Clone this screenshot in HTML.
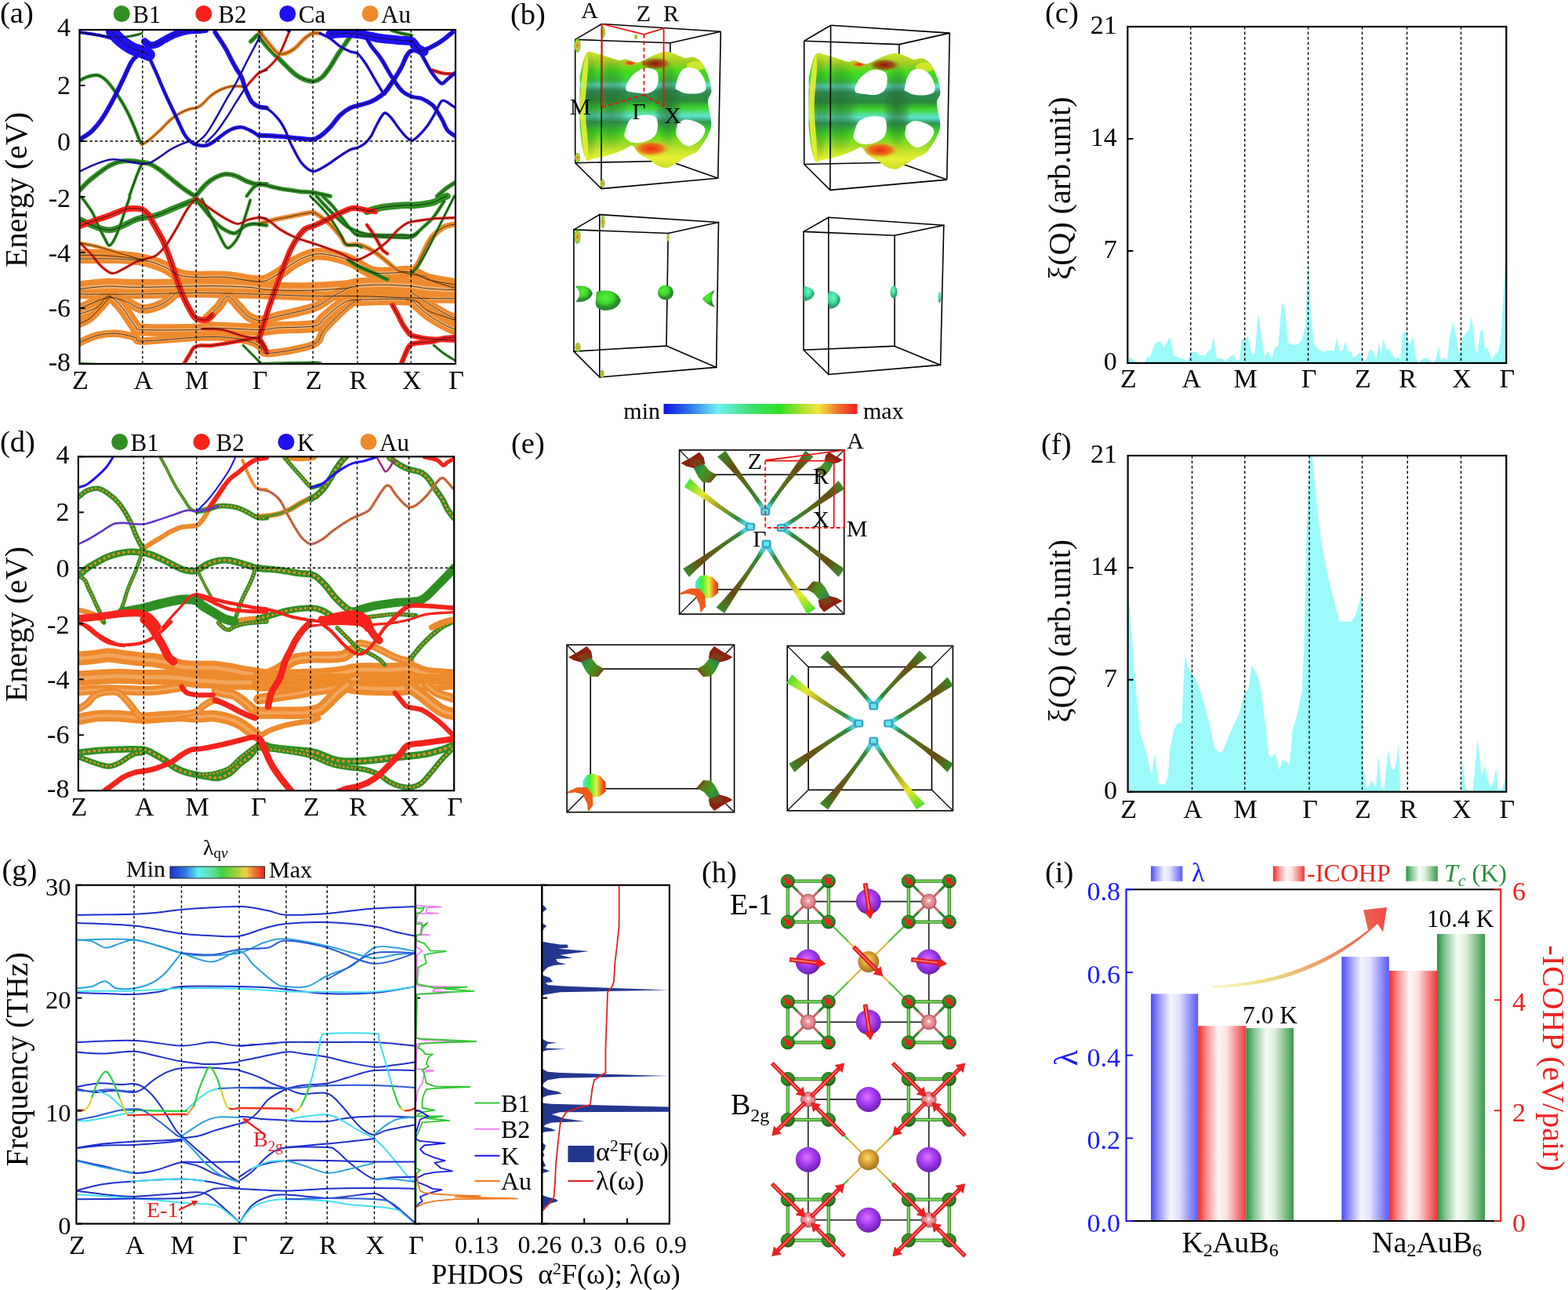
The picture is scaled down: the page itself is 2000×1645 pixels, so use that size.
<!DOCTYPE html>
<html><head><meta charset="utf-8"><title>Figure</title>
<style>html,body{margin:0;padding:0;background:#fff;} svg{display:block;} text{font-family:'Liberation Serif','DejaVu Serif',serif;}</style>
</head><body>
<svg width="2000" height="1645" viewBox="0 0 2000 1645">
<rect x="0" y="0" width="2000" height="1645" fill="#fff"/>
<clipPath id="clipA"><rect x="101.5" y="38" width="479.5" height="426"/></clipPath>
<g clip-path="url(#clipA)" stroke-linecap="round" stroke-linejoin="round" fill="none">
<path d="M100.0,325.3 C106.0,325.4 122.5,325.0 136.2,326.0 C149.8,327.0 169.9,329.0 181.9,331.3 C194.0,333.6 200.8,336.6 208.5,339.8 C216.1,343.0 220.9,348.3 227.7,350.6 C234.6,352.9 239.4,353.0 249.4,353.5 C259.5,354.0 274.3,352.6 288.0,353.5 C301.7,354.4 320.5,359.5 331.4,359.1 C342.2,358.6 345.4,354.8 353.1,350.6 C360.7,346.4 369.1,338.2 377.2,333.7 C385.2,329.3 393.2,325.4 401.3,324.1 C409.3,322.8 417.3,324.4 425.4,326.0 C433.4,327.6 441.4,330.2 449.5,333.7 C457.5,337.2 465.5,344.6 473.6,347.0 C481.6,349.4 489.3,348.2 497.7,348.2 C506.1,348.2 516.2,345.6 524.2,347.0 C532.2,348.4 536.2,353.9 545.9,356.6 C555.5,359.3 576.0,362.1 582.0,363.1" stroke="#ee8a2c" stroke-width="15.6"/>
<path d="M100.0,325.3 C106.0,325.4 122.5,325.0 136.2,326.0 C149.8,327.0 169.9,329.0 181.9,331.3 C194.0,333.6 200.8,336.6 208.5,339.8 C216.1,343.0 220.9,348.3 227.7,350.6 C234.6,352.9 239.4,353.0 249.4,353.5 C259.5,354.0 274.3,352.6 288.0,353.5 C301.7,354.4 320.5,359.5 331.4,359.1 C342.2,358.6 345.4,354.8 353.1,350.6 C360.7,346.4 369.1,338.2 377.2,333.7 C385.2,329.3 393.2,325.4 401.3,324.1 C409.3,322.8 417.3,324.4 425.4,326.0 C433.4,327.6 441.4,330.2 449.5,333.7 C457.5,337.2 465.5,344.6 473.6,347.0 C481.6,349.4 489.3,348.2 497.7,348.2 C506.1,348.2 516.2,345.6 524.2,347.0 C532.2,348.4 536.2,353.9 545.9,356.6 C555.5,359.3 576.0,362.1 582.0,363.1" stroke="#f8d0a4" stroke-width="4.4" stroke-dasharray="1.3 3" opacity="0.55"/>
<path d="M100.0,330.1 C108.0,330.1 134.5,329.7 148.2,330.1 C161.9,330.5 176.3,332.1 181.9,332.5" stroke="#ee8a2c" stroke-width="12.0"/>
<path d="M100.0,330.1 C108.0,330.1 134.5,329.7 148.2,330.1 C161.9,330.5 176.3,332.1 181.9,332.5" stroke="#f8d0a4" stroke-width="3.4" stroke-dasharray="1.3 3" opacity="0.55"/>
<path d="M100.0,309.6 C104.0,310.4 116.1,312.5 124.1,314.5 C132.1,316.5 138.6,318.9 148.2,321.7 C157.8,324.5 176.3,329.7 181.9,331.3" stroke="#ee8a2c" stroke-width="4.8"/>
<path d="M100.0,368.7 C106.0,368.1 124.1,365.5 136.2,365.1 C148.2,364.7 158.2,366.2 172.3,366.3 C186.4,366.4 204.4,365.8 220.5,365.6 C236.6,365.3 252.6,364.5 268.7,364.6 C284.8,364.7 304.9,365.5 316.9,366.3 C329.0,367.1 329.0,368.7 341.0,369.4 C353.1,370.1 373.2,370.6 389.2,370.4 C405.3,370.1 426.2,368.9 437.4,368.0 C448.7,367.0 448.7,365.4 456.7,364.6 C464.7,363.8 474.8,363.1 485.6,363.1 C496.5,363.1 511.7,363.8 521.8,364.6 C531.8,365.4 535.8,367.1 545.9,368.0 C555.9,368.9 576.0,369.6 582.0,369.9" stroke="#ee8a2c" stroke-width="20.4"/>
<path d="M100.0,368.7 C106.0,368.1 124.1,365.5 136.2,365.1 C148.2,364.7 158.2,366.2 172.3,366.3 C186.4,366.4 204.4,365.8 220.5,365.6 C236.6,365.3 252.6,364.5 268.7,364.6 C284.8,364.7 304.9,365.5 316.9,366.3 C329.0,367.1 329.0,368.7 341.0,369.4 C353.1,370.1 373.2,370.6 389.2,370.4 C405.3,370.1 426.2,368.9 437.4,368.0 C448.7,367.0 448.7,365.4 456.7,364.6 C464.7,363.8 474.8,363.1 485.6,363.1 C496.5,363.1 511.7,363.8 521.8,364.6 C531.8,365.4 535.8,367.1 545.9,368.0 C555.9,368.9 576.0,369.6 582.0,369.9" stroke="#f8d0a4" stroke-width="5.7" stroke-dasharray="1.3 3" opacity="0.55"/>
<path d="M100.0,375.2 C112.1,375.2 147.4,375.5 172.3,375.2 C197.2,374.9 222.9,373.5 249.4,373.5 C275.9,373.5 306.1,374.5 331.4,375.2 C356.7,375.9 380.4,377.2 401.3,377.6 C422.2,378.0 436.2,377.2 456.7,377.6 C477.2,378.0 503.3,379.5 524.2,380.0 C545.1,380.5 572.4,380.6 582.0,380.7" stroke="#ee8a2c" stroke-width="12.0"/>
<path d="M100.0,375.2 C112.1,375.2 147.4,375.5 172.3,375.2 C197.2,374.9 222.9,373.5 249.4,373.5 C275.9,373.5 306.1,374.5 331.4,375.2 C356.7,375.9 380.4,377.2 401.3,377.6 C422.2,378.0 436.2,377.2 456.7,377.6 C477.2,378.0 503.3,379.5 524.2,380.0 C545.1,380.5 572.4,380.6 582.0,380.7" stroke="#f8d0a4" stroke-width="3.4" stroke-dasharray="1.3 3" opacity="0.55"/>
<path d="M100.0,394.0 C106.0,391.7 126.1,381.6 136.2,380.0 C146.2,378.4 152.6,382.0 160.3,384.4 C167.9,386.7 173.9,393.6 181.9,394.0 C190.0,394.4 200.8,390.7 208.5,386.8 C216.1,382.8 224.5,373.1 227.7,370.4" stroke="#ee8a2c" stroke-width="12.0"/>
<path d="M100.0,394.0 C106.0,391.7 126.1,381.6 136.2,380.0 C146.2,378.4 152.6,382.0 160.3,384.4 C167.9,386.7 173.9,393.6 181.9,394.0 C190.0,394.4 200.8,390.7 208.5,386.8 C216.1,382.8 224.5,373.1 227.7,370.4" stroke="#f8d0a4" stroke-width="3.4" stroke-dasharray="1.3 3" opacity="0.55"/>
<path d="M100.0,401.2 C104.0,399.6 117.7,395.5 124.1,391.6 C130.5,387.7 133.3,377.6 138.6,377.6 C143.8,377.6 149.8,385.2 155.4,391.6 C161.1,397.9 167.9,410.9 172.3,415.7 C176.7,420.5 169.1,419.7 181.9,420.5 C194.8,421.3 235.0,420.9 249.4,420.5 C263.9,420.1 255.1,418.1 268.7,418.1 C282.4,418.1 317.3,420.5 331.4,420.5 C345.4,420.5 341.4,418.9 353.1,418.1 C364.7,417.3 391.2,417.7 401.3,415.7 C411.3,413.7 407.3,410.9 413.3,406.0 C419.4,401.2 430.2,390.7 437.4,386.8 C444.7,382.8 442.3,383.2 456.7,382.4 C471.2,381.7 509.3,380.1 524.2,382.4 C539.1,384.8 536.2,392.1 545.9,396.4 C555.5,400.7 576.0,406.5 582.0,408.5" stroke="#ee8a2c" stroke-width="15.6"/>
<path d="M100.0,401.2 C104.0,399.6 117.7,395.5 124.1,391.6 C130.5,387.7 133.3,377.6 138.6,377.6 C143.8,377.6 149.8,385.2 155.4,391.6 C161.1,397.9 167.9,410.9 172.3,415.7 C176.7,420.5 169.1,419.7 181.9,420.5 C194.8,421.3 235.0,420.9 249.4,420.5 C263.9,420.1 255.1,418.1 268.7,418.1 C282.4,418.1 317.3,420.5 331.4,420.5 C345.4,420.5 341.4,418.9 353.1,418.1 C364.7,417.3 391.2,417.7 401.3,415.7 C411.3,413.7 407.3,410.9 413.3,406.0 C419.4,401.2 430.2,390.7 437.4,386.8 C444.7,382.8 442.3,383.2 456.7,382.4 C471.2,381.7 509.3,380.1 524.2,382.4 C539.1,384.8 536.2,392.1 545.9,396.4 C555.5,400.7 576.0,406.5 582.0,408.5" stroke="#f8d0a4" stroke-width="4.4" stroke-dasharray="1.3 3" opacity="0.55"/>
<path d="M100.0,413.3 C102.4,412.1 109.6,409.7 114.5,406.0 C119.3,402.4 124.5,396.4 128.9,391.6 C133.3,386.8 139.0,379.5 141.0,377.1" stroke="#ee8a2c" stroke-width="10.8"/>
<path d="M100.0,437.4 C104.0,435.8 116.1,429.8 124.1,427.7 C132.1,425.7 140.2,424.9 148.2,425.3 C156.2,425.7 166.7,428.5 172.3,430.2 C177.9,431.8 169.1,435.0 181.9,435.0 C194.8,435.0 231.8,431.0 249.4,430.2 C267.1,429.3 276.7,429.3 288.0,430.2 C299.2,431.0 309.7,433.0 316.9,435.0 C324.2,437.0 327.4,439.6 331.4,442.2 C335.4,444.8 329.8,451.0 341.0,450.6 C352.3,450.2 386.8,444.8 398.9,439.8 C410.9,434.8 406.9,427.7 413.3,420.5 C419.8,413.3 430.2,403.0 437.4,396.4 C444.7,389.8 453.5,383.4 456.7,380.7" stroke="#ee8a2c" stroke-width="9.6"/>
<path d="M100.0,437.4 C104.0,435.8 116.1,429.8 124.1,427.7 C132.1,425.7 140.2,424.9 148.2,425.3 C156.2,425.7 166.7,428.5 172.3,430.2 C177.9,431.8 169.1,435.0 181.9,435.0 C194.8,435.0 231.8,431.0 249.4,430.2 C267.1,429.3 276.7,429.3 288.0,430.2 C299.2,431.0 309.7,433.0 316.9,435.0 C324.2,437.0 327.4,439.6 331.4,442.2 C335.4,444.8 329.8,451.0 341.0,450.6 C352.3,450.2 386.8,444.8 398.9,439.8 C410.9,434.8 406.9,427.7 413.3,420.5 C419.8,413.3 430.2,403.0 437.4,396.4 C444.7,389.8 453.5,383.4 456.7,380.7" stroke="#f8d0a4" stroke-width="2.7" stroke-dasharray="1.3 3" opacity="0.55"/>
<path d="M263.9,406.0 C266.3,403.6 273.9,396.3 278.4,391.6 C282.8,386.8 286.0,377.6 290.4,377.6 C294.8,377.6 300.4,387.2 304.9,391.6 C309.3,395.9 312.5,400.8 316.9,403.6 C321.3,406.5 325.4,408.5 331.4,408.5 C337.4,408.5 341.4,406.5 353.1,403.6 C364.7,400.8 389.2,396.0 401.3,391.6 C413.3,387.2 417.3,381.5 425.4,377.1 C433.4,372.7 445.5,367.1 449.5,365.1" stroke="#ee8a2c" stroke-width="12.0"/>
<path d="M263.9,406.0 C266.3,403.6 273.9,396.3 278.4,391.6 C282.8,386.8 286.0,377.6 290.4,377.6 C294.8,377.6 300.4,387.2 304.9,391.6 C309.3,395.9 312.5,400.8 316.9,403.6 C321.3,406.5 325.4,408.5 331.4,408.5 C337.4,408.5 341.4,406.5 353.1,403.6 C364.7,400.8 389.2,396.0 401.3,391.6 C413.3,387.2 417.3,381.5 425.4,377.1 C433.4,372.7 445.5,367.1 449.5,365.1" stroke="#f8d0a4" stroke-width="3.4" stroke-dasharray="1.3 3" opacity="0.55"/>
<path d="M524.2,381.9 C527.8,385.2 538.3,395.6 545.9,401.2 C553.5,406.9 564.0,412.5 570.0,415.7 C576.0,418.9 580.0,419.7 582.0,420.5" stroke="#ee8a2c" stroke-width="14.4"/>
<path d="M524.2,381.9 C527.8,385.2 538.3,395.6 545.9,401.2 C553.5,406.9 564.0,412.5 570.0,415.7 C576.0,418.9 580.0,419.7 582.0,420.5" stroke="#f8d0a4" stroke-width="4.0" stroke-dasharray="1.3 3" opacity="0.55"/>
<path d="M524.2,372.3 C527.8,374.7 538.3,381.9 545.9,386.8 C553.5,391.6 564.0,398.0 570.0,401.2 C576.0,404.4 580.0,405.2 582.0,406.0" stroke="#ee8a2c" stroke-width="10.8"/>
<path d="M524.2,372.3 C527.8,374.7 538.3,381.9 545.9,386.8 C553.5,391.6 564.0,398.0 570.0,401.2 C576.0,404.4 580.0,405.2 582.0,406.0" stroke="#f8d0a4" stroke-width="3.0" stroke-dasharray="1.3 3" opacity="0.55"/>
<path d="M330.0,285.5 C333.3,284.6 343.1,281.7 349.7,280.2 C356.3,278.7 362.8,277.6 369.4,276.3 C376.0,275.0 384.1,273.2 389.1,272.3 C394.1,271.5 396.3,270.4 399.6,271.0 C402.9,271.7 405.1,273.6 408.8,276.3 C412.5,278.9 417.6,282.4 421.9,286.8 C426.3,291.2 431.8,298.4 435.1,302.5 C438.4,306.7 438.1,310.2 441.6,311.7 C445.1,313.3 451.7,311.1 456.1,311.7 C460.5,312.4 463.7,313.7 467.9,315.7 C472.1,317.6 476.7,320.5 481.0,323.5 C485.4,326.6 489.8,330.6 494.2,334.1 C498.5,337.6 502.3,341.9 507.3,344.6 C512.3,347.2 518.9,348.5 524.4,349.8 C529.9,351.1 535.3,350.9 540.1,352.4 C545.0,354.0 546.0,356.4 553.3,359.0 C560.5,361.6 578.4,366.7 583.5,368.2" stroke="#ee8a2c" stroke-width="6.0"/>
<path d="M524.4,348.5 C525.9,346.3 530.9,339.7 533.6,335.4 C536.2,331.0 538.0,326.6 540.1,322.2 C542.3,317.9 544.5,312.8 546.7,309.1 C548.9,305.4 550.0,303.2 553.3,299.9 C556.6,296.6 561.4,291.8 566.4,289.4 C571.4,287.0 580.6,286.1 583.5,285.5" stroke="#ee8a2c" stroke-width="7.2"/>
<path d="M100.0,41.2 C102.2,41.5 108.7,42.5 113.0,43.2 C117.3,43.8 121.7,44.6 126.0,45.1 C130.4,45.6 134.7,46.0 139.0,46.4 C143.4,46.8 147.7,47.7 152.0,47.7 C156.4,47.7 160.9,47.1 165.0,46.4 C169.2,45.8 174.1,44.5 176.7,43.8 C179.3,43.2 180.0,42.7 180.7,42.5" stroke="#2f8f23" stroke-width="3.3"/>
<path d="M100.0,103.6 C101.7,102.8 106.5,99.7 110.4,98.4 C114.3,97.1 119.5,95.4 123.4,95.8 C127.3,96.3 130.6,98.4 133.8,101.0 C137.1,103.6 139.9,107.5 142.9,111.4 C146.0,115.3 149.0,119.7 152.0,124.5 C155.1,129.2 158.1,134.2 161.1,140.1 C164.2,145.9 167.4,153.1 170.2,159.6 C173.1,166.1 176.2,175.0 178.0,179.1 C179.9,183.2 180.8,183.4 181.3,184.3" stroke="#2f8f23" stroke-width="4.4"/>
<path d="M181.3,184.3 C182.9,183.2 187.3,180.8 191.1,177.8 C194.9,174.8 199.7,170.2 204.1,166.1 C208.4,162.0 212.7,156.8 217.1,153.1 C221.4,149.4 225.7,146.4 230.1,144.0 C234.4,141.6 239.6,139.8 243.1,138.8 C246.6,137.7 248.3,138.5 250.9,137.5 C253.5,136.4 255.7,134.9 258.7,132.3 C261.7,129.7 265.2,124.9 269.1,121.9 C273.0,118.8 277.8,116.0 282.1,114.0 C286.4,112.1 291.2,110.8 295.1,110.1 C299.0,109.5 302.5,109.9 305.5,110.1 C308.6,110.4 312.0,111.2 313.3,111.4" stroke="#ee8a2c" stroke-width="4.2"/>
<path d="M100.0,244.1 C102.2,242.0 108.7,235.0 113.0,231.1 C117.3,227.2 121.7,224.0 126.0,220.7 C130.4,217.5 134.7,214.0 139.0,211.6 C143.4,209.2 147.7,207.5 152.0,206.4 C156.4,205.3 160.7,205.1 165.0,205.1 C169.4,205.1 173.7,205.8 178.0,206.4 C182.4,207.1 186.7,207.3 191.1,209.0 C195.4,210.7 199.7,213.8 204.1,216.8 C208.4,219.8 212.7,223.8 217.1,227.2 C221.4,230.7 225.7,234.4 230.1,237.6 C234.4,240.9 239.8,244.7 243.1,246.7 C246.3,248.8 248.5,249.4 249.6,250.0" stroke="#2f8f23" stroke-width="6.1"/>
<path d="M249.6,250.0 C251.8,247.5 258.3,239.0 262.6,235.0 C266.9,231.0 271.3,228.1 275.6,225.9 C279.9,223.8 284.3,222.2 288.6,222.0 C293.0,221.8 297.3,223.1 301.6,224.6 C306.0,226.1 310.3,229.4 314.6,231.1 C319.0,232.9 323.4,234.4 327.6,235.0 C331.9,235.7 337.9,235.0 340.0,235.0" stroke="#2f8f23" stroke-width="6.1"/>
<path d="M180.7,209.0 C179.6,211.6 176.1,219.6 174.1,224.6 C172.2,229.6 170.5,234.7 168.9,238.9 C167.4,243.2 165.7,248.1 165.0,250.0" stroke="#2f8f23" stroke-width="3.9"/>
<path d="M314.6,250.0 C316.2,248.1 320.7,241.6 323.7,238.9 C326.8,236.2 331.3,234.6 332.8,233.7" stroke="#2f8f23" stroke-width="4.4"/>
<path d="M319.8,52.9 C320.9,51.8 324.2,48.4 326.3,46.4 C328.5,44.5 331.8,42.1 332.8,41.2" stroke="#2f8f23" stroke-width="5.5"/>
<path d="M330.0,46.4 C332.2,49.0 338.7,57.3 343.0,62.0 C347.3,66.8 351.7,70.7 356.0,75.0 C360.4,79.4 364.7,84.1 369.0,88.0 C373.4,92.0 377.1,95.9 382.0,98.5 C387.0,101.1 394.2,103.7 399.0,103.7 C403.7,103.7 407.0,101.5 410.7,98.5 C414.4,95.4 417.6,90.4 421.1,85.4 C424.6,80.5 428.2,73.5 431.5,68.5 C434.7,63.5 438.0,59.2 440.6,55.5 C443.2,51.8 444.9,49.0 447.1,46.4 C449.3,43.8 452.5,41.0 453.6,39.9" stroke="#2f8f23" stroke-width="6.1"/>
<path d="M330.0,233.8 C334.3,234.9 347.3,238.6 356.0,240.3 C364.7,242.0 374.9,243.3 382.0,244.2 C389.2,245.1 392.5,244.5 399.0,245.5 C405.5,246.5 417.4,249.3 421.1,250.1" stroke="#2f8f23" stroke-width="5.5"/>
<path d="M557.7,250.1 C559.9,248.2 566.8,241.9 570.7,239.0 C574.6,236.1 579.4,233.6 581.1,232.5" stroke="#2f8f23" stroke-width="5.5"/>
<path d="M499.2,38.6 C501.3,39.3 507.8,41.4 512.2,42.5 C516.5,43.6 523.0,44.7 525.2,45.1" stroke="#2f8f23" stroke-width="4.4"/>
<path d="M102.6,280.2 C104.4,281.1 109.2,283.7 113.1,285.4 C117.1,287.2 121.4,289.4 126.3,290.7 C131.1,292.0 136.5,294.0 142.0,293.3 C147.5,292.7 154.0,288.9 159.1,286.8 C164.1,284.6 168.5,281.7 172.2,280.2 C175.9,278.7 177.0,278.4 181.4,277.6 C185.8,276.7 192.3,276.7 198.5,274.9 C204.6,273.2 212.7,269.3 218.2,267.1 C223.6,264.9 226.9,263.6 231.3,261.8 C235.7,260.1 241.1,257.7 244.4,256.6 C247.7,255.5 249.9,255.5 251.0,255.3" stroke="#2f8f23" stroke-width="7.7"/>
<path d="M251.0,256.6 C252.1,257.7 254.7,259.8 257.5,263.1 C260.4,266.4 264.1,271.9 268.0,276.3 C272.0,280.6 276.4,285.9 281.2,289.4 C286.0,292.9 293.0,296.4 296.9,297.3 C300.9,298.1 302.2,296.2 304.8,294.6 C307.4,293.1 309.6,289.6 312.7,288.1 C315.7,286.5 319.2,285.7 323.2,285.4 C327.1,285.2 333.5,286.4 336.3,286.8 C339.1,287.1 339.4,287.3 340.0,287.4" stroke="#2f8f23" stroke-width="5.0"/>
<path d="M103.9,251.3 C106.1,254.4 113.3,263.3 117.1,269.7 C120.8,276.0 123.4,283.5 126.3,289.4 C129.1,295.3 131.9,301.2 134.1,305.1 C136.3,309.1 137.4,313.0 139.4,313.0 C141.4,313.0 143.8,309.1 145.9,305.1 C148.1,301.2 150.3,295.3 152.5,289.4 C154.7,283.5 156.9,276.0 159.1,269.7 C161.3,263.3 164.5,254.4 165.6,251.3" stroke="#2f8f23" stroke-width="3.9"/>
<path d="M257.5,253.9 C259.3,257.4 264.3,267.3 268.0,274.9 C271.8,282.6 276.4,293.1 279.9,299.9 C283.4,306.7 286.2,313.7 289.1,315.6 C291.9,317.6 294.3,314.3 296.9,311.7 C299.6,309.1 302.2,305.8 304.8,299.9 C307.4,294.0 310.3,283.7 312.7,276.3 C315.1,268.8 318.2,258.8 319.2,255.3" stroke="#2f8f23" stroke-width="3.9"/>
<path d="M100.0,464.0 C104.4,464.2 121.9,465.1 126.3,465.3" stroke="#2f8f23" stroke-width="4.4"/>
<path d="M310.1,440.4 C313.3,443.6 325.4,455.8 329.7,460.1 C334.1,464.3 335.2,465.0 336.3,466.0" stroke="#2f8f23" stroke-width="3.3"/>
<path d="M467.9,269.7 C471.2,268.8 479.9,265.8 487.6,264.4 C495.3,263.1 507.3,262.3 513.9,261.8 C520.4,261.4 522.6,262.0 527.0,261.8 C531.4,261.6 535.8,261.2 540.1,260.5 C544.5,259.9 549.3,259.2 553.3,257.9 C557.2,256.6 560.9,253.9 563.8,252.6 C566.6,251.3 569.3,250.4 570.3,250.0" stroke="#2f8f23" stroke-width="8.8"/>
<path d="M403.5,250.0 C405.5,252.2 411.2,258.8 415.4,263.1 C419.5,267.5 424.1,272.1 428.5,276.3 C432.9,280.4 437.3,285.0 441.6,288.1 C446.0,291.2 450.4,292.9 454.8,294.7 C459.1,296.4 462.4,297.7 467.9,298.6 C473.4,299.5 479.9,299.7 487.6,299.9 C495.3,300.1 507.3,299.9 513.9,299.9 C520.4,299.9 522.6,301.7 527.0,299.9 C531.4,298.2 535.8,293.3 540.1,289.4 C544.5,285.5 548.9,281.7 553.3,276.3 C557.7,270.8 564.2,259.9 566.4,256.6" stroke="#2f8f23" stroke-width="4.4"/>
<path d="M411.4,250.0 C413.6,252.2 420.2,258.1 424.6,263.1 C428.9,268.2 433.8,275.2 437.7,280.2 C441.6,285.2 445.1,290.1 448.2,293.3 C451.3,296.6 451.7,298.6 456.1,299.9 C460.5,301.2 467.0,300.8 474.5,301.2 C481.9,301.7 492.4,302.3 500.7,302.5 C509.1,302.8 518.9,303.6 524.4,302.5 C529.9,301.4 532.0,297.1 533.6,296.0" stroke="#2f8f23" stroke-width="4.4"/>
<path d="M395.7,250.0 C397.9,252.2 404.4,258.3 408.8,263.1 C413.2,267.9 417.6,272.8 421.9,278.9 C426.3,285.0 431.8,294.4 435.1,299.9 C438.4,305.4 438.4,309.5 441.6,311.7 C444.9,313.9 451.5,312.4 454.8,313.0 C458.1,313.7 460.2,315.2 461.3,315.7" stroke="#2f8f23" stroke-width="3.3"/>
<path d="M444.3,331.4 C446.2,332.7 451.0,336.7 456.1,339.3 C461.1,341.9 469.2,344.8 474.5,347.2 C479.7,349.6 484.3,352.2 487.6,353.8 C490.9,355.3 493.1,355.9 494.2,356.4" stroke="#2f8f23" stroke-width="5.0"/>
<path d="M524.4,348.5 C525.9,347.0 529.9,344.8 533.6,339.3 C537.3,333.8 542.3,324.0 546.7,315.7 C551.1,307.4 555.5,298.2 559.8,289.4 C564.2,280.6 569.7,269.7 573.0,263.1 C576.3,256.6 578.4,252.2 579.5,250.0" stroke="#2f8f23" stroke-width="3.3"/>
<path d="M330.0,464.1 C341.6,463.9 386.5,462.8 399.6,462.8 C412.7,462.8 407.3,463.9 408.8,464.1" stroke="#2f8f23" stroke-width="4.4"/>
<path d="M553.3,440.4 C555.5,442.2 561.4,447.4 566.4,450.9 C571.4,454.4 580.6,459.7 583.5,461.5" stroke="#2f8f23" stroke-width="3.3"/>
<path d="M102.6,288.1 C105.5,287.0 113.6,283.7 119.7,281.5 C125.8,279.3 132.8,277.4 139.4,274.9 C145.9,272.5 153.6,268.6 159.1,267.1 C164.5,265.5 168.5,265.8 172.2,265.8 C175.9,265.8 178.6,265.8 181.4,267.1 C184.2,268.4 187.1,271.0 189.3,273.6 C191.5,276.3 192.6,279.3 194.5,282.8 C196.5,286.3 198.9,290.7 201.1,294.6 C203.3,298.6 205.7,302.3 207.7,306.5 C209.6,310.6 211.2,315.0 212.9,319.6 C214.7,324.2 216.4,329.0 218.2,334.0 C219.9,339.1 221.7,344.5 223.4,349.8 C225.2,355.0 226.7,360.3 228.7,365.5 C230.6,370.8 233.0,376.5 235.2,381.3 C237.4,386.1 239.6,390.5 241.8,394.4 C244.0,398.4 246.2,402.7 248.4,404.9 C250.5,407.1 252.3,407.1 254.9,407.5 C257.5,408.0 261.5,408.4 264.1,407.5 C266.7,406.7 269.6,403.2 270.7,402.3" stroke="#f5231b" stroke-width="7.7"/>
<path d="M102.6,310.4 C104.8,312.6 111.4,318.7 115.8,323.5 C120.1,328.3 124.3,335.1 128.9,339.3 C133.5,343.4 138.3,348.0 143.3,348.5 C148.4,348.9 154.0,344.3 159.1,341.9 C164.1,339.5 169.1,336.0 173.5,334.0 C177.9,332.1 181.2,331.4 185.3,330.1 C189.5,328.8 194.1,329.0 198.5,326.1 C202.8,323.3 207.2,318.7 211.6,313.0 C216.0,307.3 220.3,299.5 224.7,292.0 C229.1,284.6 233.9,274.7 237.8,268.4 C241.8,262.0 246.6,256.3 248.4,253.9" stroke="#f5231b" stroke-width="3.3"/>
<path d="M251.0,252.6 C253.2,254.4 259.7,259.8 264.1,263.1 C268.5,266.4 272.9,269.5 277.2,272.3 C281.6,275.2 286.0,278.0 290.4,280.2 C294.7,282.4 299.1,285.4 303.5,285.4 C307.9,285.4 312.2,281.5 316.6,280.2 C321.0,278.9 325.9,277.8 329.7,277.6 C333.6,277.4 338.3,278.7 340.0,278.9" stroke="#f5231b" stroke-width="3.3"/>
<path d="M233.9,465.3 C235.2,463.1 239.2,456.1 241.8,452.2 C244.4,448.2 244.9,443.6 249.7,441.7 C254.5,439.7 262.8,441.2 270.7,440.4 C278.5,439.5 289.3,437.7 296.9,436.4 C304.6,435.1 311.2,433.4 316.6,432.5 C322.1,431.6 326.5,430.1 329.7,431.2 C333.0,432.3 334.6,436.4 336.3,439.1 C338.0,441.7 339.4,445.6 340.0,446.9" stroke="#f5231b" stroke-width="5.0"/>
<path d="M257.5,419.4 C261.9,419.6 275.0,419.1 283.8,420.7 C292.6,422.2 302.4,426.8 310.1,428.5 C317.7,430.3 326.5,430.7 329.7,431.2" stroke="#f5231b" stroke-width="3.3"/>
<path d="M330.0,433.9 C331.3,429.5 335.3,415.9 337.9,407.6 C340.5,399.3 342.7,392.7 345.8,384.0 C348.8,375.2 353.2,363.4 356.3,355.1 C359.3,346.8 361.5,340.6 364.1,334.1 C366.8,327.5 369.4,320.9 372.0,315.7 C374.7,310.4 377.1,306.5 379.9,302.5 C382.8,298.6 385.8,294.4 389.1,292.0 C392.4,289.6 396.3,289.4 399.6,288.1 C402.9,286.8 405.1,285.9 408.8,284.1 C412.5,282.4 417.6,279.8 421.9,277.6 C426.3,275.4 430.7,273.0 435.1,271.0 C439.4,269.0 444.7,266.6 448.2,265.8 C451.7,264.9 452.8,265.3 456.1,265.8 C459.4,266.2 464.2,267.7 467.9,268.4 C471.6,269.0 476.7,269.5 478.4,269.7" stroke="#f5231b" stroke-width="7.2"/>
<path d="M330.0,276.3 C332.2,277.1 338.8,278.9 343.1,281.5 C347.5,284.1 350.8,288.5 356.3,292.0 C361.7,295.5 369.4,299.7 376.0,302.5 C382.5,305.4 389.1,306.9 395.7,309.1 C402.2,311.3 408.8,313.3 415.4,315.7 C421.9,318.1 429.6,321.1 435.1,323.5 C440.5,326.0 444.7,328.8 448.2,330.1 C451.7,331.4 452.8,332.1 456.1,331.4 C459.4,330.8 463.7,328.4 467.9,326.2 C472.1,324.0 476.7,321.4 481.0,318.3 C485.4,315.2 489.8,311.9 494.2,307.8 C498.5,303.6 502.9,297.3 507.3,293.3 C511.7,289.4 516.1,286.1 520.4,284.1 C524.8,282.2 528.1,282.4 533.6,281.5 C539.0,280.6 545.0,279.6 553.3,278.9 C561.6,278.2 578.4,277.8 583.5,277.6" stroke="#f5231b" stroke-width="3.3"/>
<path d="M467.9,286.8 C469.0,288.3 472.3,292.7 474.5,296.0 C476.7,299.3 478.8,302.8 481.0,306.5 C483.2,310.2 485.4,315.4 487.6,318.3 C489.8,321.1 493.1,322.7 494.2,323.5" stroke="#f5231b" stroke-width="4.4"/>
<path d="M500.7,389.2 C501.8,391.2 505.1,396.9 507.3,401.0 C509.5,405.2 511.7,410.5 513.9,414.2 C516.1,417.9 518.7,421.2 520.4,423.4 C522.2,425.6 521.1,426.0 524.4,427.3 C527.7,428.6 535.3,430.4 540.1,431.2 C545.0,432.1 546.0,432.1 553.3,432.6 C560.5,433.0 578.4,433.7 583.5,433.9" stroke="#f5231b" stroke-width="6.6"/>
<path d="M511.2,466.0 C512.3,463.3 515.6,454.1 517.8,449.6 C520.0,445.1 520.7,441.3 524.4,439.1 C528.1,436.9 535.3,437.2 540.1,436.5 C545.0,435.8 548.9,436.1 553.3,435.2 C557.7,434.3 561.4,432.1 566.4,431.2 C571.4,430.4 580.6,430.2 583.5,429.9" stroke="#f5231b" stroke-width="6.6"/>
<path d="M330.0,431.2 C331.1,433.4 334.8,441.3 336.6,444.4 C338.3,447.4 339.9,448.8 340.5,449.6" stroke="#f5231b" stroke-width="5.5"/>
<path d="M330.0,93.3 C332.2,92.0 338.7,89.4 343.0,85.4 C347.3,81.5 351.7,77.4 356.0,69.8 C360.4,62.2 366.9,44.9 369.0,39.9" stroke="#f5231b" stroke-width="3.3"/>
<path d="M551.2,89.4 C553.4,90.0 559.2,92.4 564.2,93.3 C569.2,94.1 578.3,94.3 581.1,94.6" stroke="#f5231b" stroke-width="4.4"/>
<path d="M313.3,111.4 C314.6,109.9 318.3,105.4 321.1,102.3 C324.0,99.3 327.1,95.4 330.2,93.2 C333.4,91.1 338.4,90.0 340.0,89.3" stroke="#f5231b" stroke-width="3.3"/>
<path d="M102.6,41.2 C105.4,41.6 114.5,42.9 119.5,43.8 C124.5,44.7 128.6,45.5 132.5,46.4 C136.4,47.3 141.2,48.6 142.9,49.0" stroke="#1f10f2" stroke-width="4.0"/>
<path d="M142.9,39.9 C144.0,41.2 146.8,45.1 149.4,47.7 C152.0,50.3 155.3,53.1 158.5,55.5 C161.8,57.9 165.3,60.3 168.9,62.0 C172.6,63.8 177.2,64.6 180.7,65.9 C184.1,67.2 188.2,69.2 189.8,69.8" stroke="#1f10f2" stroke-width="16.1"/>
<path d="M184.6,52.9 C185.6,53.7 188.7,56.8 191.1,57.5 C193.4,58.1 195.6,58.0 198.9,56.8 C202.1,55.6 206.4,52.5 210.6,50.3 C214.7,48.1 219.2,45.5 223.6,43.8 C227.9,42.1 232.9,40.8 236.6,39.9 C240.3,39.0 244.2,38.8 245.7,38.6" stroke="#1f10f2" stroke-width="9.2"/>
<path d="M103.9,176.5 C106.1,175.0 112.6,171.5 116.9,167.4 C121.2,163.3 125.6,158.1 129.9,151.8 C134.3,145.5 138.6,137.7 142.9,129.7 C147.3,121.6 151.8,112.1 155.9,103.6 C160.1,95.2 164.0,84.8 167.6,78.9 C171.3,73.1 176.3,70.3 178.0,68.5" stroke="#1f10f2" stroke-width="5.8"/>
<path d="M191.1,75.0 C192.4,77.8 195.6,84.6 198.9,91.9 C202.1,99.3 206.7,110.6 210.6,119.3 C214.5,127.9 218.2,135.3 222.3,144.0 C226.4,152.6 231.8,165.2 235.3,171.3 C238.8,177.4 240.7,178.2 243.1,180.4 C245.5,182.6 246.3,183.4 249.6,184.3 C252.8,185.2 258.7,186.2 262.6,185.6 C266.5,184.9 271.3,181.3 273.0,180.4" stroke="#1f10f2" stroke-width="4.6"/>
<path d="M273.0,180.4 C275.0,178.9 281.0,173.9 284.7,171.3 C288.4,168.7 291.2,166.3 295.1,164.8 C299.0,163.3 303.8,161.7 308.1,162.2 C312.5,162.6 317.5,165.6 321.1,167.4 C324.8,169.1 327.1,171.6 330.2,172.6 C333.4,173.6 338.4,173.1 340.0,173.2" stroke="#1f10f2" stroke-width="4.6"/>
<path d="M102.6,218.1 C105.4,216.8 113.4,212.7 119.5,210.3 C125.6,207.9 133.6,204.9 139.0,203.8 C144.4,202.7 147.7,203.4 152.0,203.8 C156.4,204.2 160.3,205.5 165.0,206.4 C169.8,207.3 176.3,208.8 180.7,209.0 C185.0,209.2 187.2,209.2 191.1,207.7 C195.0,206.2 199.7,202.7 204.1,199.9 C208.4,197.1 212.7,193.4 217.1,190.8 C221.4,188.2 226.2,186.0 230.1,184.3 C234.0,182.6 238.8,181.0 240.5,180.4" stroke="#1f10f2" stroke-width="2.5"/>
<path d="M249.6,183.0 C251.8,181.0 258.3,176.7 262.6,171.3 C266.9,165.9 271.3,157.8 275.6,150.5 C279.9,143.1 284.3,134.6 288.6,127.1 C293.0,119.5 297.3,113.0 301.6,104.9 C306.0,96.9 310.1,87.8 314.6,78.9 C319.2,70.0 325.7,57.7 328.9,51.6 C332.2,45.5 333.3,44.0 334.1,42.5" stroke="#1f10f2" stroke-width="2.5"/>
<path d="M262.6,181.7 C264.8,179.5 271.3,173.9 275.6,168.7 C279.9,163.5 284.3,157.0 288.6,150.5 C293.0,144.0 297.5,136.2 301.6,129.7 C305.7,123.2 311.4,114.5 313.3,111.4" stroke="#1f10f2" stroke-width="2.5"/>
<path d="M274.3,41.2 C275.6,43.2 279.7,49.2 282.1,52.9 C284.5,56.6 286.4,59.4 288.6,63.3 C290.8,67.2 293.0,72.2 295.1,76.3 C297.3,80.4 299.5,84.3 301.6,88.0 C303.8,91.7 306.2,94.1 308.1,98.4 C310.1,102.8 311.2,108.8 313.3,114.0 C315.5,119.3 318.3,126.0 321.1,129.7 C324.0,133.3 327.1,134.9 330.2,136.2 C333.4,137.5 338.4,137.2 340.0,137.5" stroke="#1f10f2" stroke-width="5.8"/>
<path d="M249.6,39.9 C251.8,39.7 260.4,38.8 262.6,38.6" stroke="#1f10f2" stroke-width="6.9"/>
<path d="M421.1,43.8 C423.3,43.6 429.8,42.7 434.1,42.5 C438.4,42.3 442.8,42.3 447.1,42.5 C451.4,42.7 455.8,43.2 460.1,43.8 C464.5,44.5 468.8,45.5 473.1,46.4 C477.5,47.3 481.8,48.4 486.1,49.0 C490.5,49.7 494.8,49.9 499.2,50.3 C503.5,50.7 507.8,51.2 512.2,51.6 C516.5,52.0 521.7,51.2 525.2,52.9 C528.7,54.7 530.4,59.9 533.0,62.0 C535.6,64.2 539.5,65.3 540.8,65.9" stroke="#1f10f2" stroke-width="11.5"/>
<path d="M466.6,46.4 C467.7,48.4 469.9,53.3 473.1,58.1 C476.4,62.9 481.8,68.5 486.1,75.0 C490.5,81.5 494.8,90.4 499.2,97.2 C503.5,103.9 507.8,111.0 512.2,115.4 C516.5,119.7 520.8,121.4 525.2,123.2 C529.5,124.9 533.9,124.1 538.2,125.8 C542.5,127.5 548.2,131.2 551.2,133.6 C554.2,136.0 554.2,136.8 556.4,140.1 C558.6,143.4 561.8,148.8 564.2,153.1 C566.6,157.4 567.9,162.7 570.7,166.1 C573.5,169.6 579.4,172.6 581.1,173.9" stroke="#1f10f2" stroke-width="5.2"/>
<path d="M490.1,119.3 C492.4,115.8 500.7,104.1 504.4,98.5 C508.1,92.8 509.8,90.0 512.2,85.4 C514.6,80.9 516.5,74.6 518.7,71.1 C520.8,67.7 521.9,65.7 525.2,64.6 C528.4,63.5 533.9,65.5 538.2,64.6 C542.5,63.8 546.9,61.6 551.2,59.4 C555.5,57.3 559.9,54.7 564.2,51.6 C568.6,48.6 575.1,42.9 577.2,41.2" stroke="#1f10f2" stroke-width="5.8"/>
<path d="M330.0,134.9 C332.2,135.8 338.7,137.1 343.0,140.1 C347.3,143.1 352.6,148.8 356.0,153.1 C359.5,157.4 361.7,161.8 363.8,166.1 C366.0,170.5 367.1,174.8 369.0,179.1 C371.0,183.5 372.9,187.4 375.5,192.1 C378.1,196.9 381.0,203.4 384.7,207.8 C388.3,212.1 393.8,216.9 397.7,218.2 C401.6,219.5 404.2,217.3 408.1,215.6 C412.0,213.8 416.7,210.6 421.1,207.8 C425.4,204.9 429.8,201.5 434.1,198.7 C438.4,195.8 443.4,192.6 447.1,190.8 C450.8,189.1 453.2,189.5 456.2,188.2 C459.3,186.9 462.5,185.4 465.3,183.0 C468.1,180.7 470.8,177.6 473.1,173.9 C475.5,170.2 477.5,165.0 479.6,160.9 C481.8,156.8 484.2,152.0 486.1,149.2 C488.1,146.4 489.2,143.8 491.4,144.0 C493.5,144.2 496.1,147.0 499.2,150.5 C502.2,154.0 506.3,160.7 509.6,164.8 C512.8,168.9 516.1,172.8 518.7,175.2 C521.3,177.6 522.8,179.4 525.2,179.1 C527.6,178.9 529.7,177.0 533.0,173.9 C536.2,170.9 541.0,165.9 544.7,160.9 C548.4,155.9 551.9,149.4 555.1,144.0 C558.4,138.6 560.5,129.9 564.2,128.4 C567.9,126.9 574.4,133.4 577.2,134.9 C580.1,136.4 580.5,137.1 581.1,137.5" stroke="#1f10f2" stroke-width="3.4"/>
<path d="M330.0,172.6 C334.3,172.8 347.3,173.3 356.0,173.9 C364.7,174.6 374.9,175.9 382.0,176.5 C389.2,177.2 394.6,178.3 399.0,177.8 C403.3,177.4 404.4,176.5 408.1,173.9 C411.8,171.3 416.7,166.8 421.1,162.2 C425.4,157.7 429.8,150.7 434.1,146.6 C438.4,142.5 442.8,139.7 447.1,137.5 C451.4,135.3 455.8,134.9 460.1,133.6 C464.5,132.3 468.8,131.6 473.1,129.7 C477.5,127.7 482.7,124.5 486.1,121.9 C489.6,119.3 491.1,117.5 494.0,114.1 C496.8,110.6 501.5,103.2 503.1,101.1" stroke="#1f10f2" stroke-width="5.8"/>
<path d="M525.2,50.3 C526.5,52.3 530.4,57.9 533.0,62.0 C535.6,66.1 537.8,69.8 540.8,75.0 C543.8,80.2 547.5,88.0 551.2,93.3 C554.9,98.5 559.7,105.0 562.9,106.3 C566.2,107.6 567.9,103.2 570.7,101.1 C573.5,98.9 578.3,94.6 579.8,93.3" stroke="#1f10f2" stroke-width="4.6"/>
<path d="M330.0,38.6 C332.2,41.4 339.1,50.7 343.0,55.5 C346.9,60.3 350.2,65.1 353.4,67.2 C356.7,69.4 358.8,69.4 362.5,68.5 C366.2,67.7 371.2,65.3 375.5,62.0 C379.9,58.8 384.7,52.3 388.6,49.0 C392.5,45.8 395.7,43.6 399.0,42.5 C402.2,41.4 406.6,42.5 408.1,42.5" stroke="#ee8a2c" stroke-width="5.4"/>
<path d="M408.1,42.5 C410.2,43.6 416.7,46.2 421.1,49.0 C425.4,51.8 429.8,56.6 434.1,59.4 C438.4,62.2 443.4,64.4 447.1,65.9 C450.8,67.4 453.0,65.9 456.2,68.5 C459.5,71.1 462.7,75.7 466.6,81.5 C470.5,87.4 476.2,97.8 479.6,103.7 C483.1,109.5 486.1,114.5 487.4,116.7" stroke="#1f10f2" stroke-width="3.4"/>
<path d="M369.0,39.9 C368.0,39.3 363.6,36.7 362.5,36.0" stroke="#1f10f2" stroke-width="3.4"/>
<path d="M100.0,325.3 C106.0,325.4 122.5,325.0 136.2,326.0 C149.8,327.0 169.9,329.0 181.9,331.3 C194.0,333.6 200.8,336.6 208.5,339.8 C216.1,343.0 220.9,348.3 227.7,350.6 C234.6,352.9 239.4,353.0 249.4,353.5 C259.5,354.0 274.3,352.6 288.0,353.5 C301.7,354.4 320.5,359.5 331.4,359.1 C342.2,358.6 345.4,354.8 353.1,350.6 C360.7,346.4 369.1,338.2 377.2,333.7 C385.2,329.3 393.2,325.4 401.3,324.1 C409.3,322.8 417.3,324.4 425.4,326.0 C433.4,327.6 441.4,330.2 449.5,333.7 C457.5,337.2 465.5,344.6 473.6,347.0 C481.6,349.4 489.3,348.2 497.7,348.2 C506.1,348.2 516.2,345.6 524.2,347.0 C532.2,348.4 536.2,353.9 545.9,356.6 C555.5,359.3 576.0,362.1 582.0,363.1" stroke="#111" stroke-width="0.9" opacity="0.85"/>
<path d="M100.0,330.1 C108.0,330.1 134.5,329.7 148.2,330.1 C161.9,330.5 176.3,332.1 181.9,332.5" stroke="#111" stroke-width="0.9" opacity="0.85"/>
<path d="M100.0,309.6 C104.0,310.4 116.1,312.5 124.1,314.5 C132.1,316.5 138.6,318.9 148.2,321.7 C157.8,324.5 176.3,329.7 181.9,331.3" stroke="#111" stroke-width="0.9" opacity="0.85"/>
<path d="M100.0,368.7 C106.0,368.1 124.1,365.5 136.2,365.1 C148.2,364.7 158.2,366.2 172.3,366.3 C186.4,366.4 204.4,365.8 220.5,365.6 C236.6,365.3 252.6,364.5 268.7,364.6 C284.8,364.7 304.9,365.5 316.9,366.3 C329.0,367.1 329.0,368.7 341.0,369.4 C353.1,370.1 373.2,370.6 389.2,370.4 C405.3,370.1 426.2,368.9 437.4,368.0 C448.7,367.0 448.7,365.4 456.7,364.6 C464.7,363.8 474.8,363.1 485.6,363.1 C496.5,363.1 511.7,363.8 521.8,364.6 C531.8,365.4 535.8,367.1 545.9,368.0 C555.9,368.9 576.0,369.6 582.0,369.9" stroke="#111" stroke-width="0.9" opacity="0.85"/>
<path d="M100.0,375.2 C112.1,375.2 147.4,375.5 172.3,375.2 C197.2,374.9 222.9,373.5 249.4,373.5 C275.9,373.5 306.1,374.5 331.4,375.2 C356.7,375.9 380.4,377.2 401.3,377.6 C422.2,378.0 436.2,377.2 456.7,377.6 C477.2,378.0 503.3,379.5 524.2,380.0 C545.1,380.5 572.4,380.6 582.0,380.7" stroke="#111" stroke-width="0.9" opacity="0.85"/>
<path d="M100.0,394.0 C106.0,391.7 126.1,381.6 136.2,380.0 C146.2,378.4 152.6,382.0 160.3,384.4 C167.9,386.7 173.9,393.6 181.9,394.0 C190.0,394.4 200.8,390.7 208.5,386.8 C216.1,382.8 224.5,373.1 227.7,370.4" stroke="#111" stroke-width="0.9" opacity="0.85"/>
<path d="M100.0,401.2 C104.0,399.6 117.7,395.5 124.1,391.6 C130.5,387.7 133.3,377.6 138.6,377.6 C143.8,377.6 149.8,385.2 155.4,391.6 C161.1,397.9 167.9,410.9 172.3,415.7 C176.7,420.5 169.1,419.7 181.9,420.5 C194.8,421.3 235.0,420.9 249.4,420.5 C263.9,420.1 255.1,418.1 268.7,418.1 C282.4,418.1 317.3,420.5 331.4,420.5 C345.4,420.5 341.4,418.9 353.1,418.1 C364.7,417.3 391.2,417.7 401.3,415.7 C411.3,413.7 407.3,410.9 413.3,406.0 C419.4,401.2 430.2,390.7 437.4,386.8 C444.7,382.8 442.3,383.2 456.7,382.4 C471.2,381.7 509.3,380.1 524.2,382.4 C539.1,384.8 536.2,392.1 545.9,396.4 C555.5,400.7 576.0,406.5 582.0,408.5" stroke="#111" stroke-width="0.9" opacity="0.85"/>
<path d="M100.0,413.3 C102.4,412.1 109.6,409.7 114.5,406.0 C119.3,402.4 124.5,396.4 128.9,391.6 C133.3,386.8 139.0,379.5 141.0,377.1" stroke="#111" stroke-width="0.9" opacity="0.85"/>
<path d="M100.0,437.4 C104.0,435.8 116.1,429.8 124.1,427.7 C132.1,425.7 140.2,424.9 148.2,425.3 C156.2,425.7 166.7,428.5 172.3,430.2 C177.9,431.8 169.1,435.0 181.9,435.0 C194.8,435.0 231.8,431.0 249.4,430.2 C267.1,429.3 276.7,429.3 288.0,430.2 C299.2,431.0 309.7,433.0 316.9,435.0 C324.2,437.0 327.4,439.6 331.4,442.2 C335.4,444.8 329.8,451.0 341.0,450.6 C352.3,450.2 386.8,444.8 398.9,439.8 C410.9,434.8 406.9,427.7 413.3,420.5 C419.8,413.3 430.2,403.0 437.4,396.4 C444.7,389.8 453.5,383.4 456.7,380.7" stroke="#111" stroke-width="0.9" opacity="0.85"/>
<path d="M263.9,406.0 C266.3,403.6 273.9,396.3 278.4,391.6 C282.8,386.8 286.0,377.6 290.4,377.6 C294.8,377.6 300.4,387.2 304.9,391.6 C309.3,395.9 312.5,400.8 316.9,403.6 C321.3,406.5 325.4,408.5 331.4,408.5 C337.4,408.5 341.4,406.5 353.1,403.6 C364.7,400.8 389.2,396.0 401.3,391.6 C413.3,387.2 417.3,381.5 425.4,377.1 C433.4,372.7 445.5,367.1 449.5,365.1" stroke="#111" stroke-width="0.9" opacity="0.85"/>
<path d="M524.2,381.9 C527.8,385.2 538.3,395.6 545.9,401.2 C553.5,406.9 564.0,412.5 570.0,415.7 C576.0,418.9 580.0,419.7 582.0,420.5" stroke="#111" stroke-width="0.9" opacity="0.85"/>
<path d="M524.2,372.3 C527.8,374.7 538.3,381.9 545.9,386.8 C553.5,391.6 564.0,398.0 570.0,401.2 C576.0,404.4 580.0,405.2 582.0,406.0" stroke="#111" stroke-width="0.9" opacity="0.85"/>
<path d="M330.0,285.5 C333.3,284.6 343.1,281.7 349.7,280.2 C356.3,278.7 362.8,277.6 369.4,276.3 C376.0,275.0 384.1,273.2 389.1,272.3 C394.1,271.5 396.3,270.4 399.6,271.0 C402.9,271.7 405.1,273.6 408.8,276.3 C412.5,278.9 417.6,282.4 421.9,286.8 C426.3,291.2 431.8,298.4 435.1,302.5 C438.4,306.7 438.1,310.2 441.6,311.7 C445.1,313.3 451.7,311.1 456.1,311.7 C460.5,312.4 463.7,313.7 467.9,315.7 C472.1,317.6 476.7,320.5 481.0,323.5 C485.4,326.6 489.8,330.6 494.2,334.1 C498.5,337.6 502.3,341.9 507.3,344.6 C512.3,347.2 518.9,348.5 524.4,349.8 C529.9,351.1 535.3,350.9 540.1,352.4 C545.0,354.0 546.0,356.4 553.3,359.0 C560.5,361.6 578.4,366.7 583.5,368.2" stroke="#111" stroke-width="0.9" opacity="0.85"/>
<path d="M524.4,348.5 C525.9,346.3 530.9,339.7 533.6,335.4 C536.2,331.0 538.0,326.6 540.1,322.2 C542.3,317.9 544.5,312.8 546.7,309.1 C548.9,305.4 550.0,303.2 553.3,299.9 C556.6,296.6 561.4,291.8 566.4,289.4 C571.4,287.0 580.6,286.1 583.5,285.5" stroke="#111" stroke-width="0.9" opacity="0.85"/>
<path d="M100.0,41.2 C102.2,41.5 108.7,42.5 113.0,43.2 C117.3,43.8 121.7,44.6 126.0,45.1 C130.4,45.6 134.7,46.0 139.0,46.4 C143.4,46.8 147.7,47.7 152.0,47.7 C156.4,47.7 160.9,47.1 165.0,46.4 C169.2,45.8 174.1,44.5 176.7,43.8 C179.3,43.2 180.0,42.7 180.7,42.5" stroke="#111" stroke-width="0.9" opacity="0.85"/>
<path d="M100.0,103.6 C101.7,102.8 106.5,99.7 110.4,98.4 C114.3,97.1 119.5,95.4 123.4,95.8 C127.3,96.3 130.6,98.4 133.8,101.0 C137.1,103.6 139.9,107.5 142.9,111.4 C146.0,115.3 149.0,119.7 152.0,124.5 C155.1,129.2 158.1,134.2 161.1,140.1 C164.2,145.9 167.4,153.1 170.2,159.6 C173.1,166.1 176.2,175.0 178.0,179.1 C179.9,183.2 180.8,183.4 181.3,184.3" stroke="#111" stroke-width="0.9" opacity="0.85"/>
<path d="M181.3,184.3 C182.9,183.2 187.3,180.8 191.1,177.8 C194.9,174.8 199.7,170.2 204.1,166.1 C208.4,162.0 212.7,156.8 217.1,153.1 C221.4,149.4 225.7,146.4 230.1,144.0 C234.4,141.6 239.6,139.8 243.1,138.8 C246.6,137.7 248.3,138.5 250.9,137.5 C253.5,136.4 255.7,134.9 258.7,132.3 C261.7,129.7 265.2,124.9 269.1,121.9 C273.0,118.8 277.8,116.0 282.1,114.0 C286.4,112.1 291.2,110.8 295.1,110.1 C299.0,109.5 302.5,109.9 305.5,110.1 C308.6,110.4 312.0,111.2 313.3,111.4" stroke="#111" stroke-width="0.9" opacity="0.85"/>
<path d="M100.0,244.1 C102.2,242.0 108.7,235.0 113.0,231.1 C117.3,227.2 121.7,224.0 126.0,220.7 C130.4,217.5 134.7,214.0 139.0,211.6 C143.4,209.2 147.7,207.5 152.0,206.4 C156.4,205.3 160.7,205.1 165.0,205.1 C169.4,205.1 173.7,205.8 178.0,206.4 C182.4,207.1 186.7,207.3 191.1,209.0 C195.4,210.7 199.7,213.8 204.1,216.8 C208.4,219.8 212.7,223.8 217.1,227.2 C221.4,230.7 225.7,234.4 230.1,237.6 C234.4,240.9 239.8,244.7 243.1,246.7 C246.3,248.8 248.5,249.4 249.6,250.0" stroke="#111" stroke-width="0.9" opacity="0.85"/>
<path d="M249.6,250.0 C251.8,247.5 258.3,239.0 262.6,235.0 C266.9,231.0 271.3,228.1 275.6,225.9 C279.9,223.8 284.3,222.2 288.6,222.0 C293.0,221.8 297.3,223.1 301.6,224.6 C306.0,226.1 310.3,229.4 314.6,231.1 C319.0,232.9 323.4,234.4 327.6,235.0 C331.9,235.7 337.9,235.0 340.0,235.0" stroke="#111" stroke-width="0.9" opacity="0.85"/>
<path d="M180.7,209.0 C179.6,211.6 176.1,219.6 174.1,224.6 C172.2,229.6 170.5,234.7 168.9,238.9 C167.4,243.2 165.7,248.1 165.0,250.0" stroke="#111" stroke-width="0.9" opacity="0.85"/>
<path d="M314.6,250.0 C316.2,248.1 320.7,241.6 323.7,238.9 C326.8,236.2 331.3,234.6 332.8,233.7" stroke="#111" stroke-width="0.9" opacity="0.85"/>
<path d="M319.8,52.9 C320.9,51.8 324.2,48.4 326.3,46.4 C328.5,44.5 331.8,42.1 332.8,41.2" stroke="#111" stroke-width="0.9" opacity="0.85"/>
<path d="M330.0,46.4 C332.2,49.0 338.7,57.3 343.0,62.0 C347.3,66.8 351.7,70.7 356.0,75.0 C360.4,79.4 364.7,84.1 369.0,88.0 C373.4,92.0 377.1,95.9 382.0,98.5 C387.0,101.1 394.2,103.7 399.0,103.7 C403.7,103.7 407.0,101.5 410.7,98.5 C414.4,95.4 417.6,90.4 421.1,85.4 C424.6,80.5 428.2,73.5 431.5,68.5 C434.7,63.5 438.0,59.2 440.6,55.5 C443.2,51.8 444.9,49.0 447.1,46.4 C449.3,43.8 452.5,41.0 453.6,39.9" stroke="#111" stroke-width="0.9" opacity="0.85"/>
<path d="M330.0,233.8 C334.3,234.9 347.3,238.6 356.0,240.3 C364.7,242.0 374.9,243.3 382.0,244.2 C389.2,245.1 392.5,244.5 399.0,245.5 C405.5,246.5 417.4,249.3 421.1,250.1" stroke="#111" stroke-width="0.9" opacity="0.85"/>
<path d="M557.7,250.1 C559.9,248.2 566.8,241.9 570.7,239.0 C574.6,236.1 579.4,233.6 581.1,232.5" stroke="#111" stroke-width="0.9" opacity="0.85"/>
<path d="M499.2,38.6 C501.3,39.3 507.8,41.4 512.2,42.5 C516.5,43.6 523.0,44.7 525.2,45.1" stroke="#111" stroke-width="0.9" opacity="0.85"/>
<path d="M102.6,280.2 C104.4,281.1 109.2,283.7 113.1,285.4 C117.1,287.2 121.4,289.4 126.3,290.7 C131.1,292.0 136.5,294.0 142.0,293.3 C147.5,292.7 154.0,288.9 159.1,286.8 C164.1,284.6 168.5,281.7 172.2,280.2 C175.9,278.7 177.0,278.4 181.4,277.6 C185.8,276.7 192.3,276.7 198.5,274.9 C204.6,273.2 212.7,269.3 218.2,267.1 C223.6,264.9 226.9,263.6 231.3,261.8 C235.7,260.1 241.1,257.7 244.4,256.6 C247.7,255.5 249.9,255.5 251.0,255.3" stroke="#111" stroke-width="0.9" opacity="0.85"/>
<path d="M251.0,256.6 C252.1,257.7 254.7,259.8 257.5,263.1 C260.4,266.4 264.1,271.9 268.0,276.3 C272.0,280.6 276.4,285.9 281.2,289.4 C286.0,292.9 293.0,296.4 296.9,297.3 C300.9,298.1 302.2,296.2 304.8,294.6 C307.4,293.1 309.6,289.6 312.7,288.1 C315.7,286.5 319.2,285.7 323.2,285.4 C327.1,285.2 333.5,286.4 336.3,286.8 C339.1,287.1 339.4,287.3 340.0,287.4" stroke="#111" stroke-width="0.9" opacity="0.85"/>
<path d="M103.9,251.3 C106.1,254.4 113.3,263.3 117.1,269.7 C120.8,276.0 123.4,283.5 126.3,289.4 C129.1,295.3 131.9,301.2 134.1,305.1 C136.3,309.1 137.4,313.0 139.4,313.0 C141.4,313.0 143.8,309.1 145.9,305.1 C148.1,301.2 150.3,295.3 152.5,289.4 C154.7,283.5 156.9,276.0 159.1,269.7 C161.3,263.3 164.5,254.4 165.6,251.3" stroke="#111" stroke-width="0.9" opacity="0.85"/>
<path d="M257.5,253.9 C259.3,257.4 264.3,267.3 268.0,274.9 C271.8,282.6 276.4,293.1 279.9,299.9 C283.4,306.7 286.2,313.7 289.1,315.6 C291.9,317.6 294.3,314.3 296.9,311.7 C299.6,309.1 302.2,305.8 304.8,299.9 C307.4,294.0 310.3,283.7 312.7,276.3 C315.1,268.8 318.2,258.8 319.2,255.3" stroke="#111" stroke-width="0.9" opacity="0.85"/>
<path d="M100.0,464.0 C104.4,464.2 121.9,465.1 126.3,465.3" stroke="#111" stroke-width="0.9" opacity="0.85"/>
<path d="M310.1,440.4 C313.3,443.6 325.4,455.8 329.7,460.1 C334.1,464.3 335.2,465.0 336.3,466.0" stroke="#111" stroke-width="0.9" opacity="0.85"/>
<path d="M467.9,269.7 C471.2,268.8 479.9,265.8 487.6,264.4 C495.3,263.1 507.3,262.3 513.9,261.8 C520.4,261.4 522.6,262.0 527.0,261.8 C531.4,261.6 535.8,261.2 540.1,260.5 C544.5,259.9 549.3,259.2 553.3,257.9 C557.2,256.6 560.9,253.9 563.8,252.6 C566.6,251.3 569.3,250.4 570.3,250.0" stroke="#111" stroke-width="0.9" opacity="0.85"/>
<path d="M403.5,250.0 C405.5,252.2 411.2,258.8 415.4,263.1 C419.5,267.5 424.1,272.1 428.5,276.3 C432.9,280.4 437.3,285.0 441.6,288.1 C446.0,291.2 450.4,292.9 454.8,294.7 C459.1,296.4 462.4,297.7 467.9,298.6 C473.4,299.5 479.9,299.7 487.6,299.9 C495.3,300.1 507.3,299.9 513.9,299.9 C520.4,299.9 522.6,301.7 527.0,299.9 C531.4,298.2 535.8,293.3 540.1,289.4 C544.5,285.5 548.9,281.7 553.3,276.3 C557.7,270.8 564.2,259.9 566.4,256.6" stroke="#111" stroke-width="0.9" opacity="0.85"/>
<path d="M411.4,250.0 C413.6,252.2 420.2,258.1 424.6,263.1 C428.9,268.2 433.8,275.2 437.7,280.2 C441.6,285.2 445.1,290.1 448.2,293.3 C451.3,296.6 451.7,298.6 456.1,299.9 C460.5,301.2 467.0,300.8 474.5,301.2 C481.9,301.7 492.4,302.3 500.7,302.5 C509.1,302.8 518.9,303.6 524.4,302.5 C529.9,301.4 532.0,297.1 533.6,296.0" stroke="#111" stroke-width="0.9" opacity="0.85"/>
<path d="M395.7,250.0 C397.9,252.2 404.4,258.3 408.8,263.1 C413.2,267.9 417.6,272.8 421.9,278.9 C426.3,285.0 431.8,294.4 435.1,299.9 C438.4,305.4 438.4,309.5 441.6,311.7 C444.9,313.9 451.5,312.4 454.8,313.0 C458.1,313.7 460.2,315.2 461.3,315.7" stroke="#111" stroke-width="0.9" opacity="0.85"/>
<path d="M444.3,331.4 C446.2,332.7 451.0,336.7 456.1,339.3 C461.1,341.9 469.2,344.8 474.5,347.2 C479.7,349.6 484.3,352.2 487.6,353.8 C490.9,355.3 493.1,355.9 494.2,356.4" stroke="#111" stroke-width="0.9" opacity="0.85"/>
<path d="M524.4,348.5 C525.9,347.0 529.9,344.8 533.6,339.3 C537.3,333.8 542.3,324.0 546.7,315.7 C551.1,307.4 555.5,298.2 559.8,289.4 C564.2,280.6 569.7,269.7 573.0,263.1 C576.3,256.6 578.4,252.2 579.5,250.0" stroke="#111" stroke-width="0.9" opacity="0.85"/>
<path d="M330.0,464.1 C341.6,463.9 386.5,462.8 399.6,462.8 C412.7,462.8 407.3,463.9 408.8,464.1" stroke="#111" stroke-width="0.9" opacity="0.85"/>
<path d="M553.3,440.4 C555.5,442.2 561.4,447.4 566.4,450.9 C571.4,454.4 580.6,459.7 583.5,461.5" stroke="#111" stroke-width="0.9" opacity="0.85"/>
<path d="M102.6,288.1 C105.5,287.0 113.6,283.7 119.7,281.5 C125.8,279.3 132.8,277.4 139.4,274.9 C145.9,272.5 153.6,268.6 159.1,267.1 C164.5,265.5 168.5,265.8 172.2,265.8 C175.9,265.8 178.6,265.8 181.4,267.1 C184.2,268.4 187.1,271.0 189.3,273.6 C191.5,276.3 192.6,279.3 194.5,282.8 C196.5,286.3 198.9,290.7 201.1,294.6 C203.3,298.6 205.7,302.3 207.7,306.5 C209.6,310.6 211.2,315.0 212.9,319.6 C214.7,324.2 216.4,329.0 218.2,334.0 C219.9,339.1 221.7,344.5 223.4,349.8 C225.2,355.0 226.7,360.3 228.7,365.5 C230.6,370.8 233.0,376.5 235.2,381.3 C237.4,386.1 239.6,390.5 241.8,394.4 C244.0,398.4 246.2,402.7 248.4,404.9 C250.5,407.1 252.3,407.1 254.9,407.5 C257.5,408.0 261.5,408.4 264.1,407.5 C266.7,406.7 269.6,403.2 270.7,402.3" stroke="#111" stroke-width="0.9" opacity="0.85"/>
<path d="M102.6,310.4 C104.8,312.6 111.4,318.7 115.8,323.5 C120.1,328.3 124.3,335.1 128.9,339.3 C133.5,343.4 138.3,348.0 143.3,348.5 C148.4,348.9 154.0,344.3 159.1,341.9 C164.1,339.5 169.1,336.0 173.5,334.0 C177.9,332.1 181.2,331.4 185.3,330.1 C189.5,328.8 194.1,329.0 198.5,326.1 C202.8,323.3 207.2,318.7 211.6,313.0 C216.0,307.3 220.3,299.5 224.7,292.0 C229.1,284.6 233.9,274.7 237.8,268.4 C241.8,262.0 246.6,256.3 248.4,253.9" stroke="#111" stroke-width="0.9" opacity="0.85"/>
<path d="M251.0,252.6 C253.2,254.4 259.7,259.8 264.1,263.1 C268.5,266.4 272.9,269.5 277.2,272.3 C281.6,275.2 286.0,278.0 290.4,280.2 C294.7,282.4 299.1,285.4 303.5,285.4 C307.9,285.4 312.2,281.5 316.6,280.2 C321.0,278.9 325.9,277.8 329.7,277.6 C333.6,277.4 338.3,278.7 340.0,278.9" stroke="#111" stroke-width="0.9" opacity="0.85"/>
<path d="M233.9,465.3 C235.2,463.1 239.2,456.1 241.8,452.2 C244.4,448.2 244.9,443.6 249.7,441.7 C254.5,439.7 262.8,441.2 270.7,440.4 C278.5,439.5 289.3,437.7 296.9,436.4 C304.6,435.1 311.2,433.4 316.6,432.5 C322.1,431.6 326.5,430.1 329.7,431.2 C333.0,432.3 334.6,436.4 336.3,439.1 C338.0,441.7 339.4,445.6 340.0,446.9" stroke="#111" stroke-width="0.9" opacity="0.85"/>
<path d="M257.5,419.4 C261.9,419.6 275.0,419.1 283.8,420.7 C292.6,422.2 302.4,426.8 310.1,428.5 C317.7,430.3 326.5,430.7 329.7,431.2" stroke="#111" stroke-width="0.9" opacity="0.85"/>
<path d="M330.0,433.9 C331.3,429.5 335.3,415.9 337.9,407.6 C340.5,399.3 342.7,392.7 345.8,384.0 C348.8,375.2 353.2,363.4 356.3,355.1 C359.3,346.8 361.5,340.6 364.1,334.1 C366.8,327.5 369.4,320.9 372.0,315.7 C374.7,310.4 377.1,306.5 379.9,302.5 C382.8,298.6 385.8,294.4 389.1,292.0 C392.4,289.6 396.3,289.4 399.6,288.1 C402.9,286.8 405.1,285.9 408.8,284.1 C412.5,282.4 417.6,279.8 421.9,277.6 C426.3,275.4 430.7,273.0 435.1,271.0 C439.4,269.0 444.7,266.6 448.2,265.8 C451.7,264.9 452.8,265.3 456.1,265.8 C459.4,266.2 464.2,267.7 467.9,268.4 C471.6,269.0 476.7,269.5 478.4,269.7" stroke="#111" stroke-width="0.9" opacity="0.85"/>
<path d="M330.0,276.3 C332.2,277.1 338.8,278.9 343.1,281.5 C347.5,284.1 350.8,288.5 356.3,292.0 C361.7,295.5 369.4,299.7 376.0,302.5 C382.5,305.4 389.1,306.9 395.7,309.1 C402.2,311.3 408.8,313.3 415.4,315.7 C421.9,318.1 429.6,321.1 435.1,323.5 C440.5,326.0 444.7,328.8 448.2,330.1 C451.7,331.4 452.8,332.1 456.1,331.4 C459.4,330.8 463.7,328.4 467.9,326.2 C472.1,324.0 476.7,321.4 481.0,318.3 C485.4,315.2 489.8,311.9 494.2,307.8 C498.5,303.6 502.9,297.3 507.3,293.3 C511.7,289.4 516.1,286.1 520.4,284.1 C524.8,282.2 528.1,282.4 533.6,281.5 C539.0,280.6 545.0,279.6 553.3,278.9 C561.6,278.2 578.4,277.8 583.5,277.6" stroke="#111" stroke-width="0.9" opacity="0.85"/>
<path d="M467.9,286.8 C469.0,288.3 472.3,292.7 474.5,296.0 C476.7,299.3 478.8,302.8 481.0,306.5 C483.2,310.2 485.4,315.4 487.6,318.3 C489.8,321.1 493.1,322.7 494.2,323.5" stroke="#111" stroke-width="0.9" opacity="0.85"/>
<path d="M500.7,389.2 C501.8,391.2 505.1,396.9 507.3,401.0 C509.5,405.2 511.7,410.5 513.9,414.2 C516.1,417.9 518.7,421.2 520.4,423.4 C522.2,425.6 521.1,426.0 524.4,427.3 C527.7,428.6 535.3,430.4 540.1,431.2 C545.0,432.1 546.0,432.1 553.3,432.6 C560.5,433.0 578.4,433.7 583.5,433.9" stroke="#111" stroke-width="0.9" opacity="0.85"/>
<path d="M511.2,466.0 C512.3,463.3 515.6,454.1 517.8,449.6 C520.0,445.1 520.7,441.3 524.4,439.1 C528.1,436.9 535.3,437.2 540.1,436.5 C545.0,435.8 548.9,436.1 553.3,435.2 C557.7,434.3 561.4,432.1 566.4,431.2 C571.4,430.4 580.6,430.2 583.5,429.9" stroke="#111" stroke-width="0.9" opacity="0.85"/>
<path d="M330.0,431.2 C331.1,433.4 334.8,441.3 336.6,444.4 C338.3,447.4 339.9,448.8 340.5,449.6" stroke="#111" stroke-width="0.9" opacity="0.85"/>
<path d="M330.0,93.3 C332.2,92.0 338.7,89.4 343.0,85.4 C347.3,81.5 351.7,77.4 356.0,69.8 C360.4,62.2 366.9,44.9 369.0,39.9" stroke="#111" stroke-width="0.9" opacity="0.85"/>
<path d="M551.2,89.4 C553.4,90.0 559.2,92.4 564.2,93.3 C569.2,94.1 578.3,94.3 581.1,94.6" stroke="#111" stroke-width="0.9" opacity="0.85"/>
<path d="M313.3,111.4 C314.6,109.9 318.3,105.4 321.1,102.3 C324.0,99.3 327.1,95.4 330.2,93.2 C333.4,91.1 338.4,90.0 340.0,89.3" stroke="#111" stroke-width="0.9" opacity="0.85"/>
<path d="M102.6,41.2 C105.4,41.6 114.5,42.9 119.5,43.8 C124.5,44.7 128.6,45.5 132.5,46.4 C136.4,47.3 141.2,48.6 142.9,49.0" stroke="#111" stroke-width="0.9" opacity="0.85"/>
<path d="M142.9,39.9 C144.0,41.2 146.8,45.1 149.4,47.7 C152.0,50.3 155.3,53.1 158.5,55.5 C161.8,57.9 165.3,60.3 168.9,62.0 C172.6,63.8 177.2,64.6 180.7,65.9 C184.1,67.2 188.2,69.2 189.8,69.8" stroke="#111" stroke-width="0.9" opacity="0.85"/>
<path d="M184.6,52.9 C185.6,53.7 188.7,56.8 191.1,57.5 C193.4,58.1 195.6,58.0 198.9,56.8 C202.1,55.6 206.4,52.5 210.6,50.3 C214.7,48.1 219.2,45.5 223.6,43.8 C227.9,42.1 232.9,40.8 236.6,39.9 C240.3,39.0 244.2,38.8 245.7,38.6" stroke="#111" stroke-width="0.9" opacity="0.85"/>
<path d="M103.9,176.5 C106.1,175.0 112.6,171.5 116.9,167.4 C121.2,163.3 125.6,158.1 129.9,151.8 C134.3,145.5 138.6,137.7 142.9,129.7 C147.3,121.6 151.8,112.1 155.9,103.6 C160.1,95.2 164.0,84.8 167.6,78.9 C171.3,73.1 176.3,70.3 178.0,68.5" stroke="#111" stroke-width="0.9" opacity="0.85"/>
<path d="M191.1,75.0 C192.4,77.8 195.6,84.6 198.9,91.9 C202.1,99.3 206.7,110.6 210.6,119.3 C214.5,127.9 218.2,135.3 222.3,144.0 C226.4,152.6 231.8,165.2 235.3,171.3 C238.8,177.4 240.7,178.2 243.1,180.4 C245.5,182.6 246.3,183.4 249.6,184.3 C252.8,185.2 258.7,186.2 262.6,185.6 C266.5,184.9 271.3,181.3 273.0,180.4" stroke="#111" stroke-width="0.9" opacity="0.85"/>
<path d="M273.0,180.4 C275.0,178.9 281.0,173.9 284.7,171.3 C288.4,168.7 291.2,166.3 295.1,164.8 C299.0,163.3 303.8,161.7 308.1,162.2 C312.5,162.6 317.5,165.6 321.1,167.4 C324.8,169.1 327.1,171.6 330.2,172.6 C333.4,173.6 338.4,173.1 340.0,173.2" stroke="#111" stroke-width="0.9" opacity="0.85"/>
<path d="M102.6,218.1 C105.4,216.8 113.4,212.7 119.5,210.3 C125.6,207.9 133.6,204.9 139.0,203.8 C144.4,202.7 147.7,203.4 152.0,203.8 C156.4,204.2 160.3,205.5 165.0,206.4 C169.8,207.3 176.3,208.8 180.7,209.0 C185.0,209.2 187.2,209.2 191.1,207.7 C195.0,206.2 199.7,202.7 204.1,199.9 C208.4,197.1 212.7,193.4 217.1,190.8 C221.4,188.2 226.2,186.0 230.1,184.3 C234.0,182.6 238.8,181.0 240.5,180.4" stroke="#111" stroke-width="0.9" opacity="0.85"/>
<path d="M249.6,183.0 C251.8,181.0 258.3,176.7 262.6,171.3 C266.9,165.9 271.3,157.8 275.6,150.5 C279.9,143.1 284.3,134.6 288.6,127.1 C293.0,119.5 297.3,113.0 301.6,104.9 C306.0,96.9 310.1,87.8 314.6,78.9 C319.2,70.0 325.7,57.7 328.9,51.6 C332.2,45.5 333.3,44.0 334.1,42.5" stroke="#111" stroke-width="0.9" opacity="0.85"/>
<path d="M262.6,181.7 C264.8,179.5 271.3,173.9 275.6,168.7 C279.9,163.5 284.3,157.0 288.6,150.5 C293.0,144.0 297.5,136.2 301.6,129.7 C305.7,123.2 311.4,114.5 313.3,111.4" stroke="#111" stroke-width="0.9" opacity="0.85"/>
<path d="M274.3,41.2 C275.6,43.2 279.7,49.2 282.1,52.9 C284.5,56.6 286.4,59.4 288.6,63.3 C290.8,67.2 293.0,72.2 295.1,76.3 C297.3,80.4 299.5,84.3 301.6,88.0 C303.8,91.7 306.2,94.1 308.1,98.4 C310.1,102.8 311.2,108.8 313.3,114.0 C315.5,119.3 318.3,126.0 321.1,129.7 C324.0,133.3 327.1,134.9 330.2,136.2 C333.4,137.5 338.4,137.2 340.0,137.5" stroke="#111" stroke-width="0.9" opacity="0.85"/>
<path d="M249.6,39.9 C251.8,39.7 260.4,38.8 262.6,38.6" stroke="#111" stroke-width="0.9" opacity="0.85"/>
<path d="M421.1,43.8 C423.3,43.6 429.8,42.7 434.1,42.5 C438.4,42.3 442.8,42.3 447.1,42.5 C451.4,42.7 455.8,43.2 460.1,43.8 C464.5,44.5 468.8,45.5 473.1,46.4 C477.5,47.3 481.8,48.4 486.1,49.0 C490.5,49.7 494.8,49.9 499.2,50.3 C503.5,50.7 507.8,51.2 512.2,51.6 C516.5,52.0 521.7,51.2 525.2,52.9 C528.7,54.7 530.4,59.9 533.0,62.0 C535.6,64.2 539.5,65.3 540.8,65.9" stroke="#111" stroke-width="0.9" opacity="0.85"/>
<path d="M466.6,46.4 C467.7,48.4 469.9,53.3 473.1,58.1 C476.4,62.9 481.8,68.5 486.1,75.0 C490.5,81.5 494.8,90.4 499.2,97.2 C503.5,103.9 507.8,111.0 512.2,115.4 C516.5,119.7 520.8,121.4 525.2,123.2 C529.5,124.9 533.9,124.1 538.2,125.8 C542.5,127.5 548.2,131.2 551.2,133.6 C554.2,136.0 554.2,136.8 556.4,140.1 C558.6,143.4 561.8,148.8 564.2,153.1 C566.6,157.4 567.9,162.7 570.7,166.1 C573.5,169.6 579.4,172.6 581.1,173.9" stroke="#111" stroke-width="0.9" opacity="0.85"/>
<path d="M490.1,119.3 C492.4,115.8 500.7,104.1 504.4,98.5 C508.1,92.8 509.8,90.0 512.2,85.4 C514.6,80.9 516.5,74.6 518.7,71.1 C520.8,67.7 521.9,65.7 525.2,64.6 C528.4,63.5 533.9,65.5 538.2,64.6 C542.5,63.8 546.9,61.6 551.2,59.4 C555.5,57.3 559.9,54.7 564.2,51.6 C568.6,48.6 575.1,42.9 577.2,41.2" stroke="#111" stroke-width="0.9" opacity="0.85"/>
<path d="M330.0,134.9 C332.2,135.8 338.7,137.1 343.0,140.1 C347.3,143.1 352.6,148.8 356.0,153.1 C359.5,157.4 361.7,161.8 363.8,166.1 C366.0,170.5 367.1,174.8 369.0,179.1 C371.0,183.5 372.9,187.4 375.5,192.1 C378.1,196.9 381.0,203.4 384.7,207.8 C388.3,212.1 393.8,216.9 397.7,218.2 C401.6,219.5 404.2,217.3 408.1,215.6 C412.0,213.8 416.7,210.6 421.1,207.8 C425.4,204.9 429.8,201.5 434.1,198.7 C438.4,195.8 443.4,192.6 447.1,190.8 C450.8,189.1 453.2,189.5 456.2,188.2 C459.3,186.9 462.5,185.4 465.3,183.0 C468.1,180.7 470.8,177.6 473.1,173.9 C475.5,170.2 477.5,165.0 479.6,160.9 C481.8,156.8 484.2,152.0 486.1,149.2 C488.1,146.4 489.2,143.8 491.4,144.0 C493.5,144.2 496.1,147.0 499.2,150.5 C502.2,154.0 506.3,160.7 509.6,164.8 C512.8,168.9 516.1,172.8 518.7,175.2 C521.3,177.6 522.8,179.4 525.2,179.1 C527.6,178.9 529.7,177.0 533.0,173.9 C536.2,170.9 541.0,165.9 544.7,160.9 C548.4,155.9 551.9,149.4 555.1,144.0 C558.4,138.6 560.5,129.9 564.2,128.4 C567.9,126.9 574.4,133.4 577.2,134.9 C580.1,136.4 580.5,137.1 581.1,137.5" stroke="#111" stroke-width="0.9" opacity="0.85"/>
<path d="M330.0,172.6 C334.3,172.8 347.3,173.3 356.0,173.9 C364.7,174.6 374.9,175.9 382.0,176.5 C389.2,177.2 394.6,178.3 399.0,177.8 C403.3,177.4 404.4,176.5 408.1,173.9 C411.8,171.3 416.7,166.8 421.1,162.2 C425.4,157.7 429.8,150.7 434.1,146.6 C438.4,142.5 442.8,139.7 447.1,137.5 C451.4,135.3 455.8,134.9 460.1,133.6 C464.5,132.3 468.8,131.6 473.1,129.7 C477.5,127.7 482.7,124.5 486.1,121.9 C489.6,119.3 491.1,117.5 494.0,114.1 C496.8,110.6 501.5,103.2 503.1,101.1" stroke="#111" stroke-width="0.9" opacity="0.85"/>
<path d="M525.2,50.3 C526.5,52.3 530.4,57.9 533.0,62.0 C535.6,66.1 537.8,69.8 540.8,75.0 C543.8,80.2 547.5,88.0 551.2,93.3 C554.9,98.5 559.7,105.0 562.9,106.3 C566.2,107.6 567.9,103.2 570.7,101.1 C573.5,98.9 578.3,94.6 579.8,93.3" stroke="#111" stroke-width="0.9" opacity="0.85"/>
<path d="M330.0,38.6 C332.2,41.4 339.1,50.7 343.0,55.5 C346.9,60.3 350.2,65.1 353.4,67.2 C356.7,69.4 358.8,69.4 362.5,68.5 C366.2,67.7 371.2,65.3 375.5,62.0 C379.9,58.8 384.7,52.3 388.6,49.0 C392.5,45.8 395.7,43.6 399.0,42.5 C402.2,41.4 406.6,42.5 408.1,42.5" stroke="#111" stroke-width="0.9" opacity="0.85"/>
<path d="M408.1,42.5 C410.2,43.6 416.7,46.2 421.1,49.0 C425.4,51.8 429.8,56.6 434.1,59.4 C438.4,62.2 443.4,64.4 447.1,65.9 C450.8,67.4 453.0,65.9 456.2,68.5 C459.5,71.1 462.7,75.7 466.6,81.5 C470.5,87.4 476.2,97.8 479.6,103.7 C483.1,109.5 486.1,114.5 487.4,116.7" stroke="#111" stroke-width="0.9" opacity="0.85"/>
<path d="M369.0,39.9 C368.0,39.3 363.6,36.7 362.5,36.0" stroke="#111" stroke-width="0.9" opacity="0.85"/>
</g>
<line x1="181.8" y1="38" x2="181.8" y2="464" stroke="#000" stroke-width="1.4" stroke-dasharray="3.5 3"/>
<line x1="250.2" y1="38" x2="250.2" y2="464" stroke="#000" stroke-width="1.4" stroke-dasharray="3.5 3"/>
<line x1="330.7" y1="38" x2="330.7" y2="464" stroke="#000" stroke-width="1.4" stroke-dasharray="3.5 3"/>
<line x1="399.1" y1="38" x2="399.1" y2="464" stroke="#000" stroke-width="1.4" stroke-dasharray="3.5 3"/>
<line x1="455.9" y1="38" x2="455.9" y2="464" stroke="#000" stroke-width="1.4" stroke-dasharray="3.5 3"/>
<line x1="524.3" y1="38" x2="524.3" y2="464" stroke="#000" stroke-width="1.4" stroke-dasharray="3.5 3"/>
<line x1="101.5" y1="180" x2="581" y2="180" stroke="#000" stroke-width="1.4" stroke-dasharray="3.5 3"/>
<line x1="101.5" y1="38" x2="108.5" y2="38" stroke="#000" stroke-width="2" />
<text x="90.0" y="46.25" font-size="34" text-anchor="end" fill="#000" >4</text>
<line x1="101.5" y1="109" x2="108.5" y2="109" stroke="#000" stroke-width="2" />
<text x="90.0" y="120" font-size="34" text-anchor="end" fill="#000" >2</text>
<line x1="101.5" y1="180" x2="108.5" y2="180" stroke="#000" stroke-width="2" />
<text x="90.0" y="191.75" font-size="34" text-anchor="end" fill="#000" >0</text>
<line x1="101.5" y1="251" x2="108.5" y2="251" stroke="#000" stroke-width="2" />
<text x="90.0" y="264" font-size="34" text-anchor="end" fill="#000" >-2</text>
<line x1="101.5" y1="322" x2="108.5" y2="322" stroke="#000" stroke-width="2" />
<text x="90.0" y="333.85" font-size="34" text-anchor="end" fill="#000" >-4</text>
<line x1="101.5" y1="393" x2="108.5" y2="393" stroke="#000" stroke-width="2" />
<text x="90.0" y="404" font-size="34" text-anchor="end" fill="#000" >-6</text>
<line x1="101.5" y1="464" x2="108.5" y2="464" stroke="#000" stroke-width="2" />
<text x="90.0" y="472.85" font-size="34" text-anchor="end" fill="#000" >-8</text>
<text x="102.5" y="496" font-size="34" text-anchor="middle" fill="#000" >Z</text>
<text x="182.8" y="496" font-size="34" text-anchor="middle" fill="#000" >A</text>
<text x="251.2" y="496" font-size="34" text-anchor="middle" fill="#000" >M</text>
<text x="331.7" y="496" font-size="34" text-anchor="middle" fill="#000" >Γ</text>
<text x="400.1" y="496" font-size="34" text-anchor="middle" fill="#000" >Z</text>
<text x="456.9" y="496" font-size="34" text-anchor="middle" fill="#000" >R</text>
<text x="525.3" y="496" font-size="34" text-anchor="middle" fill="#000" >X</text>
<text x="582" y="496" font-size="34" text-anchor="middle" fill="#000" >Γ</text>
<text x="0" y="29" font-size="38.5" text-anchor="start" fill="#000" >(a)</text>
<circle cx="155.2" cy="17.5" r="10.5" fill="#2f8f23"/>
<text x="169.2" y="29" font-size="31" text-anchor="start" fill="#000" >B1</text>
<circle cx="259.8" cy="17.5" r="10.5" fill="#f5231b"/>
<text x="278.3" y="29" font-size="31" text-anchor="start" fill="#000" >B2</text>
<circle cx="366.8" cy="17.5" r="10.5" fill="#1f10f2"/>
<text x="380.8" y="29" font-size="31" text-anchor="start" fill="#000" >Ca</text>
<circle cx="472.1" cy="17.5" r="10.5" fill="#ee8a2c"/>
<text x="486.1" y="29" font-size="31" text-anchor="start" fill="#000" >Au</text>
<text transform="translate(34,242) rotate(-90)" font-size="40" text-anchor="middle">Energy (eV)</text>
<clipPath id="clipD"><rect x="99.9" y="582.3" width="479.30000000000007" height="425.9000000000001"/></clipPath>
<g clip-path="url(#clipD)" stroke-linecap="round" stroke-linejoin="round" fill="none">
<path d="M100.7,839.5 C103.6,839.2 111.8,838.8 118.1,838.1 C124.3,837.5 131.4,835.5 138.1,835.5 C144.8,835.5 150.8,837.2 158.2,838.1 C165.5,839.0 175.6,840.1 182.2,840.8 C188.9,841.5 192.3,841.3 198.3,842.1 C204.3,843.0 212.8,844.8 218.3,846.2 C223.9,847.5 226.4,849.3 231.7,850.2 C237.1,851.1 243.7,851.3 250.4,851.5 C257.1,851.7 264.9,851.1 271.8,851.5 C278.7,852.0 285.2,853.1 291.9,854.2 C298.6,855.3 303.9,856.9 311.9,858.2 C320.0,859.5 335.3,861.5 340.0,862.2" stroke="#ee8a2c" stroke-width="17.9"/>
<path d="M100.7,839.5 C103.6,839.2 111.8,838.8 118.1,838.1 C124.3,837.5 131.4,835.5 138.1,835.5 C144.8,835.5 150.8,837.2 158.2,838.1 C165.5,839.0 175.6,840.1 182.2,840.8 C188.9,841.5 192.3,841.3 198.3,842.1 C204.3,843.0 212.8,844.8 218.3,846.2 C223.9,847.5 226.4,849.3 231.7,850.2 C237.1,851.1 243.7,851.3 250.4,851.5 C257.1,851.7 264.9,851.1 271.8,851.5 C278.7,852.0 285.2,853.1 291.9,854.2 C298.6,855.3 303.9,856.9 311.9,858.2 C320.0,859.5 335.3,861.5 340.0,862.2" stroke="#f8d0a4" stroke-width="5.0" stroke-dasharray="1.3 3" opacity="0.4"/>
<path d="M100.7,864.9 C104.7,864.7 116.3,864.0 124.7,863.5 C133.2,863.1 141.9,862.2 151.5,862.2 C161.1,862.2 172.2,863.3 182.2,863.5 C192.3,863.8 203.4,863.3 211.7,863.5 C219.9,863.8 225.2,864.2 231.7,864.9 C238.2,865.5 243.7,866.9 250.4,867.6 C257.1,868.2 264.9,868.4 271.8,868.9 C278.7,869.3 285.2,870.0 291.9,870.2 C298.6,870.4 303.9,870.2 311.9,870.2 C320.0,870.2 335.3,870.2 340.0,870.2" stroke="#ee8a2c" stroke-width="19.0"/>
<path d="M100.7,864.9 C104.7,864.7 116.3,864.0 124.7,863.5 C133.2,863.1 141.9,862.2 151.5,862.2 C161.1,862.2 172.2,863.3 182.2,863.5 C192.3,863.8 203.4,863.3 211.7,863.5 C219.9,863.8 225.2,864.2 231.7,864.9 C238.2,865.5 243.7,866.9 250.4,867.6 C257.1,868.2 264.9,868.4 271.8,868.9 C278.7,869.3 285.2,870.0 291.9,870.2 C298.6,870.4 303.9,870.2 311.9,870.2 C320.0,870.2 335.3,870.2 340.0,870.2" stroke="#f8d0a4" stroke-width="5.3" stroke-dasharray="1.3 3" opacity="0.4"/>
<path d="M100.7,880.9 C104.7,880.7 116.3,879.8 124.7,879.6 C133.2,879.4 141.9,879.4 151.5,879.6 C161.1,879.8 173.3,880.9 182.2,880.9 C191.1,880.9 196.7,880.5 205.0,879.6 C213.2,878.7 227.3,876.2 231.7,875.6" stroke="#ee8a2c" stroke-width="12.3"/>
<path d="M100.7,880.9 C104.7,880.7 116.3,879.8 124.7,879.6 C133.2,879.4 141.9,879.4 151.5,879.6 C161.1,879.8 173.3,880.9 182.2,880.9 C191.1,880.9 196.7,880.5 205.0,879.6 C213.2,878.7 227.3,876.2 231.7,875.6" stroke="#f8d0a4" stroke-width="3.4" stroke-dasharray="1.3 3" opacity="0.4"/>
<path d="M100.7,903.7 C102.5,902.5 107.8,899.9 111.4,897.0 C114.9,894.1 117.6,888.7 122.1,886.3 C126.5,883.8 133.2,882.7 138.1,882.3 C143.0,881.8 147.0,881.1 151.5,883.6 C155.9,886.0 161.3,893.0 164.9,897.0 C168.4,901.0 171.5,905.9 172.9,907.7" stroke="#ee8a2c" stroke-width="9.0"/>
<path d="M100.7,903.7 C102.5,902.5 107.8,899.9 111.4,897.0 C114.9,894.1 117.6,888.7 122.1,886.3 C126.5,883.8 133.2,882.7 138.1,882.3 C143.0,881.8 147.0,881.1 151.5,883.6 C155.9,886.0 161.3,893.0 164.9,897.0 C168.4,901.0 171.5,905.9 172.9,907.7" stroke="#f8d0a4" stroke-width="2.5" stroke-dasharray="1.3 3" opacity="0.4"/>
<path d="M100.7,917.0 C104.7,916.4 116.3,913.7 124.7,913.0 C133.2,912.3 141.9,912.6 151.5,913.0 C161.1,913.5 173.3,915.5 182.2,915.7 C191.1,915.9 196.7,914.8 205.0,914.3 C213.2,913.9 224.1,913.0 231.7,913.0 C239.3,913.0 243.7,914.3 250.4,914.3 C257.1,914.3 264.9,912.6 271.8,913.0 C278.7,913.5 286.3,915.5 291.9,917.0 C297.4,918.6 300.8,919.9 305.2,922.4 C309.7,924.8 314.8,929.1 318.6,931.7 C322.4,934.4 326.4,937.3 328.0,938.4" stroke="#ee8a2c" stroke-width="14.6"/>
<path d="M100.7,917.0 C104.7,916.4 116.3,913.7 124.7,913.0 C133.2,912.3 141.9,912.6 151.5,913.0 C161.1,913.5 173.3,915.5 182.2,915.7 C191.1,915.9 196.7,914.8 205.0,914.3 C213.2,913.9 224.1,913.0 231.7,913.0 C239.3,913.0 243.7,914.3 250.4,914.3 C257.1,914.3 264.9,912.6 271.8,913.0 C278.7,913.5 286.3,915.5 291.9,917.0 C297.4,918.6 300.8,919.9 305.2,922.4 C309.7,924.8 314.8,929.1 318.6,931.7 C322.4,934.4 326.4,937.3 328.0,938.4" stroke="#f8d0a4" stroke-width="4.1" stroke-dasharray="1.3 3" opacity="0.4"/>
<path d="M172.9,907.7 C174.4,908.8 174.7,913.5 182.2,914.3 C189.8,915.2 207.0,914.1 218.3,913.0 C229.7,911.9 243.7,909.7 250.4,907.7 C257.1,905.7 255.3,903.2 258.4,901.0 C261.6,898.7 266.2,895.6 269.1,894.3 C272.0,893.0 274.7,893.2 275.8,893.0" stroke="#ee8a2c" stroke-width="9.0"/>
<path d="M172.9,907.7 C174.4,908.8 174.7,913.5 182.2,914.3 C189.8,915.2 207.0,914.1 218.3,913.0 C229.7,911.9 243.7,909.7 250.4,907.7 C257.1,905.7 255.3,903.2 258.4,901.0 C261.6,898.7 266.2,895.6 269.1,894.3 C272.0,893.0 274.7,893.2 275.8,893.0" stroke="#f8d0a4" stroke-width="2.5" stroke-dasharray="1.3 3" opacity="0.4"/>
<path d="M275.8,880.9 C277.4,881.4 281.4,882.7 285.2,883.6 C289.0,884.5 294.1,884.3 298.6,886.3 C303.0,888.3 307.5,892.3 311.9,895.6 C316.4,899.0 320.6,903.9 325.3,906.3 C330.0,908.8 337.6,909.7 340.0,910.3" stroke="#ee8a2c" stroke-width="12.3"/>
<path d="M275.8,880.9 C277.4,881.4 281.4,882.7 285.2,883.6 C289.0,884.5 294.1,884.3 298.6,886.3 C303.0,888.3 307.5,892.3 311.9,895.6 C316.4,899.0 320.6,903.9 325.3,906.3 C330.0,908.8 337.6,909.7 340.0,910.3" stroke="#f8d0a4" stroke-width="3.4" stroke-dasharray="1.3 3" opacity="0.4"/>
<path d="M330.0,864.9 C333.3,863.6 344.5,859.6 350.1,856.9 C355.6,854.2 359.0,851.5 363.4,848.9 C367.9,846.2 371.2,842.6 376.8,840.8 C382.4,839.0 390.2,838.6 396.9,838.2 C403.6,837.7 410.3,838.4 416.9,838.2 C423.6,837.9 431.9,838.2 437.0,836.8 C442.1,835.5 445.9,831.2 447.7,830.1" stroke="#ee8a2c" stroke-width="14.6"/>
<path d="M330.0,864.9 C333.3,863.6 344.5,859.6 350.1,856.9 C355.6,854.2 359.0,851.5 363.4,848.9 C367.9,846.2 371.2,842.6 376.8,840.8 C382.4,839.0 390.2,838.6 396.9,838.2 C403.6,837.7 410.3,838.4 416.9,838.2 C423.6,837.9 431.9,838.2 437.0,836.8 C442.1,835.5 445.9,831.2 447.7,830.1" stroke="#f8d0a4" stroke-width="4.1" stroke-dasharray="1.3 3" opacity="0.4"/>
<path d="M330.0,864.9 C336.7,864.5 356.8,862.9 370.1,862.2 C383.5,861.6 399.1,861.6 410.3,860.9 C421.4,860.2 429.2,859.3 437.0,858.2 C444.8,857.1 447.0,854.9 457.1,854.2 C467.1,853.5 486.1,854.4 497.2,854.2 C508.3,854.0 516.2,852.0 524.0,852.9 C531.8,853.8 535.1,858.0 544.0,859.6 C552.9,861.1 571.9,861.8 577.5,862.2" stroke="#ee8a2c" stroke-width="17.9"/>
<path d="M330.0,864.9 C336.7,864.5 356.8,862.9 370.1,862.2 C383.5,861.6 399.1,861.6 410.3,860.9 C421.4,860.2 429.2,859.3 437.0,858.2 C444.8,857.1 447.0,854.9 457.1,854.2 C467.1,853.5 486.1,854.4 497.2,854.2 C508.3,854.0 516.2,852.0 524.0,852.9 C531.8,853.8 535.1,858.0 544.0,859.6 C552.9,861.1 571.9,861.8 577.5,862.2" stroke="#f8d0a4" stroke-width="5.0" stroke-dasharray="1.3 3" opacity="0.4"/>
<path d="M330.0,872.9 C336.7,872.7 356.8,872.0 370.1,871.6 C383.5,871.1 399.1,870.0 410.3,870.3 C421.4,870.5 429.2,871.8 437.0,872.9 C444.8,874.0 447.0,876.1 457.1,876.9 C467.1,877.8 486.1,878.3 497.2,878.3 C508.3,878.3 516.2,877.8 524.0,876.9 C531.8,876.1 535.1,874.0 544.0,872.9 C552.9,871.8 571.9,870.7 577.5,870.3" stroke="#ee8a2c" stroke-width="17.9"/>
<path d="M330.0,872.9 C336.7,872.7 356.8,872.0 370.1,871.6 C383.5,871.1 399.1,870.0 410.3,870.3 C421.4,870.5 429.2,871.8 437.0,872.9 C444.8,874.0 447.0,876.1 457.1,876.9 C467.1,877.8 486.1,878.3 497.2,878.3 C508.3,878.3 516.2,877.8 524.0,876.9 C531.8,876.1 535.1,874.0 544.0,872.9 C552.9,871.8 571.9,870.7 577.5,870.3" stroke="#f8d0a4" stroke-width="5.0" stroke-dasharray="1.3 3" opacity="0.4"/>
<path d="M330.0,868.9 C336.7,868.6 356.8,867.5 370.1,866.9 C383.5,866.4 399.1,865.8 410.3,865.6 C421.4,865.4 429.2,865.6 437.0,865.6 C444.8,865.6 447.0,865.5 457.1,865.6 C467.1,865.7 486.1,866.4 497.2,866.2 C508.3,866.1 516.2,864.9 524.0,864.9 C531.8,864.9 535.1,866.0 544.0,866.2 C552.9,866.5 571.9,866.2 577.5,866.2" stroke="#ee8a2c" stroke-width="13.4"/>
<path d="M330.0,891.7 C334.5,891.0 347.8,889.0 356.8,887.6 C365.7,886.3 376.8,884.7 383.5,883.6 C390.2,882.5 391.3,881.8 396.9,881.0 C402.5,880.1 411.4,879.2 416.9,878.3 C422.5,877.4 425.9,877.4 430.3,875.6 C434.8,873.8 439.2,869.4 443.7,867.6 C448.2,865.8 454.8,865.4 457.1,864.9" stroke="#ee8a2c" stroke-width="13.4"/>
<path d="M330.0,891.7 C334.5,891.0 347.8,889.0 356.8,887.6 C365.7,886.3 376.8,884.7 383.5,883.6 C390.2,882.5 391.3,881.8 396.9,881.0 C402.5,880.1 411.4,879.2 416.9,878.3 C422.5,877.4 425.9,877.4 430.3,875.6 C434.8,873.8 439.2,869.4 443.7,867.6 C448.2,865.8 454.8,865.4 457.1,864.9" stroke="#f8d0a4" stroke-width="3.8" stroke-dasharray="1.3 3" opacity="0.4"/>
<path d="M330.0,909.0 C334.5,909.0 347.8,909.0 356.8,909.0 C365.7,909.0 376.8,909.3 383.5,909.0 C390.2,908.8 392.9,908.4 396.9,907.7 C400.9,907.0 404.2,906.8 407.6,905.0 C410.9,903.3 413.2,900.6 416.9,897.0 C420.7,893.4 425.9,887.6 430.3,883.6 C434.8,879.6 441.5,874.7 443.7,872.9" stroke="#ee8a2c" stroke-width="15.7"/>
<path d="M330.0,909.0 C334.5,909.0 347.8,909.0 356.8,909.0 C365.7,909.0 376.8,909.3 383.5,909.0 C390.2,908.8 392.9,908.4 396.9,907.7 C400.9,907.0 404.2,906.8 407.6,905.0 C410.9,903.3 413.2,900.6 416.9,897.0 C420.7,893.4 425.9,887.6 430.3,883.6 C434.8,879.6 441.5,874.7 443.7,872.9" stroke="#f8d0a4" stroke-width="4.4" stroke-dasharray="1.3 3" opacity="0.4"/>
<path d="M330.0,939.8 C332.2,938.5 337.8,934.2 343.4,931.8 C348.9,929.3 356.8,926.9 363.4,925.1 C370.1,923.3 377.9,922.0 383.5,921.1 C389.1,920.2 393.1,920.6 396.9,919.7 C400.7,918.9 404.7,916.4 406.2,915.7" stroke="#ee8a2c" stroke-width="6.7"/>
<path d="M524.0,876.9 C526.2,878.5 532.9,883.0 537.3,886.3 C541.8,889.7 546.2,893.7 550.7,897.0 C555.2,900.4 559.6,904.1 564.1,906.4 C568.5,908.6 575.2,909.7 577.5,910.4" stroke="#ee8a2c" stroke-width="15.7"/>
<path d="M524.0,876.9 C526.2,878.5 532.9,883.0 537.3,886.3 C541.8,889.7 546.2,893.7 550.7,897.0 C555.2,900.4 559.6,904.1 564.1,906.4 C568.5,908.6 575.2,909.7 577.5,910.4" stroke="#f8d0a4" stroke-width="4.4" stroke-dasharray="1.3 3" opacity="0.4"/>
<path d="M544.0,872.9 C546.2,874.7 551.8,880.7 557.4,883.6 C563.0,886.5 574.1,889.2 577.5,890.3" stroke="#ee8a2c" stroke-width="11.2"/>
<path d="M544.0,872.9 C546.2,874.7 551.8,880.7 557.4,883.6 C563.0,886.5 574.1,889.2 577.5,890.3" stroke="#f8d0a4" stroke-width="3.1" stroke-dasharray="1.3 3" opacity="0.4"/>
<path d="M447.7,830.1 C449.3,828.6 454.4,822.3 457.1,820.8 C459.7,819.2 460.4,820.1 463.8,820.8 C467.1,821.4 472.7,823.0 477.1,824.8 C481.6,826.6 486.1,829.2 490.5,831.5 C495.0,833.7 499.4,836.4 503.9,838.2 C508.3,839.9 513.9,841.3 517.3,842.2 C520.6,843.1 522.8,843.3 524.0,843.5" stroke="#ee8a2c" stroke-width="9.0"/>
<path d="M447.7,830.1 C449.3,828.6 454.4,822.3 457.1,820.8 C459.7,819.2 460.4,820.1 463.8,820.8 C467.1,821.4 472.7,823.0 477.1,824.8 C481.6,826.6 486.1,829.2 490.5,831.5 C495.0,833.7 499.4,836.4 503.9,838.2 C508.3,839.9 513.9,841.3 517.3,842.2 C520.6,843.1 522.8,843.3 524.0,843.5" stroke="#f8d0a4" stroke-width="2.5" stroke-dasharray="1.3 3" opacity="0.4"/>
<path d="M524.0,839.5 C526.2,836.8 532.9,828.3 537.3,823.4 C541.8,818.5 546.2,814.1 550.7,810.1 C555.2,806.1 559.6,802.3 564.1,799.4 C568.5,796.5 575.2,793.8 577.5,792.7" stroke="#2f8f23" stroke-width="6.5"/>
<path d="M524.0,839.5 C526.2,836.8 532.9,828.3 537.3,823.4 C541.8,818.5 546.2,814.1 550.7,810.1 C555.2,806.1 559.6,802.3 564.1,799.4 C568.5,796.5 575.2,793.8 577.5,792.7" stroke="#ee8a2c" stroke-width="2.7" stroke-dasharray="0.01 4.9"/>
<path d="M182.2,700.3 C183.8,699.2 187.8,696.1 191.6,693.7 C195.4,691.2 200.5,688.3 205.0,685.6 C209.4,683.0 213.9,679.8 218.3,677.6 C222.8,675.4 227.3,673.4 231.7,672.3 C236.2,671.1 241.7,671.4 245.1,670.9 C248.4,670.5 249.5,670.9 251.8,669.6 C254.0,668.2 256.2,665.8 258.4,662.9 C260.7,660.0 262.9,655.8 265.1,652.2 C267.4,648.6 269.6,645.1 271.8,641.5 C274.0,637.9 276.3,634.4 278.5,630.8 C280.7,627.2 284.1,621.9 285.2,620.1" stroke="#ee8a2c" stroke-width="6.2"/>
<path d="M363.4,584.0 C366.8,584.2 377.3,585.4 383.5,585.4 C389.7,585.4 398.0,584.2 400.9,584.0" stroke="#ee8a2c" stroke-width="5.6"/>
<path d="M330.0,658.9 C332.2,658.7 338.9,658.3 343.4,657.6 C347.8,656.9 352.3,656.2 356.8,654.9 C361.2,653.6 365.7,651.8 370.1,649.6 C374.6,647.3 379.0,644.0 383.5,641.5 C388.0,639.1 393.5,636.2 396.9,634.8 C400.2,633.5 402.5,633.7 403.6,633.5" stroke="#ee8a2c" stroke-width="6.7"/>
<path d="M309.3,586.7 C310.1,588.9 312.4,595.2 314.6,600.1 C316.8,605.0 320.4,612.3 322.6,616.1 C324.9,619.9 325.1,621.4 328.0,622.8 C330.9,624.1 338.0,623.9 340.0,624.1" stroke="#ee8a2c" stroke-width="3.9"/>
<path d="M550.7,800.0 C552.9,799.0 559.4,795.7 564.1,794.0 C568.8,792.3 576.3,790.7 578.8,790.0" stroke="#ee8a2c" stroke-width="7.8"/>
<path d="M298.6,792.6 C301.9,792.1 311.7,790.6 318.6,789.9 C325.5,789.3 336.4,788.8 340.0,788.6" stroke="#ee8a2c" stroke-width="7.8"/>
<path d="M100.7,777.9 C102.5,778.3 107.4,779.2 111.4,780.6 C115.4,781.9 121.4,783.9 124.7,785.9 C128.1,787.9 130.3,791.5 131.4,792.6" stroke="#ee8a2c" stroke-width="6.7"/>
<path d="M100.7,633.5 C102.5,632.1 107.4,627.2 111.4,625.5 C115.4,623.7 120.3,622.1 124.7,622.8 C129.2,623.5 133.7,626.4 138.1,629.5 C142.6,632.6 147.5,636.8 151.5,641.5 C155.5,646.2 159.3,652.6 162.2,657.6 C165.1,662.5 167.1,666.9 168.9,670.9 C170.6,674.9 171.3,678.1 172.9,681.6 C174.4,685.2 176.7,689.2 178.2,692.3 C179.8,695.4 181.6,699.0 182.2,700.3" stroke="#2f8f23" stroke-width="6.5"/>
<path d="M100.7,633.5 C102.5,632.1 107.4,627.2 111.4,625.5 C115.4,623.7 120.3,622.1 124.7,622.8 C129.2,623.5 133.7,626.4 138.1,629.5 C142.6,632.6 147.5,636.8 151.5,641.5 C155.5,646.2 159.3,652.6 162.2,657.6 C165.1,662.5 167.1,666.9 168.9,670.9 C170.6,674.9 171.3,678.1 172.9,681.6 C174.4,685.2 176.7,689.2 178.2,692.3 C179.8,695.4 181.6,699.0 182.2,700.3" stroke="#ee8a2c" stroke-width="2.7" stroke-dasharray="0.01 4.9"/>
<path d="M205.0,584.0 C206.1,586.0 209.4,591.8 211.7,596.0 C213.9,600.3 215.9,604.7 218.3,609.4 C220.8,614.1 223.7,619.7 226.4,624.1 C229.0,628.6 231.7,632.1 234.4,636.2 C237.1,640.2 239.7,645.5 242.4,648.2 C245.1,650.9 247.8,652.0 250.4,652.2 C253.1,652.4 257.1,650.0 258.4,649.5" stroke="#2f8f23" stroke-width="3.8"/>
<path d="M205.0,584.0 C206.1,586.0 209.4,591.8 211.7,596.0 C213.9,600.3 215.9,604.7 218.3,609.4 C220.8,614.1 223.7,619.7 226.4,624.1 C229.0,628.6 231.7,632.1 234.4,636.2 C237.1,640.2 239.7,645.5 242.4,648.2 C245.1,650.9 247.8,652.0 250.4,652.2 C253.1,652.4 257.1,650.0 258.4,649.5" stroke="#ee8a2c" stroke-width="1.6" stroke-dasharray="0.01 2.8"/>
<path d="M251.8,652.2 C254.0,651.8 260.7,650.6 265.1,649.5 C269.6,648.4 274.0,646.2 278.5,645.5 C283.0,644.8 287.4,645.1 291.9,645.5 C296.3,646.0 300.8,646.6 305.2,648.2 C309.7,649.8 314.6,652.9 318.6,654.9 C322.6,656.9 325.7,659.3 329.3,660.2 C332.9,661.1 338.2,660.2 340.0,660.2" stroke="#2f8f23" stroke-width="6.5"/>
<path d="M251.8,652.2 C254.0,651.8 260.7,650.6 265.1,649.5 C269.6,648.4 274.0,646.2 278.5,645.5 C283.0,644.8 287.4,645.1 291.9,645.5 C296.3,646.0 300.8,646.6 305.2,648.2 C309.7,649.8 314.6,652.9 318.6,654.9 C322.6,656.9 325.7,659.3 329.3,660.2 C332.9,661.1 338.2,660.2 340.0,660.2" stroke="#ee8a2c" stroke-width="2.7" stroke-dasharray="0.01 4.9"/>
<path d="M100.7,733.8 C102.5,732.2 107.4,727.3 111.4,724.4 C115.4,721.5 120.3,718.8 124.7,716.4 C129.2,713.9 133.7,711.5 138.1,709.7 C142.6,707.9 147.0,706.7 151.5,705.7 C155.9,704.7 160.4,703.9 164.9,703.7 C169.3,703.5 173.8,703.8 178.2,704.3 C182.7,704.9 187.1,705.7 191.6,707.0 C196.1,708.4 200.5,710.4 205.0,712.4 C209.4,714.4 213.9,716.8 218.3,719.1 C222.8,721.3 227.3,724.2 231.7,725.7 C236.2,727.3 241.7,728.2 245.1,728.4 C248.4,728.6 248.4,728.6 251.8,727.1 C255.1,725.5 260.7,721.1 265.1,719.1 C269.6,717.1 274.0,715.8 278.5,715.0 C283.0,714.3 287.4,713.9 291.9,714.4 C296.3,714.8 300.8,716.5 305.2,717.7 C309.7,718.9 314.8,720.6 318.6,721.7 C322.4,722.8 324.4,723.7 328.0,724.4 C331.5,725.1 338.0,725.5 340.0,725.7" stroke="#2f8f23" stroke-width="8.6"/>
<path d="M100.7,733.8 C102.5,732.2 107.4,727.3 111.4,724.4 C115.4,721.5 120.3,718.8 124.7,716.4 C129.2,713.9 133.7,711.5 138.1,709.7 C142.6,707.9 147.0,706.7 151.5,705.7 C155.9,704.7 160.4,703.9 164.9,703.7 C169.3,703.5 173.8,703.8 178.2,704.3 C182.7,704.9 187.1,705.7 191.6,707.0 C196.1,708.4 200.5,710.4 205.0,712.4 C209.4,714.4 213.9,716.8 218.3,719.1 C222.8,721.3 227.3,724.2 231.7,725.7 C236.2,727.3 241.7,728.2 245.1,728.4 C248.4,728.6 248.4,728.6 251.8,727.1 C255.1,725.5 260.7,721.1 265.1,719.1 C269.6,717.1 274.0,715.8 278.5,715.0 C283.0,714.3 287.4,713.9 291.9,714.4 C296.3,714.8 300.8,716.5 305.2,717.7 C309.7,718.9 314.8,720.6 318.6,721.7 C322.4,722.8 324.4,723.7 328.0,724.4 C331.5,725.1 338.0,725.5 340.0,725.7" stroke="#ee8a2c" stroke-width="3.6" stroke-dasharray="0.01 6.5"/>
<path d="M182.2,700.3 C181.6,702.6 179.8,709.0 178.2,713.7 C176.7,718.4 174.7,724.0 172.9,728.4 C171.1,732.9 169.3,736.2 167.5,740.4 C165.7,744.7 163.7,749.4 162.2,753.8 C160.6,758.3 159.5,763.2 158.2,767.2 C156.8,771.2 154.8,776.1 154.2,777.9" stroke="#2f8f23" stroke-width="4.9"/>
<path d="M182.2,700.3 C181.6,702.6 179.8,709.0 178.2,713.7 C176.7,718.4 174.7,724.0 172.9,728.4 C171.1,732.9 169.3,736.2 167.5,740.4 C165.7,744.7 163.7,749.4 162.2,753.8 C160.6,758.3 159.5,763.2 158.2,767.2 C156.8,771.2 154.8,776.1 154.2,777.9" stroke="#ee8a2c" stroke-width="2.0" stroke-dasharray="0.01 3.6"/>
<path d="M100.7,733.8 C102.0,734.9 106.7,737.8 108.7,740.4 C110.7,743.1 111.1,746.5 112.7,749.8 C114.3,753.2 116.5,757.2 118.1,760.5 C119.6,763.8 120.5,766.5 122.1,769.9 C123.6,773.2 125.6,776.6 127.4,780.6 C129.2,784.6 131.9,791.7 132.8,793.9" stroke="#2f8f23" stroke-width="5.4"/>
<path d="M100.7,733.8 C102.0,734.9 106.7,737.8 108.7,740.4 C110.7,743.1 111.1,746.5 112.7,749.8 C114.3,753.2 116.5,757.2 118.1,760.5 C119.6,763.8 120.5,766.5 122.1,769.9 C123.6,773.2 125.6,776.6 127.4,780.6 C129.2,784.6 131.9,791.7 132.8,793.9" stroke="#ee8a2c" stroke-width="2.3" stroke-dasharray="0.01 4.1"/>
<path d="M251.8,727.1 C252.7,728.9 255.3,734.2 257.1,737.8 C258.9,741.3 260.5,744.7 262.5,748.5 C264.5,752.3 268.0,758.5 269.1,760.5" stroke="#2f8f23" stroke-width="3.8"/>
<path d="M251.8,727.1 C252.7,728.9 255.3,734.2 257.1,737.8 C258.9,741.3 260.5,744.7 262.5,748.5 C264.5,752.3 268.0,758.5 269.1,760.5" stroke="#ee8a2c" stroke-width="1.6" stroke-dasharray="0.01 2.8"/>
<path d="M325.3,725.7 C324.9,727.3 324.0,731.5 322.6,735.1 C321.3,738.7 319.1,743.3 317.3,747.1 C315.5,750.9 313.7,754.0 311.9,757.8 C310.1,761.6 308.4,765.2 306.6,769.9 C304.8,774.5 302.1,783.2 301.2,785.9" stroke="#2f8f23" stroke-width="5.4"/>
<path d="M325.3,725.7 C324.9,727.3 324.0,731.5 322.6,735.1 C321.3,738.7 319.1,743.3 317.3,747.1 C315.5,750.9 313.7,754.0 311.9,757.8 C310.1,761.6 308.4,765.2 306.6,769.9 C304.8,774.5 302.1,783.2 301.2,785.9" stroke="#ee8a2c" stroke-width="2.3" stroke-dasharray="0.01 4.1"/>
<path d="M155.5,780.6 C159.3,779.9 170.0,778.3 178.2,776.6 C186.5,774.8 196.1,771.9 205.0,769.9 C213.9,767.9 224.1,765.2 231.7,764.5 C239.3,763.8 246.0,764.5 250.4,765.9 C254.9,767.2 254.9,770.1 258.4,772.5 C262.0,775.0 267.4,777.9 271.8,780.6 C276.3,783.2 280.7,786.6 285.2,788.6 C289.6,790.6 296.3,791.9 298.6,792.6" stroke="#2f8f23" stroke-width="11.9"/>
<path d="M363.4,584.0 C364.6,585.4 367.2,588.7 370.1,592.0 C373.0,595.4 377.5,600.3 380.8,604.1 C384.2,607.9 387.5,611.9 390.2,614.8 C392.9,617.7 394.7,620.6 396.9,621.5 C399.1,622.4 400.9,620.8 403.6,620.1 C406.2,619.5 411.4,617.9 412.9,617.5" stroke="#2f8f23" stroke-width="5.4"/>
<path d="M363.4,584.0 C364.6,585.4 367.2,588.7 370.1,592.0 C373.0,595.4 377.5,600.3 380.8,604.1 C384.2,607.9 387.5,611.9 390.2,614.8 C392.9,617.7 394.7,620.6 396.9,621.5 C399.1,622.4 400.9,620.8 403.6,620.1 C406.2,619.5 411.4,617.9 412.9,617.5" stroke="#ee8a2c" stroke-width="2.3" stroke-dasharray="0.01 4.1"/>
<path d="M396.9,636.2 C398.2,635.3 402.2,633.1 404.9,630.8 C407.6,628.6 410.3,626.1 412.9,622.8 C415.6,619.5 418.3,615.0 421.0,610.8 C423.6,606.5 426.3,601.4 429.0,597.4 C431.7,593.4 435.0,589.1 437.0,586.7 C439.0,584.2 440.4,583.3 441.0,582.7" stroke="#2f8f23" stroke-width="8.1"/>
<path d="M396.9,636.2 C398.2,635.3 402.2,633.1 404.9,630.8 C407.6,628.6 410.3,626.1 412.9,622.8 C415.6,619.5 418.3,615.0 421.0,610.8 C423.6,606.5 426.3,601.4 429.0,597.4 C431.7,593.4 435.0,589.1 437.0,586.7 C439.0,584.2 440.4,583.3 441.0,582.7" stroke="#ee8a2c" stroke-width="3.4" stroke-dasharray="0.01 6.1"/>
<path d="M330.0,658.9 C332.2,658.7 338.9,658.3 343.4,657.6 C347.8,656.9 352.3,656.2 356.8,654.9 C361.2,653.6 365.7,651.8 370.1,649.6 C374.6,647.3 379.0,644.0 383.5,641.5 C388.0,639.1 394.7,636.0 396.9,634.8" stroke="#2f8f23" stroke-width="3.2"/>
<path d="M330.0,658.9 C332.2,658.7 338.9,658.3 343.4,657.6 C347.8,656.9 352.3,656.2 356.8,654.9 C361.2,653.6 365.7,651.8 370.1,649.6 C374.6,647.3 379.0,644.0 383.5,641.5 C388.0,639.1 394.7,636.0 396.9,634.8" stroke="#ee8a2c" stroke-width="1.4" stroke-dasharray="0.01 2.4"/>
<path d="M497.2,584.0 C499.4,585.6 506.3,590.9 510.6,593.4 C514.8,595.8 518.2,597.2 522.6,598.7 C527.1,600.3 533.3,600.7 537.3,602.7 C541.3,604.7 543.8,607.4 546.7,610.8 C549.6,614.1 551.8,618.6 554.7,622.8 C557.6,627.0 561.4,631.7 564.1,636.2 C566.8,640.6 568.3,645.5 570.8,649.6 C573.2,653.6 577.5,658.5 578.8,660.3" stroke="#2f8f23" stroke-width="7.6"/>
<path d="M497.2,584.0 C499.4,585.6 506.3,590.9 510.6,593.4 C514.8,595.8 518.2,597.2 522.6,598.7 C527.1,600.3 533.3,600.7 537.3,602.7 C541.3,604.7 543.8,607.4 546.7,610.8 C549.6,614.1 551.8,618.6 554.7,622.8 C557.6,627.0 561.4,631.7 564.1,636.2 C566.8,640.6 568.3,645.5 570.8,649.6 C573.2,653.6 577.5,658.5 578.8,660.3" stroke="#ee8a2c" stroke-width="3.2" stroke-dasharray="0.01 5.7"/>
<path d="M330.0,724.5 C334.5,724.9 347.8,726.0 356.8,727.1 C365.7,728.3 376.8,730.3 383.5,731.2 C390.2,732.0 393.3,731.6 396.9,732.5 C400.4,733.4 401.8,734.0 404.9,736.5 C408.0,739.0 412.0,743.2 415.6,747.2 C419.2,751.2 422.7,756.6 426.3,760.6 C429.9,764.6 433.7,768.4 437.0,771.3 C440.4,774.2 443.0,776.9 446.4,778.0 C449.7,779.1 455.3,778.0 457.1,778.0" stroke="#2f8f23" stroke-width="8.6"/>
<path d="M330.0,724.5 C334.5,724.9 347.8,726.0 356.8,727.1 C365.7,728.3 376.8,730.3 383.5,731.2 C390.2,732.0 393.3,731.6 396.9,732.5 C400.4,733.4 401.8,734.0 404.9,736.5 C408.0,739.0 412.0,743.2 415.6,747.2 C419.2,751.2 422.7,756.6 426.3,760.6 C429.9,764.6 433.7,768.4 437.0,771.3 C440.4,774.2 443.0,776.9 446.4,778.0 C449.7,779.1 455.3,778.0 457.1,778.0" stroke="#ee8a2c" stroke-width="3.6" stroke-dasharray="0.01 6.5"/>
<path d="M457.1,778.0 C460.4,777.1 469.3,774.2 477.1,772.6 C484.9,771.1 496.3,769.5 503.9,768.6 C511.5,767.7 517.5,767.7 522.6,767.3 C527.7,766.8 531.1,767.0 534.7,765.9 C538.2,764.8 540.2,763.7 544.0,760.6 C547.8,757.5 552.9,751.7 557.4,747.2 C561.9,742.7 567.2,737.6 570.8,733.8 C574.3,730.0 577.5,726.0 578.8,724.5" stroke="#2f8f23" stroke-width="10.8"/>
<path d="M330.0,788.7 C333.3,787.8 343.4,785.1 350.1,783.3 C356.8,781.5 362.3,779.3 370.1,778.0 C377.9,776.6 390.2,775.3 396.9,775.3 C403.6,775.3 405.8,776.2 410.3,778.0 C414.7,779.8 421.4,784.7 423.6,786.0" stroke="#2f8f23" stroke-width="8.1"/>
<path d="M330.0,788.7 C333.3,787.8 343.4,785.1 350.1,783.3 C356.8,781.5 362.3,779.3 370.1,778.0 C377.9,776.6 390.2,775.3 396.9,775.3 C403.6,775.3 405.8,776.2 410.3,778.0 C414.7,779.8 421.4,784.7 423.6,786.0" stroke="#ee8a2c" stroke-width="3.4" stroke-dasharray="0.01 6.1"/>
<path d="M457.1,788.7 C460.4,788.2 469.3,786.9 477.1,786.0 C484.9,785.1 495.0,783.5 503.9,783.3 C512.8,783.1 526.2,784.4 530.6,784.7" stroke="#2f8f23" stroke-width="5.4"/>
<path d="M457.1,788.7 C460.4,788.2 469.3,786.9 477.1,786.0 C484.9,785.1 495.0,783.5 503.9,783.3 C512.8,783.1 526.2,784.4 530.6,784.7" stroke="#ee8a2c" stroke-width="2.3" stroke-dasharray="0.01 4.1"/>
<path d="M100.7,959.8 C104.7,959.4 116.3,957.8 124.7,957.1 C133.2,956.5 141.9,956.0 151.5,955.8 C161.1,955.6 174.4,954.7 182.2,955.8 C190.0,956.9 193.4,960.0 198.3,962.5 C203.2,964.9 207.2,967.6 211.7,970.5 C216.1,973.4 220.6,977.4 225.0,979.9 C229.5,982.3 234.2,983.9 238.4,985.2 C242.6,986.6 246.0,987.0 250.4,987.9 C254.9,988.8 260.5,989.9 265.1,990.6 C269.8,991.2 274.0,992.6 278.5,991.9 C283.0,991.2 287.4,989.4 291.9,986.6 C296.3,983.7 300.8,978.3 305.2,974.5 C309.7,970.7 314.8,967.4 318.6,963.8 C322.4,960.3 324.4,955.4 328.0,953.1 C331.5,950.9 338.0,950.9 340.0,950.4" stroke="#2f8f23" stroke-width="8.6"/>
<path d="M100.7,959.8 C104.7,959.4 116.3,957.8 124.7,957.1 C133.2,956.5 141.9,956.0 151.5,955.8 C161.1,955.6 174.4,954.7 182.2,955.8 C190.0,956.9 193.4,960.0 198.3,962.5 C203.2,964.9 207.2,967.6 211.7,970.5 C216.1,973.4 220.6,977.4 225.0,979.9 C229.5,982.3 234.2,983.9 238.4,985.2 C242.6,986.6 246.0,987.0 250.4,987.9 C254.9,988.8 260.5,989.9 265.1,990.6 C269.8,991.2 274.0,992.6 278.5,991.9 C283.0,991.2 287.4,989.4 291.9,986.6 C296.3,983.7 300.8,978.3 305.2,974.5 C309.7,970.7 314.8,967.4 318.6,963.8 C322.4,960.3 324.4,955.4 328.0,953.1 C331.5,950.9 338.0,950.9 340.0,950.4" stroke="#ee8a2c" stroke-width="3.6" stroke-dasharray="0.01 6.5"/>
<path d="M100.7,965.2 C103.6,966.3 111.8,969.8 118.1,971.8 C124.3,973.8 132.5,977.0 138.1,977.2 C143.7,977.4 147.5,975.0 151.5,973.2 C155.5,971.4 158.8,968.5 162.2,966.5 C165.5,964.5 168.2,962.3 171.5,961.1 C174.9,960.0 180.5,960.0 182.2,959.8" stroke="#2f8f23" stroke-width="7.0"/>
<path d="M100.7,965.2 C103.6,966.3 111.8,969.8 118.1,971.8 C124.3,973.8 132.5,977.0 138.1,977.2 C143.7,977.4 147.5,975.0 151.5,973.2 C155.5,971.4 158.8,968.5 162.2,966.5 C165.5,964.5 168.2,962.3 171.5,961.1 C174.9,960.0 180.5,960.0 182.2,959.8" stroke="#ee8a2c" stroke-width="2.9" stroke-dasharray="0.01 5.3"/>
<path d="M250.4,987.9 C254.0,987.7 264.9,987.9 271.8,986.6 C278.7,985.2 286.3,983.0 291.9,979.9 C297.4,976.7 300.8,971.6 305.2,967.8 C309.7,964.0 314.8,960.0 318.6,957.1 C322.4,954.2 326.4,951.6 328.0,950.4" stroke="#2f8f23" stroke-width="5.9"/>
<path d="M250.4,987.9 C254.0,987.7 264.9,987.9 271.8,986.6 C278.7,985.2 286.3,983.0 291.9,979.9 C297.4,976.7 300.8,971.6 305.2,967.8 C309.7,964.0 314.8,960.0 318.6,957.1 C322.4,954.2 326.4,951.6 328.0,950.4" stroke="#ee8a2c" stroke-width="2.5" stroke-dasharray="0.01 4.5"/>
<path d="M278.5,794.0 C279.6,795.1 283.0,799.1 285.2,800.7 C287.4,802.3 289.6,803.6 291.9,803.4 C294.1,803.1 295.2,800.7 298.6,799.4 C301.9,798.0 305.0,796.5 311.9,795.3 C318.8,794.2 335.3,793.1 340.0,792.7" stroke="#2f8f23" stroke-width="5.4"/>
<path d="M278.5,794.0 C279.6,795.1 283.0,799.1 285.2,800.7 C287.4,802.3 289.6,803.6 291.9,803.4 C294.1,803.1 295.2,800.7 298.6,799.4 C301.9,798.0 305.0,796.5 311.9,795.3 C318.8,794.2 335.3,793.1 340.0,792.7" stroke="#ee8a2c" stroke-width="2.3" stroke-dasharray="0.01 4.1"/>
<path d="M330.0,950.5 C334.5,951.2 345.6,953.2 356.8,954.5 C367.9,955.9 388.0,957.2 396.9,958.5 C405.8,959.9 405.8,961.0 410.3,962.6 C414.7,964.1 419.2,966.6 423.6,967.9 C428.1,969.2 431.4,970.1 437.0,970.6 C442.6,971.0 450.4,970.8 457.1,970.6 C463.8,970.4 470.4,969.9 477.1,969.2 C483.8,968.6 489.4,967.5 497.2,966.6 C505.0,965.7 516.2,964.8 524.0,963.9 C531.8,963.0 537.3,962.6 544.0,961.2 C550.7,959.9 558.5,957.6 564.1,955.9 C569.7,954.1 575.2,951.4 577.5,950.5" stroke="#2f8f23" stroke-width="9.2"/>
<path d="M330.0,950.5 C334.5,951.2 345.6,953.2 356.8,954.5 C367.9,955.9 388.0,957.2 396.9,958.5 C405.8,959.9 405.8,961.0 410.3,962.6 C414.7,964.1 419.2,966.6 423.6,967.9 C428.1,969.2 431.4,970.1 437.0,970.6 C442.6,971.0 450.4,970.8 457.1,970.6 C463.8,970.4 470.4,969.9 477.1,969.2 C483.8,968.6 489.4,967.5 497.2,966.6 C505.0,965.7 516.2,964.8 524.0,963.9 C531.8,963.0 537.3,962.6 544.0,961.2 C550.7,959.9 558.5,957.6 564.1,955.9 C569.7,954.1 575.2,951.4 577.5,950.5" stroke="#ee8a2c" stroke-width="3.9" stroke-dasharray="0.01 6.9"/>
<path d="M330.0,953.2 C336.7,954.1 359.0,956.8 370.1,958.5 C381.3,960.3 388.0,961.2 396.9,963.9 C405.8,966.6 415.8,972.1 423.6,974.6 C431.4,977.0 438.1,977.7 443.7,978.6 C449.3,979.5 452.6,979.3 457.1,979.9 C461.5,980.6 466.0,981.3 470.4,982.6 C474.9,984.0 479.4,985.5 483.8,988.0 C488.3,990.4 492.7,994.9 497.2,997.3 C501.7,999.8 506.1,1001.6 510.6,1002.7 C515.0,1003.8 519.5,1004.7 524.0,1004.0 C528.4,1003.3 532.9,1002.0 537.3,998.7 C541.8,995.3 546.2,989.1 550.7,984.0 C555.2,978.8 559.6,972.8 564.1,967.9 C568.5,963.0 575.2,956.8 577.5,954.5" stroke="#2f8f23" stroke-width="7.0"/>
<path d="M330.0,953.2 C336.7,954.1 359.0,956.8 370.1,958.5 C381.3,960.3 388.0,961.2 396.9,963.9 C405.8,966.6 415.8,972.1 423.6,974.6 C431.4,977.0 438.1,977.7 443.7,978.6 C449.3,979.5 452.6,979.3 457.1,979.9 C461.5,980.6 466.0,981.3 470.4,982.6 C474.9,984.0 479.4,985.5 483.8,988.0 C488.3,990.4 492.7,994.9 497.2,997.3 C501.7,999.8 506.1,1001.6 510.6,1002.7 C515.0,1003.8 519.5,1004.7 524.0,1004.0 C528.4,1003.3 532.9,1002.0 537.3,998.7 C541.8,995.3 546.2,989.1 550.7,984.0 C555.2,978.8 559.6,972.8 564.1,967.9 C568.5,963.0 575.2,956.8 577.5,954.5" stroke="#ee8a2c" stroke-width="2.9" stroke-dasharray="0.01 5.3"/>
<path d="M430.3,800.7 C432.6,802.9 439.2,809.6 443.7,814.1 C448.2,818.5 452.6,824.3 457.1,827.5 C461.5,830.6 466.0,830.6 470.4,832.8 C474.9,835.0 480.5,838.4 483.8,840.8 C487.2,843.3 489.4,846.4 490.5,847.5" stroke="#2f8f23" stroke-width="5.4"/>
<path d="M430.3,800.7 C432.6,802.9 439.2,809.6 443.7,814.1 C448.2,818.5 452.6,824.3 457.1,827.5 C461.5,830.6 466.0,830.6 470.4,832.8 C474.9,835.0 480.5,838.4 483.8,840.8 C487.2,843.3 489.4,846.4 490.5,847.5" stroke="#ee8a2c" stroke-width="2.3" stroke-dasharray="0.01 4.1"/>
<path d="M265.1,649.5 C267.4,646.4 274.0,637.0 278.5,630.8 C283.0,624.6 287.4,617.0 291.9,612.1 C296.3,607.2 301.5,604.5 305.2,601.4 C309.0,598.3 311.3,595.8 314.6,593.4 C317.9,590.9 321.1,588.2 325.3,586.7 C329.5,585.1 337.6,584.5 340.0,584.0" stroke="#f5231b" stroke-width="5.8"/>
<path d="M541.3,582.7 C544.0,583.3 553.4,584.9 557.4,586.7 C561.4,588.5 563.2,592.9 565.4,593.4 C567.6,593.8 568.5,590.7 570.8,589.4 C573.0,588.0 577.5,586.0 578.8,585.4" stroke="#f5231b" stroke-width="5.2"/>
<path d="M330.0,582.7 C331.3,582.5 336.7,581.6 338.0,581.3" stroke="#f5231b" stroke-width="5.2"/>
<path d="M100.7,788.6 C103.6,788.4 111.8,787.9 118.1,787.2 C124.3,786.6 131.4,785.5 138.1,784.6 C144.8,783.7 151.5,782.3 158.2,781.9 C164.9,781.5 173.1,781.2 178.2,781.9 C183.4,782.6 185.8,783.9 188.9,785.9 C192.0,787.9 194.9,791.6 196.9,793.9 C198.9,796.3 200.3,798.9 201.0,799.9" stroke="#f5231b" stroke-width="9.5"/>
<path d="M207.6,799.9 C209.4,797.8 214.3,791.8 218.3,787.2 C222.3,782.7 227.7,777.0 231.7,772.5 C235.7,768.1 239.3,763.0 242.4,760.5 C245.5,758.1 249.1,758.3 250.4,757.8" stroke="#f5231b" stroke-width="3.2"/>
<path d="M250.4,757.8 C252.9,758.5 259.3,760.3 265.1,761.8 C270.9,763.4 278.5,765.6 285.2,767.2 C291.9,768.8 298.6,769.9 305.2,771.2 C311.9,772.5 319.5,774.3 325.3,775.2 C331.1,776.1 337.6,776.3 340.0,776.6" stroke="#f5231b" stroke-width="4.7"/>
<path d="M250.4,759.2 C252.9,760.1 260.5,762.5 265.1,764.5 C269.8,766.5 274.0,769.2 278.5,771.2 C283.0,773.2 286.3,775.2 291.9,776.6 C297.4,777.9 303.9,778.6 311.9,779.2 C320.0,779.9 335.3,780.3 340.0,780.6" stroke="#f5231b" stroke-width="4.7"/>
<path d="M423.6,788.7 C425.9,788.2 432.6,786.7 437.0,786.0 C441.5,785.3 446.8,784.7 450.4,784.7 C454.0,784.7 455.7,784.9 458.4,786.0 C461.1,787.1 464.4,789.0 466.4,791.3 C468.4,793.7 469.8,798.6 470.4,800.0" stroke="#f5231b" stroke-width="12.6"/>
<path d="M330.0,775.3 C333.3,776.0 343.4,777.5 350.1,779.3 C356.8,781.1 363.4,784.2 370.1,786.0 C376.8,787.8 383.5,788.9 390.2,790.0 C396.9,791.1 406.9,792.2 410.3,792.7" stroke="#f5231b" stroke-width="4.2"/>
<path d="M497.2,794.0 C499.4,791.8 506.3,784.2 510.6,780.6 C514.8,777.1 517.0,774.0 522.6,772.6 C528.2,771.3 534.7,772.2 544.0,772.6 C553.4,773.1 573.0,774.8 578.8,775.3" stroke="#f5231b" stroke-width="5.8"/>
<path d="M390.2,799.4 C393.5,798.9 402.5,797.4 410.3,796.7 C418.1,796.0 428.1,795.4 437.0,795.4 C445.9,795.4 454.8,796.7 463.8,796.7 C472.7,796.7 481.6,796.2 490.5,795.4 C499.4,794.5 508.3,793.3 517.3,791.3 C526.2,789.3 533.8,785.1 544.0,783.3 C554.3,781.5 573.0,781.1 578.8,780.6" stroke="#f5231b" stroke-width="3.2"/>
<path d="M183.6,790.0 C184.9,791.3 188.9,794.7 191.6,798.0 C194.3,801.4 196.9,805.8 199.6,810.1 C202.3,814.3 205.2,819.0 207.6,823.4 C210.1,827.9 212.1,833.5 214.3,836.8 C216.6,840.1 219.9,842.4 221.0,843.5" stroke="#f5231b" stroke-width="10.5"/>
<path d="M100.7,795.3 C102.5,795.8 107.4,795.8 111.4,798.0 C115.4,800.3 120.3,805.6 124.7,808.7 C129.2,811.8 133.7,814.5 138.1,816.7 C142.6,819.0 147.0,821.2 151.5,822.1 C155.9,823.0 159.7,822.5 164.9,822.1 C170.0,821.6 176.7,821.2 182.2,819.4 C187.8,817.6 194.0,814.1 198.3,811.4 C202.5,808.7 204.3,806.5 207.6,803.4 C211.0,800.3 216.6,794.5 218.3,792.7" stroke="#f5231b" stroke-width="4.2"/>
<path d="M100.7,792.7 C102.5,794.0 107.4,797.6 111.4,800.7 C115.4,803.8 120.3,808.3 124.7,811.4 C129.2,814.5 132.5,817.4 138.1,819.4 C143.7,821.4 154.8,822.8 158.2,823.4" stroke="#f5231b" stroke-width="4.2"/>
<path d="M231.7,875.6 C232.8,876.9 235.1,881.8 238.4,883.6 C241.7,885.4 246.2,885.8 251.8,886.3 C257.3,886.7 268.5,886.3 271.8,886.3" stroke="#f5231b" stroke-width="6.3"/>
<path d="M274.5,893.0 C276.3,893.6 281.2,895.2 285.2,897.0 C289.2,898.7 294.1,901.4 298.6,903.7 C303.0,905.9 307.5,908.3 311.9,910.3 C316.4,912.3 323.1,914.8 325.3,915.7" stroke="#f5231b" stroke-width="7.4"/>
<path d="M131.4,1009.9 C133.7,1008.3 140.3,1003.2 144.8,999.9 C149.3,996.7 153.7,993.0 158.2,990.6 C162.6,988.1 167.3,986.4 171.5,985.2 C175.8,984.0 179.1,984.1 183.6,983.2 C188.0,982.3 192.5,981.8 198.3,979.9 C204.1,978.0 212.8,974.7 218.3,971.8 C223.9,968.9 227.3,965.2 231.7,962.5 C236.2,959.8 240.6,957.1 245.1,955.8 C249.5,954.5 251.8,955.6 258.4,954.5 C265.1,953.3 276.3,951.1 285.2,949.1 C294.1,947.1 305.2,944.0 311.9,942.4 C318.6,940.9 321.7,939.5 325.3,939.8 C328.9,940.0 331.1,940.9 333.3,943.8 C335.6,946.7 337.6,954.2 338.7,957.1 C339.8,960.0 339.8,960.5 340.0,961.1" stroke="#f5231b" stroke-width="6.8"/>
<path d="M342.0,901.0 C342.7,898.1 343.6,889.7 346.1,883.6 C348.5,877.6 353.9,871.6 356.8,864.9 C359.7,858.2 361.2,849.3 363.4,843.5 C365.7,837.7 367.9,834.6 370.1,830.1 C372.4,825.7 374.1,821.2 376.8,816.8 C379.5,812.3 383.3,806.9 386.2,803.4 C389.1,799.8 392.9,796.7 394.2,795.4" stroke="#f5231b" stroke-width="8.4"/>
<path d="M330.0,942.5 C331.3,944.9 335.4,951.9 338.0,957.2 C340.7,962.6 342.9,969.0 346.1,974.6 C349.2,980.2 353.2,985.7 356.8,990.6 C360.3,995.5 364.8,1000.8 367.5,1004.0 C370.1,1007.3 371.9,1009.0 372.8,1010.0" stroke="#f5231b" stroke-width="8.4"/>
<path d="M503.9,883.6 C505.0,885.0 508.3,889.0 510.6,891.7 C512.8,894.3 515.0,897.9 517.3,899.7 C519.5,901.5 520.6,901.5 524.0,902.4 C527.3,903.3 532.9,903.3 537.3,905.0 C541.8,906.8 546.2,909.9 550.7,913.1 C555.2,916.2 559.6,919.7 564.1,923.8 C568.5,927.8 575.2,934.9 577.5,937.1" stroke="#f5231b" stroke-width="6.3"/>
<path d="M430.3,1010.0 C432.6,1009.3 439.2,1006.6 443.7,1005.4 C448.2,1004.1 452.6,1004.0 457.1,1002.7 C461.5,1001.3 466.0,999.8 470.4,997.3 C474.9,994.9 479.4,991.8 483.8,988.0 C488.3,984.2 492.7,979.0 497.2,974.6 C501.7,970.1 506.8,965.2 510.6,961.2 C514.4,957.2 515.5,952.7 519.9,950.5 C524.4,948.3 531.1,948.7 537.3,947.8 C543.6,946.9 550.7,946.1 557.4,945.2 C564.1,944.3 574.1,942.9 577.5,942.5" stroke="#f5231b" stroke-width="7.9"/>
<path d="M410.3,795.4 C412.5,797.1 419.2,801.8 423.6,806.1 C428.1,810.3 433.0,816.8 437.0,820.8 C441.0,824.8 444.4,827.9 447.7,830.1 C451.1,832.4 454.4,833.7 457.1,834.1 C459.7,834.6 461.5,833.9 463.8,832.8 C466.0,831.7 468.2,829.7 470.4,827.5 C472.7,825.2 474.9,822.3 477.1,819.4 C479.4,816.5 481.6,813.2 483.8,810.1 C486.1,806.9 488.3,803.4 490.5,800.7 C492.7,798.0 496.1,795.1 497.2,794.0" stroke="#f5231b" stroke-width="4.2"/>
<path d="M410.3,790.0 C414.7,790.2 429.2,790.9 437.0,791.3 C444.8,791.8 451.5,791.1 457.1,792.7 C462.6,794.2 467.1,797.8 470.4,800.7 C473.8,803.6 474.9,807.4 477.1,810.1 C479.4,812.7 482.7,815.6 483.8,816.8" stroke="#f5231b" stroke-width="9.5"/>
<path d="M100.7,621.4 C102.5,620.8 107.4,619.9 111.4,617.4 C115.4,615.0 120.7,610.3 124.7,606.7 C128.8,603.2 132.3,599.8 135.4,596.0 C138.6,592.3 142.1,586.0 143.5,584.0" stroke="#1f10f2" stroke-width="3.0"/>
<path d="M100.7,693.7 C102.9,692.5 108.9,689.9 114.0,687.0 C119.2,684.1 126.3,679.4 131.4,676.3 C136.6,673.1 140.3,669.8 144.8,668.2 C149.3,666.7 153.7,666.9 158.2,666.9 C162.6,666.9 167.3,668.0 171.5,668.2 C175.8,668.5 179.1,668.9 183.6,668.2 C188.0,667.6 192.5,666.0 198.3,664.2 C204.1,662.5 211.7,659.8 218.3,657.6 C225.0,655.3 232.8,651.8 238.4,650.9 C244.0,650.0 247.3,652.4 251.8,652.2 C256.2,652.0 260.7,650.6 265.1,649.5 C269.6,648.4 276.3,646.2 278.5,645.5" stroke="#7040c0" stroke-width="2.6"/>
<path d="M100.7,693.7 C102.9,692.5 108.9,689.9 114.0,687.0 C119.2,684.1 126.3,679.4 131.4,676.3 C136.6,673.1 140.3,669.8 144.8,668.2 C149.3,666.7 153.7,666.9 158.2,666.9 C162.6,666.9 167.3,668.0 171.5,668.2 C175.8,668.5 179.1,668.9 183.6,668.2 C188.0,667.6 192.5,666.0 198.3,664.2 C204.1,662.5 211.7,659.8 218.3,657.6 C225.0,655.3 232.8,651.8 238.4,650.9 C244.0,650.0 247.3,652.4 251.8,652.2 C256.2,652.0 260.7,650.6 265.1,649.5 C269.6,648.4 276.3,646.2 278.5,645.5" stroke="#1f10f2" stroke-width="1.1" stroke-dasharray="0.01 2.2"/>
<path d="M251.8,650.9 C254.0,648.6 260.7,642.6 265.1,637.5 C269.6,632.4 274.0,626.4 278.5,620.1 C283.0,613.9 288.3,606.1 291.9,600.1 C295.4,594.0 298.6,586.7 299.9,584.0" stroke="#1f10f2" stroke-width="2.0"/>
<path d="M396.9,621.5 C399.1,620.8 405.8,619.9 410.3,617.5 C414.7,615.0 419.2,610.1 423.6,606.8 C428.1,603.4 432.6,600.1 437.0,597.4 C441.5,594.7 445.9,592.3 450.4,590.7 C454.8,589.1 459.3,589.1 463.8,588.0 C468.2,586.9 474.2,584.9 477.1,584.0 C480.0,583.1 480.5,582.9 481.2,582.7" stroke="#1f10f2" stroke-width="3.0"/>
<path d="M330.0,624.1 C332.2,624.6 338.9,624.6 343.4,626.8 C347.8,629.0 353.0,632.8 356.8,637.5 C360.5,642.2 362.8,648.9 366.1,654.9 C369.5,660.9 373.5,668.3 376.8,673.6 C380.2,679.0 382.8,683.7 386.2,687.0 C389.5,690.4 392.9,693.5 396.9,693.7 C400.9,693.9 405.8,691.0 410.3,688.3 C414.7,685.7 419.2,681.0 423.6,677.6 C428.1,674.3 432.6,671.2 437.0,668.3 C441.5,665.4 447.0,662.0 450.4,660.3 C453.7,658.5 453.7,659.1 457.1,657.6 C460.4,656.0 467.1,653.6 470.4,650.9 C473.8,648.2 474.9,644.9 477.1,641.5 C479.4,638.2 481.4,634.4 483.8,630.8 C486.3,627.3 489.6,621.9 491.9,620.1 C494.1,618.3 495.2,618.6 497.2,620.1 C499.2,621.7 501.7,626.6 503.9,629.5 C506.1,632.4 508.3,635.1 510.6,637.5 C512.8,640.0 515.3,642.6 517.3,644.2 C519.3,645.8 520.4,646.9 522.6,646.9 C524.8,646.9 527.1,646.7 530.6,644.2 C534.2,641.8 539.6,637.1 544.0,632.2 C548.5,627.3 554.1,618.6 557.4,614.8 C560.7,611.0 561.9,609.4 564.1,609.4 C566.3,609.4 568.3,612.3 570.8,614.8 C573.2,617.2 577.5,622.6 578.8,624.1" stroke="#ee8a2c" stroke-width="3.6"/>
<path d="M330.0,624.1 C332.2,624.6 338.9,624.6 343.4,626.8 C347.8,629.0 353.0,632.8 356.8,637.5 C360.5,642.2 362.8,648.9 366.1,654.9 C369.5,660.9 373.5,668.3 376.8,673.6 C380.2,679.0 382.8,683.7 386.2,687.0 C389.5,690.4 392.9,693.5 396.9,693.7 C400.9,693.9 405.8,691.0 410.3,688.3 C414.7,685.7 419.2,681.0 423.6,677.6 C428.1,674.3 432.6,671.2 437.0,668.3 C441.5,665.4 447.0,662.0 450.4,660.3 C453.7,658.5 453.7,659.1 457.1,657.6 C460.4,656.0 467.1,653.6 470.4,650.9 C473.8,648.2 474.9,644.9 477.1,641.5 C479.4,638.2 481.4,634.4 483.8,630.8 C486.3,627.3 489.6,621.9 491.9,620.1 C494.1,618.3 495.2,618.6 497.2,620.1 C499.2,621.7 501.7,626.6 503.9,629.5 C506.1,632.4 508.3,635.1 510.6,637.5 C512.8,640.0 515.3,642.6 517.3,644.2 C519.3,645.8 520.4,646.9 522.6,646.9 C524.8,646.9 527.1,646.7 530.6,644.2 C534.2,641.8 539.6,637.1 544.0,632.2 C548.5,627.3 554.1,618.6 557.4,614.8 C560.7,611.0 561.9,609.4 564.1,609.4 C566.3,609.4 568.3,612.3 570.8,614.8 C573.2,617.2 577.5,622.6 578.8,624.1" stroke="#1f10f2" stroke-width="1.5" stroke-dasharray="0.01 2.7"/>
<path d="M481.2,584.0 C482.0,585.6 484.7,590.5 486.5,593.4 C488.3,596.3 490.1,601.0 491.9,601.4 C493.6,601.8 495.4,598.5 497.2,596.1 C499.0,593.6 501.7,588.2 502.6,586.7" stroke="#c03070" stroke-width="2.6"/>
<path d="M481.2,584.0 C482.0,585.6 484.7,590.5 486.5,593.4 C488.3,596.3 490.1,601.0 491.9,601.4 C493.6,601.8 495.4,598.5 497.2,596.1 C499.0,593.6 501.7,588.2 502.6,586.7" stroke="#1f10f2" stroke-width="1.1" stroke-dasharray="0.01 2.2"/>
</g>
<line x1="183.3" y1="582.3" x2="183.3" y2="1008.2" stroke="#000" stroke-width="1.4" stroke-dasharray="3.5 3"/>
<line x1="250.7" y1="582.3" x2="250.7" y2="1008.2" stroke="#000" stroke-width="1.4" stroke-dasharray="3.5 3"/>
<line x1="328.8" y1="582.3" x2="328.8" y2="1008.2" stroke="#000" stroke-width="1.4" stroke-dasharray="3.5 3"/>
<line x1="396.1" y1="582.3" x2="396.1" y2="1008.2" stroke="#000" stroke-width="1.4" stroke-dasharray="3.5 3"/>
<line x1="455.6" y1="582.3" x2="455.6" y2="1008.2" stroke="#000" stroke-width="1.4" stroke-dasharray="3.5 3"/>
<line x1="521.6" y1="582.3" x2="521.6" y2="1008.2" stroke="#000" stroke-width="1.4" stroke-dasharray="3.5 3"/>
<line x1="99.9" y1="724.2" x2="579.2" y2="724.2" stroke="#000" stroke-width="1.4" stroke-dasharray="3.5 3"/>
<line x1="99.9" y1="582.3" x2="106.9" y2="582.3" stroke="#000" stroke-width="2" />
<text x="88.4" y="590.55" font-size="34" text-anchor="end" fill="#000" >4</text>
<line x1="99.9" y1="653.3" x2="106.9" y2="653.3" stroke="#000" stroke-width="2" />
<text x="88.4" y="664.3" font-size="34" text-anchor="end" fill="#000" >2</text>
<line x1="99.9" y1="724.3" x2="106.9" y2="724.3" stroke="#000" stroke-width="2" />
<text x="88.4" y="736.05" font-size="34" text-anchor="end" fill="#000" >0</text>
<line x1="99.9" y1="795.3" x2="106.9" y2="795.3" stroke="#000" stroke-width="2" />
<text x="88.4" y="808.3" font-size="34" text-anchor="end" fill="#000" >-2</text>
<line x1="99.9" y1="866.3" x2="106.9" y2="866.3" stroke="#000" stroke-width="2" />
<text x="88.4" y="878.15" font-size="34" text-anchor="end" fill="#000" >-4</text>
<line x1="99.9" y1="937.3" x2="106.9" y2="937.3" stroke="#000" stroke-width="2" />
<text x="88.4" y="948.3" font-size="34" text-anchor="end" fill="#000" >-6</text>
<line x1="99.9" y1="1008.3" x2="106.9" y2="1008.3" stroke="#000" stroke-width="2" />
<text x="88.4" y="1017.15" font-size="34" text-anchor="end" fill="#000" >-8</text>
<text x="100.9" y="1039.5" font-size="34" text-anchor="middle" fill="#000" >Z</text>
<text x="184.3" y="1039.5" font-size="34" text-anchor="middle" fill="#000" >A</text>
<text x="251.7" y="1039.5" font-size="34" text-anchor="middle" fill="#000" >M</text>
<text x="329.8" y="1039.5" font-size="34" text-anchor="middle" fill="#000" >Γ</text>
<text x="397.1" y="1039.5" font-size="34" text-anchor="middle" fill="#000" >Z</text>
<text x="456.6" y="1039.5" font-size="34" text-anchor="middle" fill="#000" >R</text>
<text x="522.6" y="1039.5" font-size="34" text-anchor="middle" fill="#000" >X</text>
<text x="580.2" y="1039.5" font-size="34" text-anchor="middle" fill="#000" >Γ</text>
<text x="0" y="575.5" font-size="38.5" text-anchor="start" fill="#000" >(d)</text>
<circle cx="152.6" cy="563.5" r="10.5" fill="#2f8f23"/>
<text x="166.6" y="574.5" font-size="31" text-anchor="start" fill="#000" >B1</text>
<circle cx="257" cy="563.5" r="10.5" fill="#f5231b"/>
<text x="275.5" y="574.5" font-size="31" text-anchor="start" fill="#000" >B2</text>
<circle cx="365" cy="563.5" r="10.5" fill="#1f10f2"/>
<text x="379" y="574.5" font-size="31" text-anchor="start" fill="#000" >K</text>
<circle cx="470" cy="563.5" r="10.5" fill="#ee8a2c"/>
<text x="484" y="574.5" font-size="31" text-anchor="start" fill="#000" >Au</text>
<text transform="translate(34,796) rotate(-90)" font-size="40" text-anchor="middle">Energy (eV)</text>
<path d="M1437.9,463 L1437.9,462.5 L1438.5,458.8 L1441.6,455.0 L1444.8,458.8 L1448.5,461.2 L1459.8,462.5 L1463.5,455.0 L1467.2,454.4 L1472.2,440.0 L1476.0,436.2 L1480.4,435.0 L1484.8,443.8 L1488.5,435.0 L1492.9,430.6 L1497.2,453.8 L1501.0,454.4 L1506.0,456.9 L1511.0,458.8 L1514.8,460.0 L1518.5,448.8 L1526.0,448.8 L1529.8,453.1 L1534.8,453.1 L1537.2,454.4 L1541.0,447.5 L1544.1,446.2 L1547.9,428.8 L1551.6,456.2 L1556.0,457.5 L1559.1,456.9 L1562.2,461.2 L1566.0,457.5 L1572.2,452.5 L1573.5,451.9 L1576.6,460.0 L1580.4,459.4 L1584.1,431.2 L1587.9,436.2 L1591.6,427.5 L1596.6,451.2 L1600.4,451.2 L1604.8,400.0 L1612.9,455.0 L1617.2,446.9 L1622.2,457.5 L1626.0,443.8 L1630.4,441.2 L1634.8,385.0 L1639.1,395.0 L1642.9,436.9 L1651.0,440.0 L1656.0,438.8 L1661.0,432.5 L1664.8,416.2 L1666.6,375.0 L1668.2,320.0 L1670.0,356.2 L1672.2,400.0 L1676.0,438.8 L1681.0,443.8 L1681.0,445.0 L1687.2,448.8 L1692.2,446.9 L1698.5,446.9 L1701.6,448.1 L1705.4,430.0 L1709.1,448.1 L1712.2,447.5 L1716.0,435.0 L1719.8,448.8 L1722.9,448.1 L1726.6,456.2 L1731.0,453.1 L1734.8,448.8 L1737.2,460.6 L1742.2,459.4 L1747.2,446.2 L1750.4,446.9 L1755.4,457.5 L1759.1,437.5 L1761.6,451.9 L1764.8,432.5 L1768.5,445.6 L1771.6,445.0 L1776.0,452.5 L1780.4,458.1 L1783.5,455.0 L1786.0,458.1 L1789.1,424.4 L1792.9,423.8 L1795.4,431.2 L1799.1,440.0 L1802.2,427.5 L1806.0,456.2 L1809.8,462.5 L1814.8,457.5 L1819.8,456.2 L1827.9,461.9 L1831.0,460.6 L1834.8,441.2 L1837.9,459.4 L1842.2,456.2 L1846.0,459.4 L1849.1,430.0 L1853.2,410.0 L1856.6,423.8 L1861.0,452.5 L1864.8,432.5 L1871.0,422.5 L1873.5,421.9 L1876.0,403.1 L1878.5,415.0 L1881.6,443.8 L1884.1,451.2 L1888.5,421.9 L1891.0,421.2 L1894.1,445.6 L1897.2,443.8 L1902.9,458.8 L1906.0,453.1 L1911.0,448.8 L1913.5,437.5 L1917.2,387.5 L1919.8,337.5 L1921.2,320.0 L1921.3,463 Z" fill="#9cfafa"/>
<line x1="1518.8" y1="34" x2="1518.8" y2="463" stroke="#000" stroke-width="1.4" stroke-dasharray="3.5 3"/>
<line x1="1587.7" y1="34" x2="1587.7" y2="463" stroke="#000" stroke-width="1.4" stroke-dasharray="3.5 3"/>
<line x1="1668.6" y1="34" x2="1668.6" y2="463" stroke="#000" stroke-width="1.4" stroke-dasharray="3.5 3"/>
<line x1="1737.5" y1="34" x2="1737.5" y2="463" stroke="#000" stroke-width="1.4" stroke-dasharray="3.5 3"/>
<line x1="1794.6" y1="34" x2="1794.6" y2="463" stroke="#000" stroke-width="1.4" stroke-dasharray="3.5 3"/>
<line x1="1863.5" y1="34" x2="1863.5" y2="463" stroke="#000" stroke-width="1.4" stroke-dasharray="3.5 3"/>
<line x1="1438.3" y1="34" x2="1445.3" y2="34" stroke="#000" stroke-width="2" />
<text x="1424.8" y="43" font-size="34" text-anchor="end" fill="#000" >21</text>
<line x1="1438.3" y1="177" x2="1445.3" y2="177" stroke="#000" stroke-width="2" />
<text x="1424.8" y="186" font-size="34" text-anchor="end" fill="#000" >14</text>
<line x1="1438.3" y1="320" x2="1445.3" y2="320" stroke="#000" stroke-width="2" />
<text x="1424.8" y="329" font-size="34" text-anchor="end" fill="#000" >7</text>
<line x1="1438.3" y1="463" x2="1445.3" y2="463" stroke="#000" stroke-width="2" />
<text x="1424.8" y="472" font-size="34" text-anchor="end" fill="#000" >0</text>
<text x="1439.3" y="494" font-size="34" text-anchor="middle" fill="#000" >Z</text>
<text x="1519.8" y="494" font-size="34" text-anchor="middle" fill="#000" >A</text>
<text x="1588.7" y="494" font-size="34" text-anchor="middle" fill="#000" >M</text>
<text x="1669.6" y="494" font-size="34" text-anchor="middle" fill="#000" >Γ</text>
<text x="1738.5" y="494" font-size="34" text-anchor="middle" fill="#000" >Z</text>
<text x="1795.6" y="494" font-size="34" text-anchor="middle" fill="#000" >R</text>
<text x="1864.5" y="494" font-size="34" text-anchor="middle" fill="#000" >X</text>
<text x="1922.3" y="494" font-size="34" text-anchor="middle" fill="#000" >Γ</text>
<text x="1333" y="29" font-size="38.5" text-anchor="start" fill="#000" >(c)</text>
<text transform="translate(1365,240) rotate(-90)" font-size="40" text-anchor="middle">ξ(Q) (arb.unit)</text>
<path d="M1438.6,1009.7 L1438.6,758.6 L1441.3,779.6 L1445.2,829.5 L1449.1,882.0 L1454.4,934.5 L1462.3,960.8 L1468.8,988.4 L1472.8,960.8 L1478.0,1000.2 L1485.9,1000.2 L1489.8,989.7 L1492.5,952.9 L1497.7,929.3 L1503.0,921.4 L1507.4,922.7 L1509.0,882.0 L1511.6,833.4 L1514.8,850.5 L1520.0,858.4 L1526.6,868.9 L1534.5,892.5 L1542.4,921.4 L1548.9,952.9 L1555.5,959.5 L1559.4,958.2 L1564.7,945.0 L1572.6,926.6 L1580.4,910.9 L1587.0,884.6 L1592.2,879.4 L1596.7,847.9 L1600.1,854.4 L1605.4,864.9 L1609.3,884.6 L1614.6,929.3 L1618.5,963.4 L1622.4,966.0 L1626.4,959.5 L1631.6,981.8 L1635.6,968.7 L1640.8,971.3 L1644.8,975.2 L1648.7,930.6 L1654.0,913.5 L1660.5,882.0 L1663.2,829.5 L1665.8,711.3 L1668.4,619.4 L1670.5,581.1 L1673.7,581.1 L1676.0,606.3 L1681.3,658.8 L1686.5,698.2 L1694.4,737.6 L1702.3,769.1 L1708.8,792.7 L1723.3,792.7 L1728.5,784.8 L1733.8,769.1 L1737.7,750.7 L1738.5,973.9 L1743.0,1005.4 L1749.5,994.9 L1754.8,1005.4 L1758.7,963.4 L1761.3,1002.8 L1765.3,1008.0 L1770.5,956.8 L1774.5,979.2 L1778.4,981.8 L1781.0,973.9 L1783.7,947.6 L1786.3,1010.7 L1863.8,1010.7 L1865.6,966.0 L1869.0,1005.4 L1878.2,1010.7 L1884.8,942.4 L1890.0,989.7 L1894.0,976.5 L1899.2,1000.2 L1903.2,1002.8 L1908.4,979.2 L1911.0,1008.0 L1916.3,1005.4 L1920.2,992.3 L1921.5,1010.7 L1921.3,1009.7 Z" fill="#9cfafa"/>
<line x1="1520.5" y1="581" x2="1520.5" y2="1009.7" stroke="#000" stroke-width="1.4" stroke-dasharray="3.5 3"/>
<line x1="1587.7" y1="581" x2="1587.7" y2="1009.7" stroke="#000" stroke-width="1.4" stroke-dasharray="3.5 3"/>
<line x1="1670" y1="581" x2="1670" y2="1009.7" stroke="#000" stroke-width="1.4" stroke-dasharray="3.5 3"/>
<line x1="1737.5" y1="581" x2="1737.5" y2="1009.7" stroke="#000" stroke-width="1.4" stroke-dasharray="3.5 3"/>
<line x1="1795.3" y1="581" x2="1795.3" y2="1009.7" stroke="#000" stroke-width="1.4" stroke-dasharray="3.5 3"/>
<line x1="1863.5" y1="581" x2="1863.5" y2="1009.7" stroke="#000" stroke-width="1.4" stroke-dasharray="3.5 3"/>
<line x1="1438.6" y1="581" x2="1445.6" y2="581" stroke="#000" stroke-width="2" />
<text x="1425.1" y="590" font-size="34" text-anchor="end" fill="#000" >21</text>
<line x1="1438.6" y1="723.9" x2="1445.6" y2="723.9" stroke="#000" stroke-width="2" />
<text x="1425.1" y="732.9" font-size="34" text-anchor="end" fill="#000" >14</text>
<line x1="1438.6" y1="866.8" x2="1445.6" y2="866.8" stroke="#000" stroke-width="2" />
<text x="1425.1" y="875.8" font-size="34" text-anchor="end" fill="#000" >7</text>
<line x1="1438.6" y1="1009.7" x2="1445.6" y2="1009.7" stroke="#000" stroke-width="2" />
<text x="1425.1" y="1018.7" font-size="34" text-anchor="end" fill="#000" >0</text>
<text x="1439.6" y="1043" font-size="34" text-anchor="middle" fill="#000" >Z</text>
<text x="1521.5" y="1043" font-size="34" text-anchor="middle" fill="#000" >A</text>
<text x="1588.7" y="1043" font-size="34" text-anchor="middle" fill="#000" >M</text>
<text x="1671" y="1043" font-size="34" text-anchor="middle" fill="#000" >Γ</text>
<text x="1738.5" y="1043" font-size="34" text-anchor="middle" fill="#000" >Z</text>
<text x="1796.3" y="1043" font-size="34" text-anchor="middle" fill="#000" >R</text>
<text x="1864.5" y="1043" font-size="34" text-anchor="middle" fill="#000" >X</text>
<text x="1922.3" y="1043" font-size="34" text-anchor="middle" fill="#000" >Γ</text>
<text x="1328" y="578.5" font-size="38.5" text-anchor="start" fill="#000" >(f)</text>
<text transform="translate(1365,804.5) rotate(-90)" font-size="40" text-anchor="middle">ξ(Q) (arb.unit)</text>
<defs>
<linearGradient id="fsgrad" x1="0" y1="0" x2="0" y2="1">
<stop offset="0" stop-color="#dbe82e"/><stop offset="0.10" stop-color="#9ccc22"/>
<stop offset="0.18" stop-color="#3fdc1c"/><stop offset="0.25" stop-color="#3ccf3a"/>
<stop offset="0.29" stop-color="#62e6d6"/><stop offset="0.34" stop-color="#2f8f5a"/>
<stop offset="0.42" stop-color="#2c8a3c"/><stop offset="0.48" stop-color="#3ed52a"/>
<stop offset="0.55" stop-color="#5ee4d0"/><stop offset="0.60" stop-color="#2f9a55"/>
<stop offset="0.68" stop-color="#3fdc1c"/><stop offset="0.80" stop-color="#a8dc26"/>
<stop offset="0.90" stop-color="#e8f032"/><stop offset="1" stop-color="#c8d828"/>
</linearGradient>
<radialGradient id="dkg"><stop offset="0" stop-color="#256a30" stop-opacity="0.75"/><stop offset="0.6" stop-color="#2a7034" stop-opacity="0.45"/><stop offset="1" stop-color="#2a7034" stop-opacity="0"/></radialGradient>
<radialGradient id="redtop"><stop offset="0" stop-color="#8c140c"/><stop offset="0.6" stop-color="#a03a10" stop-opacity="0.8"/><stop offset="1" stop-color="#7a8a20" stop-opacity="0"/></radialGradient>
<radialGradient id="redbot"><stop offset="0" stop-color="#ec2a10"/><stop offset="0.55" stop-color="#f0661a" stop-opacity="0.9"/><stop offset="1" stop-color="#e8e030" stop-opacity="0"/></radialGradient>
<radialGradient id="drop"><stop offset="0" stop-color="#e05020"/><stop offset="0.5" stop-color="#d8d030"/><stop offset="1" stop-color="#50c020"/></radialGradient>
<radialGradient id="gball" cx="0.4" cy="0.35"><stop offset="0" stop-color="#55f03a"/><stop offset="0.6" stop-color="#3ed82a"/><stop offset="1" stop-color="#2a8a30"/></radialGradient>
<radialGradient id="cball" cx="0.4" cy="0.35"><stop offset="0" stop-color="#70f0c0"/><stop offset="0.6" stop-color="#40e0a0"/><stop offset="1" stop-color="#30a070"/></radialGradient>
</defs>
<line x1="733.7" y1="50.4" x2="855.0" y2="54.8" stroke="#000" stroke-width="1.6"/>
<line x1="855.0" y1="54.8" x2="919.3" y2="40.3" stroke="#000" stroke-width="1.6"/>
<line x1="855.0" y1="54.8" x2="853.0" y2="205.2" stroke="#000" stroke-width="1.6"/>
<line x1="733.7" y1="207.7" x2="853.0" y2="205.2" stroke="#000" stroke-width="1.6"/>
<line x1="915.8" y1="227.3" x2="853.0" y2="205.2" stroke="#000" stroke-width="1.6"/>
<line x1="733.7" y1="50.4" x2="733.7" y2="207.7" stroke="#000" stroke-width="1.6"/>
<line x1="1025.7" y1="52.2" x2="1147.0" y2="56.6" stroke="#000" stroke-width="1.6"/>
<line x1="1147.0" y1="56.6" x2="1211.3" y2="42.1" stroke="#000" stroke-width="1.6"/>
<line x1="1147.0" y1="56.6" x2="1145.0" y2="207.0" stroke="#000" stroke-width="1.6"/>
<line x1="1025.7" y1="209.5" x2="1145.0" y2="207.0" stroke="#000" stroke-width="1.6"/>
<line x1="1207.8" y1="229.1" x2="1145.0" y2="207.0" stroke="#000" stroke-width="1.6"/>
<line x1="1025.7" y1="52.2" x2="1025.7" y2="209.5" stroke="#000" stroke-width="1.6"/>
<clipPath id="fsb1"><path d="M739.6,96.5 C741.0,91.7 744.2,72.5 748.0,67.9 C751.7,63.2 757.3,67.7 762.0,68.5 C766.6,69.4 771.3,71.3 775.9,72.7 C780.6,74.1 786.2,76.5 789.9,76.9 C793.7,77.4 794.8,75.1 798.3,75.5 C801.8,76.0 807.2,79.5 810.9,79.7 C814.6,80.0 817.2,78.3 820.7,76.9 C824.2,75.5 827.7,73.1 831.9,71.3 C836.1,69.6 842.1,67.3 845.9,66.5 C849.6,65.6 850.8,65.6 854.3,66.5 C857.8,67.3 863.6,70.1 866.9,71.3 C870.1,72.6 870.8,73.9 873.8,74.1 C876.9,74.4 881.5,71.8 885.0,72.7 C888.5,73.7 891.8,75.8 894.8,79.7 C897.9,83.7 901.1,90.5 903.2,96.5 C905.3,102.6 907.4,111.0 907.4,116.1 C907.4,121.2 903.7,123.1 903.2,127.3 C902.8,131.5 903.9,136.1 904.6,141.3 C905.3,146.4 907.6,152.9 907.4,158.1 C907.2,163.2 905.3,167.4 903.2,172.0 C901.1,176.7 897.4,182.3 894.8,186.0 C892.3,189.8 890.2,192.6 887.8,194.4 C885.5,196.3 883.6,195.8 880.8,197.2 C878.0,198.6 874.5,200.7 871.0,202.8 C867.6,204.9 863.4,207.9 859.9,209.8 C856.4,211.7 853.6,213.8 850.1,214.0 C846.6,214.2 842.4,212.8 838.9,211.2 C835.4,209.6 833.1,206.8 829.1,204.2 C825.1,201.6 818.8,198.9 815.1,195.8 C811.4,192.8 809.7,187.0 806.7,186.0 C803.7,185.1 800.9,188.6 796.9,190.2 C793.0,191.9 787.6,194.2 782.9,195.8 C778.3,197.5 773.6,198.9 769.0,200.0 C764.3,201.2 758.5,202.1 755.0,202.8 C751.5,203.5 750.1,207.0 748.0,204.2 C745.9,201.4 743.8,193.7 742.4,186.0 C741.0,178.3 740.0,167.4 739.6,158.1 C739.1,148.7 739.6,140.3 739.6,130.1 C739.6,119.8 739.6,102.1 739.6,96.5 Z"/></clipPath>
<g clip-path="url(#fsb1)">
<rect x="737.6" y="64.5" width="171.8" height="151.6" fill="url(#fsgrad)"/>
<ellipse cx="836.1" cy="81.1" rx="20" ry="8" fill="url(#redtop)"/>
<ellipse cx="803.9" cy="80.4" rx="10" ry="4" fill="url(#redbot)"/>
<ellipse cx="830.5" cy="189.5" rx="26" ry="11" fill="url(#redbot)"/>
<ellipse cx="752.9" cy="135.7" rx="12" ry="70" fill="url(#dkg)" opacity="0.7"/>
<path d="M748.7,67.9 C747.7,71.7 744.6,79.6 743.1,90.9 C741.6,102.2 739.6,120.8 739.6,135.7 C739.6,150.6 741.6,169.0 743.1,180.4 C744.6,191.9 747.5,203.3 748.7,204.2 C749.8,205.1 750.4,197.5 750.1,186.0 C749.7,174.6 746.6,152.5 746.6,135.7 C746.6,118.9 749.7,96.6 750.1,85.3 C750.4,74.0 748.9,70.8 748.7,67.9 Z" fill="#e6ee30" opacity="0.9"/>
<ellipse cx="852.2" cy="132.9" rx="18" ry="55" fill="url(#dkg)"/>
<ellipse cx="778.7" cy="132.9" rx="24" ry="60" fill="url(#dkg)" opacity="0.8"/>
<ellipse cx="887.8" cy="83.9" rx="12" ry="6" fill="#e0ec30" opacity="0.8"/>
</g>
<path d="M798.3,110.5 C799.3,108.6 801.1,102.8 803.9,99.3 C806.7,95.8 811.4,91.6 815.1,89.5 C818.8,87.4 822.6,86.5 826.3,86.7 C830.0,87.0 835.3,88.4 837.5,90.9 C839.7,93.5 839.8,98.4 839.6,102.1 C839.3,105.8 838.3,110.5 836.1,113.3 C833.9,116.1 830.5,118.1 826.3,118.9 C822.1,119.7 815.3,118.7 810.9,118.2 C806.5,117.7 801.8,117.4 799.7,116.1 C797.6,114.8 798.6,111.4 798.3,110.5 Z" fill="#fff"/>
<path d="M861.3,113.3 C862.0,110.5 863.4,101.0 865.5,96.5 C867.6,92.1 870.1,88.1 873.8,86.7 C877.6,85.3 883.9,86.0 887.8,88.1 C891.8,90.2 895.5,95.1 897.6,99.3 C899.7,103.5 901.4,110.0 900.4,113.3 C899.5,116.6 896.5,118.0 892.0,118.9 C887.6,119.8 879.0,119.8 873.8,118.9 C868.7,118.0 863.4,114.2 861.3,113.3 Z" fill="#fff"/>
<path d="M798.3,163.7 C799.3,161.8 800.7,155.3 803.9,152.5 C807.2,149.7 812.8,147.6 817.9,146.9 C823.0,146.2 831.2,146.4 834.7,148.3 C838.2,150.1 838.6,154.1 838.9,158.1 C839.1,162.0 838.6,168.3 836.1,172.0 C833.5,175.8 828.4,178.8 823.5,180.4 C818.6,182.1 811.1,182.8 806.7,181.8 C802.3,180.9 798.3,177.9 796.9,174.8 C795.5,171.8 798.1,165.5 798.3,163.7 Z" fill="#fff"/>
<path d="M864.1,158.1 C865.7,157.1 869.9,152.9 873.8,152.5 C877.8,152.0 883.6,153.4 887.8,155.3 C892.0,157.1 897.9,160.2 899.0,163.7 C900.2,167.2 897.9,172.5 894.8,176.2 C891.8,180.0 884.8,184.9 880.8,186.0 C876.9,187.2 874.1,185.6 871.0,183.2 C868.0,180.9 863.8,176.2 862.7,172.0 C861.5,167.9 863.8,160.4 864.1,158.1 Z" fill="#fff"/>
<clipPath id="fsb2"><path d="M1031.6,98.3 C1033.0,93.5 1036.2,74.3 1040.0,69.7 C1043.7,65.0 1049.3,69.5 1054.0,70.3 C1058.6,71.2 1063.3,73.1 1067.9,74.5 C1072.6,75.9 1078.2,78.3 1081.9,78.7 C1085.7,79.2 1086.8,76.9 1090.3,77.3 C1093.8,77.8 1099.2,81.3 1102.9,81.5 C1106.6,81.8 1109.2,80.1 1112.7,78.7 C1116.2,77.3 1119.7,74.9 1123.9,73.1 C1128.1,71.4 1134.1,69.1 1137.9,68.3 C1141.6,67.4 1142.8,67.4 1146.3,68.3 C1149.8,69.1 1155.6,71.9 1158.9,73.1 C1162.1,74.4 1162.8,75.7 1165.8,75.9 C1168.9,76.2 1173.5,73.6 1177.0,74.5 C1180.5,75.5 1183.8,77.6 1186.8,81.5 C1189.9,85.5 1193.1,92.3 1195.2,98.3 C1197.3,104.4 1199.4,112.8 1199.4,117.9 C1199.4,123.0 1195.7,124.9 1195.2,129.1 C1194.8,133.3 1195.9,137.9 1196.6,143.1 C1197.3,148.2 1199.6,154.7 1199.4,159.9 C1199.2,165.0 1197.3,169.2 1195.2,173.8 C1193.1,178.5 1189.4,184.1 1186.8,187.8 C1184.3,191.6 1182.2,194.4 1179.8,196.2 C1177.5,198.1 1175.6,197.6 1172.8,199.0 C1170.0,200.4 1166.5,202.5 1163.0,204.6 C1159.6,206.7 1155.4,209.7 1151.9,211.6 C1148.4,213.5 1145.6,215.6 1142.1,215.8 C1138.6,216.0 1134.4,214.6 1130.9,213.0 C1127.4,211.4 1125.1,208.6 1121.1,206.0 C1117.1,203.4 1110.8,200.7 1107.1,197.6 C1103.4,194.6 1101.7,188.8 1098.7,187.8 C1095.7,186.9 1092.9,190.4 1088.9,192.0 C1085.0,193.7 1079.6,196.0 1074.9,197.6 C1070.3,199.3 1065.6,200.7 1061.0,201.8 C1056.3,203.0 1050.5,203.9 1047.0,204.6 C1043.5,205.3 1042.1,208.8 1040.0,206.0 C1037.9,203.2 1035.8,195.5 1034.4,187.8 C1033.0,180.1 1032.0,169.2 1031.6,159.9 C1031.1,150.5 1031.6,142.1 1031.6,131.9 C1031.6,121.6 1031.6,103.9 1031.6,98.3 Z"/></clipPath>
<g clip-path="url(#fsb2)">
<rect x="1029.6" y="66.3" width="171.8" height="151.6" fill="url(#fsgrad)"/>
<ellipse cx="1128.1" cy="82.9" rx="20" ry="8" fill="url(#redtop)"/>
<ellipse cx="1095.9" cy="82.2" rx="10" ry="4" fill="url(#redbot)"/>
<ellipse cx="1122.5" cy="191.3" rx="26" ry="11" fill="url(#redbot)"/>
<ellipse cx="1044.9" cy="137.5" rx="12" ry="70" fill="url(#dkg)" opacity="0.7"/>
<path d="M1040.7,69.7 C1039.7,73.5 1036.6,81.4 1035.1,92.7 C1033.6,104.0 1031.6,122.6 1031.6,137.5 C1031.6,152.4 1033.6,170.8 1035.1,182.2 C1036.6,193.7 1039.5,205.1 1040.7,206.0 C1041.8,206.9 1042.4,199.3 1042.1,187.8 C1041.7,176.4 1038.6,154.3 1038.6,137.5 C1038.6,120.7 1041.7,98.4 1042.1,87.1 C1042.4,75.8 1040.9,72.6 1040.7,69.7 Z" fill="#e6ee30" opacity="0.9"/>
<ellipse cx="1144.2" cy="134.7" rx="18" ry="55" fill="url(#dkg)"/>
<ellipse cx="1070.7" cy="134.7" rx="24" ry="60" fill="url(#dkg)" opacity="0.8"/>
<ellipse cx="1179.8" cy="85.7" rx="12" ry="6" fill="#e0ec30" opacity="0.8"/>
</g>
<path d="M1090.3,112.3 C1091.3,110.4 1093.1,104.6 1095.9,101.1 C1098.7,97.6 1103.4,93.4 1107.1,91.3 C1110.8,89.2 1114.6,88.3 1118.3,88.5 C1122.0,88.8 1127.3,90.2 1129.5,92.7 C1131.7,95.3 1131.8,100.2 1131.6,103.9 C1131.3,107.6 1130.3,112.3 1128.1,115.1 C1125.9,117.9 1122.5,119.9 1118.3,120.7 C1114.1,121.5 1107.3,120.5 1102.9,120.0 C1098.5,119.5 1093.8,119.2 1091.7,117.9 C1089.6,116.6 1090.6,113.2 1090.3,112.3 Z" fill="#fff"/>
<path d="M1153.3,115.1 C1154.0,112.3 1155.4,102.8 1157.5,98.3 C1159.6,93.9 1162.1,89.9 1165.8,88.5 C1169.6,87.1 1175.9,87.8 1179.8,89.9 C1183.8,92.0 1187.5,96.9 1189.6,101.1 C1191.7,105.3 1193.4,111.8 1192.4,115.1 C1191.5,118.4 1188.5,119.8 1184.0,120.7 C1179.6,121.6 1171.0,121.6 1165.8,120.7 C1160.7,119.8 1155.4,116.0 1153.3,115.1 Z" fill="#fff"/>
<path d="M1090.3,165.5 C1091.3,163.6 1092.7,157.1 1095.9,154.3 C1099.2,151.5 1104.8,149.4 1109.9,148.7 C1115.0,148.0 1123.2,148.2 1126.7,150.1 C1130.2,151.9 1130.6,155.9 1130.9,159.9 C1131.1,163.8 1130.6,170.1 1128.1,173.8 C1125.5,177.6 1120.4,180.6 1115.5,182.2 C1110.6,183.9 1103.1,184.6 1098.7,183.6 C1094.3,182.7 1090.3,179.7 1088.9,176.6 C1087.5,173.6 1090.1,167.3 1090.3,165.5 Z" fill="#fff"/>
<path d="M1156.1,159.9 C1157.7,158.9 1161.9,154.7 1165.8,154.3 C1169.8,153.8 1175.6,155.2 1179.8,157.1 C1184.0,158.9 1189.9,162.0 1191.0,165.5 C1192.2,169.0 1189.9,174.3 1186.8,178.0 C1183.8,181.8 1176.8,186.7 1172.8,187.8 C1168.9,189.0 1166.1,187.4 1163.0,185.0 C1160.0,182.7 1155.8,178.0 1154.7,173.8 C1153.5,169.7 1155.8,162.2 1156.1,159.9 Z" fill="#fff"/>
<line x1="767.6" y1="30.5" x2="919.3" y2="40.3" stroke="#000" stroke-width="1.6"/>
<line x1="767.6" y1="30.5" x2="733.7" y2="50.4" stroke="#000" stroke-width="1.6"/>
<line x1="767.6" y1="30.5" x2="766.9" y2="240.6" stroke="#000" stroke-width="1.6"/>
<line x1="919.3" y1="40.3" x2="915.8" y2="227.3" stroke="#000" stroke-width="1.6"/>
<line x1="733.7" y1="207.7" x2="766.9" y2="240.6" stroke="#000" stroke-width="1.6"/>
<line x1="766.9" y1="240.6" x2="915.8" y2="227.3" stroke="#000" stroke-width="1.6"/>
<line x1="1059.6" y1="32.3" x2="1211.3" y2="42.1" stroke="#000" stroke-width="1.6"/>
<line x1="1059.6" y1="32.3" x2="1025.7" y2="52.2" stroke="#000" stroke-width="1.6"/>
<line x1="1059.6" y1="32.3" x2="1058.9" y2="242.4" stroke="#000" stroke-width="1.6"/>
<line x1="1211.3" y1="42.1" x2="1207.8" y2="229.1" stroke="#000" stroke-width="1.6"/>
<line x1="1025.7" y1="209.5" x2="1058.9" y2="242.4" stroke="#000" stroke-width="1.6"/>
<line x1="1058.9" y1="242.4" x2="1207.8" y2="229.1" stroke="#000" stroke-width="1.6"/>
<ellipse cx="769" cy="41" rx="3" ry="7" fill="url(#drop)"/>
<ellipse cx="736.5" cy="58" rx="4" ry="9" fill="url(#drop)"/>
<ellipse cx="736.5" cy="201" rx="3.5" ry="6" fill="url(#drop)"/>
<ellipse cx="768.5" cy="234" rx="3" ry="5" fill="url(#drop)"/>
<ellipse cx="811" cy="47" rx="2" ry="3" fill="url(#drop)"/>
<g stroke="#f01010" stroke-width="1.8" fill="none">
<path d="M767.6,30.5 L821.4,43.8 L846.6,36.1 L846.6,136.1 M767.6,30.5 L767.6,136.8"/>
<path d="M821.4,43.8 L821.4,120.7 L767.6,136.8 M821.4,120.7 L846.6,136.1" stroke-dasharray="5 3.5"/>
</g>
<text x="752" y="23" font-size="30" text-anchor="middle" fill="#000" >A</text>
<text x="821" y="27" font-size="30" text-anchor="middle" fill="#000" >Z</text>
<text x="856" y="27" font-size="30" text-anchor="middle" fill="#000" >R</text>
<text x="740" y="146" font-size="30" text-anchor="middle" fill="#000" >M</text>
<text x="815" y="152" font-size="30" text-anchor="middle" fill="#000" >Γ</text>
<text x="858" y="157" font-size="30" text-anchor="middle" fill="#000" >X</text>
<text x="651" y="30.5" font-size="38.5" text-anchor="start" fill="#000" >(b)</text>
<line x1="764.8" y1="273.6" x2="916.5" y2="283.5" stroke="#000" stroke-width="1.6" stroke-linecap="round"/>
<line x1="764.8" y1="273.6" x2="731.9" y2="292.9" stroke="#000" stroke-width="1.6" stroke-linecap="round"/>
<line x1="731.9" y1="292.9" x2="852.2" y2="297.5" stroke="#000" stroke-width="1.6" stroke-linecap="round"/>
<line x1="852.2" y1="297.5" x2="916.5" y2="283.5" stroke="#000" stroke-width="1.6" stroke-linecap="round"/>
<line x1="764.8" y1="273.6" x2="764.8" y2="481.0" stroke="#000" stroke-width="1.6" stroke-linecap="round"/>
<line x1="731.9" y1="292.9" x2="731.9" y2="448.1" stroke="#000" stroke-width="1.6" stroke-linecap="round"/>
<line x1="916.5" y1="283.5" x2="913.7" y2="468.4" stroke="#000" stroke-width="1.6" stroke-linecap="round"/>
<line x1="852.2" y1="297.5" x2="850.0" y2="441.1" stroke="#000" stroke-width="1.6" stroke-linecap="round"/>
<line x1="731.9" y1="448.1" x2="764.8" y2="481.0" stroke="#000" stroke-width="1.6" stroke-linecap="round"/>
<line x1="764.8" y1="481.0" x2="913.7" y2="468.4" stroke="#000" stroke-width="1.6" stroke-linecap="round"/>
<line x1="913.7" y1="468.4" x2="850.0" y2="441.1" stroke="#000" stroke-width="1.6" stroke-linecap="round"/>
<line x1="731.9" y1="448.1" x2="850.0" y2="441.1" stroke="#000" stroke-width="1.6" stroke-linecap="round"/>
<line x1="1056.8" y1="277.3" x2="1203.8" y2="287.2" stroke="#000" stroke-width="1.6" stroke-linecap="round"/>
<line x1="1056.8" y1="277.3" x2="1025.0" y2="295.4" stroke="#000" stroke-width="1.6" stroke-linecap="round"/>
<line x1="1025.0" y1="295.4" x2="1141.1" y2="300.3" stroke="#000" stroke-width="1.6" stroke-linecap="round"/>
<line x1="1141.1" y1="300.3" x2="1203.8" y2="287.2" stroke="#000" stroke-width="1.6" stroke-linecap="round"/>
<line x1="1056.8" y1="277.3" x2="1056.8" y2="477.5" stroke="#000" stroke-width="1.6" stroke-linecap="round"/>
<line x1="1025.0" y1="295.4" x2="1025.0" y2="446.3" stroke="#000" stroke-width="1.6" stroke-linecap="round"/>
<line x1="1203.8" y1="287.2" x2="1199.6" y2="465.4" stroke="#000" stroke-width="1.6" stroke-linecap="round"/>
<line x1="1141.1" y1="300.3" x2="1141.1" y2="441.4" stroke="#000" stroke-width="1.6" stroke-linecap="round"/>
<line x1="1025.0" y1="446.3" x2="1056.8" y2="477.5" stroke="#000" stroke-width="1.6" stroke-linecap="round"/>
<line x1="1056.8" y1="477.5" x2="1199.6" y2="465.4" stroke="#000" stroke-width="1.6" stroke-linecap="round"/>
<line x1="1199.6" y1="465.4" x2="1141.1" y2="441.4" stroke="#000" stroke-width="1.6" stroke-linecap="round"/>
<line x1="1025.0" y1="446.3" x2="1141.1" y2="441.4" stroke="#000" stroke-width="1.6" stroke-linecap="round"/>
<path d="M734,365 Q752,362 756,374 Q752,386 734,385 Q744,375 734,365 Z" fill="url(#gball)"/>
<path d="M761,372 Q785,366 792,383 Q788,396 770,396 Q758,394 760,383 Z" fill="url(#gball)"/>
<ellipse cx="849" cy="373" rx="10" ry="9.5" fill="url(#gball)"/>
<path d="M912,370 Q900,375 896,381 Q900,388 912,392 Q904,381 912,370 Z" fill="url(#gball)"/>
<ellipse cx="769" cy="283" rx="2.5" ry="8" fill="url(#drop)"/>
<ellipse cx="736.5" cy="302" rx="4" ry="9" fill="url(#drop)"/>
<ellipse cx="737" cy="443" rx="3.5" ry="6" fill="url(#drop)"/>
<ellipse cx="768" cy="477" rx="2.5" ry="5" fill="url(#drop)"/>
<ellipse cx="852" cy="303" rx="1.5" ry="5" fill="url(#drop)"/>
<path d="M1025,365 Q1037,366 1039,374 Q1037,383 1025,384 Z" fill="url(#cball)"/>
<path d="M1057,371 Q1070,372 1072,382 Q1070,393 1058,394 Q1054,382 1057,371 Z" fill="url(#cball)"/>
<ellipse cx="1140" cy="372.5" rx="4.5" ry="8" fill="url(#cball)"/>
<ellipse cx="1198.5" cy="379" rx="1.8" ry="7" fill="url(#cball)"/>
<defs><linearGradient id="cbar" x1="0" y1="0" x2="1" y2="0">
<stop offset="0" stop-color="#1010e8"/><stop offset="0.12" stop-color="#2a6ae8"/><stop offset="0.28" stop-color="#70f0f0"/><stop offset="0.45" stop-color="#40e070"/><stop offset="0.6" stop-color="#30e020"/><stop offset="0.72" stop-color="#b0e030"/><stop offset="0.8" stop-color="#f0e840"/><stop offset="0.9" stop-color="#f07030"/><stop offset="1" stop-color="#f02020"/></linearGradient></defs>
<rect x="846.5" y="515" width="247" height="13" fill="url(#cbar)"/>
<text x="842" y="534" font-size="30" text-anchor="end" fill="#000" >min</text>
<text x="1101" y="534" font-size="30" text-anchor="start" fill="#000" >max</text>
<defs>
<linearGradient id="horn" x1="0" y1="0" x2="1" y2="0">
<stop offset="0" stop-color="#2a7aa8"/><stop offset="0.08" stop-color="#50d8e0"/><stop offset="0.18" stop-color="#2f8a3a"/>
<stop offset="0.5" stop-color="#5a6a1a"/><stop offset="0.75" stop-color="#6a4a14"/><stop offset="1" stop-color="#3a8a2a"/></linearGradient>
<linearGradient id="hornY" x1="0" y1="0" x2="1" y2="0">
<stop offset="0" stop-color="#2a7aa8"/><stop offset="0.08" stop-color="#50d8e0"/><stop offset="0.2" stop-color="#2f8a3a"/>
<stop offset="0.5" stop-color="#a0a020"/><stop offset="0.75" stop-color="#e8e830"/><stop offset="1" stop-color="#50e030"/></linearGradient>
<radialGradient id="cornR"><stop offset="0" stop-color="#3a8a2a"/><stop offset="0.6" stop-color="#7a2a10"/><stop offset="1" stop-color="#a02010"/></radialGradient>
<linearGradient id="barrel" x1="0" y1="0" x2="1" y2="0"><stop offset="0" stop-color="#e84a10"/><stop offset="0.3" stop-color="#40e8e0"/><stop offset="0.55" stop-color="#50f020"/><stop offset="0.8" stop-color="#e8e030"/><stop offset="1" stop-color="#e83010"/></linearGradient>
</defs>
<rect x="866.6" y="573.9" width="210.1" height="209.2" fill="none" stroke="#000" stroke-width="1.6"/>
<rect x="898.3" y="605.3" width="147.0" height="146.4" fill="none" stroke="#000" stroke-width="1.6"/>
<line x1="866.6" y1="573.9" x2="898.3" y2="605.3" stroke="#000" stroke-width="1.2800000000000002"/>
<line x1="1076.7" y1="573.9" x2="1045.3" y2="605.3" stroke="#000" stroke-width="1.2800000000000002"/>
<line x1="866.6" y1="783.1" x2="898.3" y2="751.7" stroke="#000" stroke-width="1.2800000000000002"/>
<line x1="1076.7" y1="783.1" x2="1045.3" y2="751.7" stroke="#000" stroke-width="1.2800000000000002"/>
<linearGradient id="hg532" gradientUnits="userSpaceOnUse" x1="976.2" y1="652.5" x2="920.2" y2="578.7" href="#horn"/>
<path d="M979.0,650.4 Q953.6,617.3 925.4,574.8 L915.0,582.6 Q953.2,617.7 973.4,654.6 Z" fill="url(#hg532)"/>
<linearGradient id="hg534" gradientUnits="userSpaceOnUse" x1="976.2" y1="652.5" x2="1032.3" y2="578.7" href="#horn"/>
<path d="M979.0,654.6 Q999.3,617.7 1037.5,582.6 L1027.1,574.8 Q998.8,617.3 973.4,650.4 Z" fill="url(#hg534)"/>
<linearGradient id="hg536" gradientUnits="userSpaceOnUse" x1="957.1" y1="671.7" x2="876.4" y2="615.6" href="#hornY"/>
<path d="M959.1,668.8 Q919.2,648.7 880.1,610.3 L872.7,620.9 Q918.9,649.2 955.1,674.6 Z" fill="url(#hg536)"/>
<linearGradient id="hg538" gradientUnits="userSpaceOnUse" x1="957.1" y1="671.7" x2="875.0" y2="730.5" href="#horn"/>
<path d="M955.1,668.9 Q918.2,695.5 871.2,725.2 L878.8,735.8 Q918.6,696.0 959.1,674.5 Z" fill="url(#hg538)"/>
<linearGradient id="hg540" gradientUnits="userSpaceOnUse" x1="996.7" y1="673.0" x2="1073.3" y2="618.3" href="#horn"/>
<path d="M998.7,675.8 Q1033.1,651.1 1077.1,623.6 L1069.5,613.0 Q1032.7,650.6 994.7,670.2 Z" fill="url(#hg540)"/>
<linearGradient id="hg542" gradientUnits="userSpaceOnUse" x1="996.7" y1="673.0" x2="1073.3" y2="730.5" href="#horn"/>
<path d="M994.6,675.8 Q1032.8,696.7 1069.4,735.7 L1077.2,725.3 Q1033.2,696.2 998.8,670.2 Z" fill="url(#hg542)"/>
<linearGradient id="hg544" gradientUnits="userSpaceOnUse" x1="977.6" y1="693.5" x2="918.8" y2="778.3" href="#horn"/>
<path d="M974.7,691.5 Q953.4,733.2 913.5,774.6 L924.1,782.0 Q953.9,733.5 980.5,695.5 Z" fill="url(#hg544)"/>
<linearGradient id="hg546" gradientUnits="userSpaceOnUse" x1="977.6" y1="693.5" x2="1035.0" y2="779.7" href="#hornY"/>
<path d="M974.7,695.4 Q1000.7,734.1 1029.6,783.3 L1040.4,776.1 Q1001.2,733.8 980.5,691.6 Z" fill="url(#hg546)"/>
<rect x="970.2" y="647.5" width="12" height="10" rx="3" fill="#3aa0c0"/><rect x="972.7" y="649.5" width="7" height="6" fill="#60e8f0"/>
<rect x="951.1" y="666.7" width="12" height="10" rx="3" fill="#3aa0c0"/><rect x="953.6" y="668.7" width="7" height="6" fill="#60e8f0"/>
<rect x="990.7" y="668.0" width="12" height="10" rx="3" fill="#3aa0c0"/><rect x="993.2" y="670.0" width="7" height="6" fill="#60e8f0"/>
<rect x="971.6" y="688.5" width="12" height="10" rx="3" fill="#3aa0c0"/><rect x="974.1" y="690.5" width="7" height="6" fill="#60e8f0"/>
<linearGradient id="cg552" gradientUnits="userSpaceOnUse" x1="885.0" y1="595.0" x2="913.0" y2="615.0"><stop offset="0" stop-color="#2a7a5a"/><stop offset="0.35" stop-color="#3a9a2a"/><stop offset="0.7" stop-color="#5a7a1a"/><stop offset="1" stop-color="#8a1a0a"/></linearGradient>
<path d="M868.4,590.4 L881.0,583.7 L892.0,576.4 L897.8,583.4 L899.2,591.8 L886.6,597.4 L875.4,594.6 Z" fill="#8a2410"/>
<path d="M879.0,590.0 L891.0,585.0 L898.0,591.0 L888.0,596.0 Z" fill="#6a5a18" opacity="0.5"/>
<path d="M885.2,596.0 L897.8,591.8 L904.8,600.2 L914.6,605.8 L906.2,615.6 L896.4,614.9 L890.8,608.6 L885.2,597.4 Z" fill="url(#cg552)"/>
<linearGradient id="cg556" gradientUnits="userSpaceOnUse" x1="1062.5" y1="590.0" x2="1041.5" y2="605.0"><stop offset="0" stop-color="#2a7a5a"/><stop offset="0.35" stop-color="#3a9a2a"/><stop offset="0.7" stop-color="#5a7a1a"/><stop offset="1" stop-color="#8a1a0a"/></linearGradient>
<path d="M1075.0,586.5 L1065.5,581.5 L1057.2,576.0 L1052.9,581.3 L1051.8,587.6 L1061.3,591.8 L1069.7,589.7 Z" fill="#8a2410"/>
<path d="M1067.0,586.2 L1058.0,582.5 L1052.8,587.0 L1060.2,590.8 Z" fill="#6a5a18" opacity="0.5"/>
<path d="M1062.3,590.8 L1052.9,587.6 L1047.7,593.9 L1040.3,598.1 L1046.6,605.5 L1054.0,604.9 L1058.2,600.2 L1062.3,591.8 Z" fill="url(#cg556)"/>
<linearGradient id="cg560" gradientUnits="userSpaceOnUse" x1="887.0" y1="0" x2="916.0" y2="0"><stop offset="0" stop-color="#50e8e0"/><stop offset="0.3" stop-color="#40f030"/><stop offset="0.6" stop-color="#e8f040"/><stop offset="0.85" stop-color="#f06020"/><stop offset="1" stop-color="#e83010"/></linearGradient>
<path d="M887.0,754.0 L893.0,761.5 L901.0,763.0 L909.0,762.0 L916.0,756.0 L916.0,744.0 L909.0,736.0 L900.0,733.0 L892.0,735.0 L887.0,742.0 Z" fill="url(#cg560)"/>
<path d="M867.7,756.1 L879.6,750.5 L892.2,750.5 L899.2,759.6 L899.9,773.6 L893.6,781.5 L892.2,770.8 L886.6,759.6 L876.8,756.8 L867.7,758.2 Z" fill="#f05a18"/>
<linearGradient id="cg563" gradientUnits="userSpaceOnUse" x1="1058.0" y1="762.0" x2="1030.0" y2="742.0"><stop offset="0" stop-color="#2a7a5a"/><stop offset="0.35" stop-color="#3a9a2a"/><stop offset="0.7" stop-color="#5a7a1a"/><stop offset="1" stop-color="#8a1a0a"/></linearGradient>
<path d="M1074.6,766.6 L1062.0,773.3 L1051.0,780.6 L1045.2,773.6 L1043.8,765.2 L1056.4,759.6 L1067.6,762.4 Z" fill="#8a2410"/>
<path d="M1064.0,767.0 L1052.0,772.0 L1045.0,766.0 L1055.0,761.0 Z" fill="#6a5a18" opacity="0.5"/>
<path d="M1057.8,761.0 L1045.2,765.2 L1038.2,756.8 L1028.4,751.2 L1036.8,741.4 L1046.6,742.1 L1052.2,748.4 L1057.8,759.6 Z" fill="url(#cg563)"/>
<g stroke="#f01010" stroke-width="1.8" fill="none"><path d="M976.2,587 L1076.7,573.9 L1076.7,673 M976.2,587.6 L1063.7,587.6 L1063.7,672.5"/><path d="M976.2,587.6 L976.2,673 L1076.7,673" stroke-dasharray="5 3"/></g>
<text x="963" y="598" font-size="30" text-anchor="middle" fill="#000" >Z</text>
<text x="1047" y="617" font-size="30" text-anchor="middle" fill="#000" >R</text>
<text x="1047" y="672" font-size="30" text-anchor="middle" fill="#000" >X</text>
<text x="969" y="697" font-size="30" text-anchor="middle" fill="#000" >Γ</text>
<text x="1091" y="572" font-size="30" text-anchor="middle" fill="#000" >A</text>
<text x="1093" y="684" font-size="30" text-anchor="middle" fill="#000" >M</text>
<text x="652" y="577.5" font-size="38.5" text-anchor="start" fill="#000" >(e)</text>
<rect x="723.1" y="822.3" width="213.5" height="213.4" fill="none" stroke="#000" stroke-width="1.6"/>
<rect x="753.2" y="853" width="153.3" height="152.7" fill="none" stroke="#000" stroke-width="1.6"/>
<line x1="723.1" y1="822.3" x2="753.2" y2="853" stroke="#000" stroke-width="1.2800000000000002"/>
<line x1="936.6" y1="822.3" x2="906.5" y2="853" stroke="#000" stroke-width="1.2800000000000002"/>
<line x1="723.1" y1="1035.7" x2="753.2" y2="1005.7" stroke="#000" stroke-width="1.2800000000000002"/>
<line x1="936.6" y1="1035.7" x2="906.5" y2="1005.7" stroke="#000" stroke-width="1.2800000000000002"/>
<linearGradient id="cg581" gradientUnits="userSpaceOnUse" x1="741.5" y1="842.5" x2="769.5" y2="862.5"><stop offset="0" stop-color="#2a7a5a"/><stop offset="0.35" stop-color="#3a9a2a"/><stop offset="0.7" stop-color="#5a7a1a"/><stop offset="1" stop-color="#8a1a0a"/></linearGradient>
<path d="M724.9,837.9 L737.5,831.2 L748.5,823.9 L754.3,830.9 L755.7,839.3 L743.1,844.9 L731.9,842.1 Z" fill="#8a2410"/>
<path d="M735.5,837.5 L747.5,832.5 L754.5,838.5 L744.5,843.5 Z" fill="#6a5a18" opacity="0.5"/>
<path d="M741.7,843.5 L754.3,839.3 L761.3,847.7 L771.1,853.3 L762.7,863.1 L752.9,862.4 L747.3,856.1 L741.7,844.9 Z" fill="url(#cg581)"/>
<linearGradient id="cg585" gradientUnits="userSpaceOnUse" x1="918.0" y1="842.5" x2="890.0" y2="862.5"><stop offset="0" stop-color="#2a7a5a"/><stop offset="0.35" stop-color="#3a9a2a"/><stop offset="0.7" stop-color="#5a7a1a"/><stop offset="1" stop-color="#8a1a0a"/></linearGradient>
<path d="M934.6,837.9 L922.0,831.2 L911.0,823.9 L905.2,830.9 L903.8,839.3 L916.4,844.9 L927.6,842.1 Z" fill="#8a2410"/>
<path d="M924.0,837.5 L912.0,832.5 L905.0,838.5 L915.0,843.5 Z" fill="#6a5a18" opacity="0.5"/>
<path d="M917.8,843.5 L905.2,839.3 L898.2,847.7 L888.4,853.3 L896.8,863.1 L906.6,862.4 L912.2,856.1 L917.8,844.9 Z" fill="url(#cg585)"/>
<linearGradient id="cg589" gradientUnits="userSpaceOnUse" x1="743.5" y1="0" x2="772.5" y2="0"><stop offset="0" stop-color="#50e8e0"/><stop offset="0.3" stop-color="#40f030"/><stop offset="0.6" stop-color="#e8f040"/><stop offset="0.85" stop-color="#f06020"/><stop offset="1" stop-color="#e83010"/></linearGradient>
<path d="M743.5,1007.5 L749.5,1015.0 L757.5,1016.5 L765.5,1015.5 L772.5,1009.5 L772.5,997.5 L765.5,989.5 L756.5,986.5 L748.5,988.5 L743.5,995.5 Z" fill="url(#cg589)"/>
<path d="M724.2,1009.6 L736.1,1004.0 L748.7,1004.0 L755.7,1013.1 L756.4,1027.1 L750.1,1035.0 L748.7,1024.3 L743.1,1013.1 L733.3,1010.3 L724.2,1011.7 Z" fill="#f05a18"/>
<linearGradient id="cg592" gradientUnits="userSpaceOnUse" x1="918.0" y1="1015.5" x2="890.0" y2="995.5"><stop offset="0" stop-color="#2a7a5a"/><stop offset="0.35" stop-color="#3a9a2a"/><stop offset="0.7" stop-color="#5a7a1a"/><stop offset="1" stop-color="#8a1a0a"/></linearGradient>
<path d="M934.6,1020.1 L922.0,1026.8 L911.0,1034.1 L905.2,1027.1 L903.8,1018.7 L916.4,1013.1 L927.6,1015.9 Z" fill="#8a2410"/>
<path d="M924.0,1020.5 L912.0,1025.5 L905.0,1019.5 L915.0,1014.5 Z" fill="#6a5a18" opacity="0.5"/>
<path d="M917.8,1014.5 L905.2,1018.7 L898.2,1010.3 L888.4,1004.7 L896.8,994.9 L906.6,995.6 L912.2,1001.9 L917.8,1013.1 Z" fill="url(#cg592)"/>
<rect x="1004.2" y="823.6" width="211.2" height="210.2" fill="none" stroke="#000" stroke-width="1.6"/>
<rect x="1031.1" y="850.5" width="157.4" height="156.8" fill="none" stroke="#000" stroke-width="1.6"/>
<line x1="1004.2" y1="823.6" x2="1031.1" y2="850.5" stroke="#000" stroke-width="1.2800000000000002"/>
<line x1="1215.4" y1="823.6" x2="1188.5" y2="850.5" stroke="#000" stroke-width="1.2800000000000002"/>
<line x1="1004.2" y1="1033.8" x2="1031.1" y2="1007.3" stroke="#000" stroke-width="1.2800000000000002"/>
<line x1="1215.4" y1="1033.8" x2="1188.5" y2="1007.3" stroke="#000" stroke-width="1.2800000000000002"/>
<linearGradient id="hg602" gradientUnits="userSpaceOnUse" x1="1114.2" y1="900.4" x2="1051.0" y2="834.0" href="#horn"/>
<path d="M1116.7,898.0 Q1088.2,868.2 1055.7,829.5 L1046.3,838.5 Q1087.7,868.7 1111.7,902.8 Z" fill="url(#hg602)"/>
<linearGradient id="hg604" gradientUnits="userSpaceOnUse" x1="1114.2" y1="900.4" x2="1177.5" y2="834.0" href="#horn"/>
<path d="M1116.7,902.8 Q1140.7,868.7 1182.2,838.5 L1172.8,829.5 Q1140.3,868.2 1111.7,898.0 Z" fill="url(#hg604)"/>
<linearGradient id="hg606" gradientUnits="userSpaceOnUse" x1="1095.3" y1="922.5" x2="1006.7" y2="865.6" href="#hornY"/>
<path d="M1097.2,919.6 Q1054.0,899.2 1010.2,860.1 L1003.2,871.1 Q1053.6,899.7 1093.4,925.4 Z" fill="url(#hg606)"/>
<linearGradient id="hg608" gradientUnits="userSpaceOnUse" x1="1095.3" y1="922.5" x2="1009.9" y2="979.4" href="#horn"/>
<path d="M1093.4,919.6 Q1055.0,945.4 1006.3,974.0 L1013.5,984.8 Q1055.4,945.9 1097.2,925.4 Z" fill="url(#hg608)"/>
<linearGradient id="hg610" gradientUnits="userSpaceOnUse" x1="1133.2" y1="922.5" x2="1212.2" y2="868.8" href="#horn"/>
<path d="M1135.2,925.4 Q1170.6,901.1 1215.9,874.2 L1208.5,863.4 Q1170.3,900.6 1131.2,919.6 Z" fill="url(#hg610)"/>
<linearGradient id="hg612" gradientUnits="userSpaceOnUse" x1="1133.2" y1="922.5" x2="1212.2" y2="979.4" href="#horn"/>
<path d="M1131.2,925.3 Q1170.3,945.9 1208.4,984.7 L1216.0,974.1 Q1170.7,945.4 1135.2,919.7 Z" fill="url(#hg612)"/>
<linearGradient id="hg614" gradientUnits="userSpaceOnUse" x1="1114.2" y1="944.7" x2="1051.0" y2="1028.5" href="#horn"/>
<path d="M1111.4,942.6 Q1087.9,984.0 1045.8,1024.6 L1056.2,1032.4 Q1088.4,984.4 1117.0,946.8 Z" fill="url(#hg614)"/>
<linearGradient id="hg616" gradientUnits="userSpaceOnUse" x1="1114.2" y1="944.7" x2="1174.3" y2="1028.5" href="#hornY"/>
<path d="M1111.4,946.7 Q1138.6,984.3 1169.0,1032.3 L1179.6,1024.7 Q1139.1,984.0 1117.0,942.7 Z" fill="url(#hg616)"/>
<rect x="1108.2" y="895.4" width="12" height="10" rx="3" fill="#3aa0c0"/><rect x="1110.7" y="897.4" width="7" height="6" fill="#60e8f0"/>
<rect x="1089.3" y="917.5" width="12" height="10" rx="3" fill="#3aa0c0"/><rect x="1091.8" y="919.5" width="7" height="6" fill="#60e8f0"/>
<rect x="1127.2" y="917.5" width="12" height="10" rx="3" fill="#3aa0c0"/><rect x="1129.7" y="919.5" width="7" height="6" fill="#60e8f0"/>
<rect x="1108.2" y="939.7" width="12" height="10" rx="3" fill="#3aa0c0"/><rect x="1110.7" y="941.7" width="7" height="6" fill="#60e8f0"/>
<clipPath id="clipG"><rect x="97.4" y="1128.7" width="432.4" height="431.79999999999995"/></clipPath>
<clipPath id="clipGR"><rect x="305.2" y="1128.7" width="224.6" height="202.3"/></clipPath>
<clipPath id="clipGR2"><rect x="305.2" y="1331" width="224.6" height="229.5"/></clipPath>
<clipPath id="clipGL"><rect x="97.4" y="1128.7" width="207.8" height="431.79999999999995"/></clipPath>
<g clip-path="url(#clipG)" fill="none" stroke-linecap="round" stroke-linejoin="round">
<path d="M98.1,1166.7 C110.3,1166.5 153.6,1166.3 171.0,1165.8 C188.4,1165.2 192.5,1164.5 202.5,1163.5 C212.6,1162.5 214.2,1161.2 231.3,1159.9 C248.4,1158.6 286.7,1155.6 305.1,1155.9 C323.6,1156.1 332.1,1159.5 342.0,1161.3 C351.9,1163.1 352.0,1166.1 364.5,1166.7 C377.0,1167.3 402.9,1165.8 417.2,1164.9 C431.4,1164.0 440.0,1162.3 450.0,1161.3 C460.1,1160.2 464.2,1159.5 477.5,1158.6 C490.7,1157.7 521.0,1156.3 529.7,1155.9" stroke="#1f2fcf" stroke-width="2.0"/>
<path d="M98.1,1177.0 C110.3,1177.6 148.8,1178.4 171.0,1180.6 C193.2,1182.9 214.8,1188.4 231.3,1190.5 C247.8,1192.6 257.7,1192.7 270.0,1193.2 C282.3,1193.7 293.9,1195.2 305.1,1193.7 C316.4,1192.1 327.6,1186.4 337.5,1183.8 C347.4,1181.1 351.2,1179.2 364.5,1177.9 C377.8,1176.6 398.3,1175.5 417.2,1176.1 C436.0,1176.7 463.0,1179.5 477.5,1181.5 C491.9,1183.5 495.3,1186.2 504.0,1188.3 C512.7,1190.3 525.4,1192.8 529.7,1193.7" stroke="#1f2fcf" stroke-width="2.0"/>
<path d="M98.1,1198.6 C101.3,1198.9 110.9,1198.8 117.0,1200.4 C123.2,1202.1 129.0,1208.1 135.0,1208.5 C141.0,1209.0 147.0,1204.8 153.0,1203.1 C159.0,1201.5 162.8,1198.1 171.0,1198.6 C179.3,1199.1 192.5,1203.5 202.5,1206.3 C212.6,1209.0 220.1,1211.9 231.3,1215.3 C242.6,1218.6 257.7,1226.9 270.0,1226.5 C282.3,1226.1 296.1,1212.3 305.1,1213.0 C314.1,1213.8 316.4,1224.3 324.0,1231.0 C331.7,1237.8 344.3,1249.0 351.0,1253.5 C357.8,1258.0 357.8,1257.3 364.5,1258.0 C371.3,1258.8 382.7,1260.3 391.5,1258.0 C400.3,1255.8 407.4,1249.0 417.2,1244.5 C426.9,1240.0 440.0,1237.0 450.0,1231.0 C460.1,1225.0 468.5,1212.3 477.5,1208.5 C486.5,1204.8 495.3,1207.8 504.0,1208.5 C512.7,1209.3 525.4,1212.3 529.7,1213.0" stroke="#2aa0e0" stroke-width="2.0"/>
<path d="M98.1,1198.6 C110.3,1198.6 148.8,1195.8 171.0,1198.6 C193.2,1201.4 216.3,1212.0 231.3,1215.3 C246.3,1218.6 248.7,1218.4 261.0,1218.4 C273.3,1218.4 292.4,1218.0 305.1,1215.3 C317.9,1212.5 327.6,1204.8 337.5,1201.8 C347.4,1198.8 351.2,1196.5 364.5,1197.3 C377.8,1198.0 402.9,1203.3 417.2,1206.3 C431.4,1209.3 440.0,1212.6 450.0,1215.3 C460.1,1217.9 468.5,1221.6 477.5,1222.0 C486.5,1222.4 495.3,1218.6 504.0,1217.5 C512.7,1216.4 525.4,1215.6 529.7,1215.3" stroke="#2aa0e0" stroke-width="2.0"/>
<path d="M231.3,1215.3 C237.8,1215.6 257.7,1218.3 270.0,1217.5 C282.3,1216.8 293.1,1212.3 305.1,1210.8 C317.1,1209.3 332.1,1210.4 342.0,1208.5 C351.9,1206.6 352.0,1199.5 364.5,1199.5 C377.0,1199.5 398.3,1203.6 417.2,1208.5 C436.0,1213.4 458.7,1227.6 477.5,1228.8 C496.2,1229.9 521.0,1217.5 529.7,1215.3" stroke="#2a5ad8" stroke-width="2.0"/>
<path d="M98.1,1260.3 C101.3,1259.9 111.0,1259.5 117.0,1258.0 C123.0,1256.5 128.9,1250.9 134.1,1251.3 C139.4,1251.6 142.4,1258.8 148.5,1260.3 C154.7,1261.8 163.5,1261.4 171.0,1260.3 C178.5,1259.1 186.8,1256.9 193.5,1253.5 C200.3,1250.1 205.2,1246.4 211.5,1240.0 C217.8,1233.6 228.0,1219.4 231.3,1215.3" stroke="#2aa0e0" stroke-width="2.0"/>
<path d="M98.1,1266.1 C104.3,1266.3 122.9,1266.7 135.0,1267.0 C147.2,1267.3 159.8,1268.3 171.0,1267.9 C182.3,1267.5 192.5,1266.4 202.5,1264.8 C212.6,1263.1 214.2,1259.1 231.3,1258.0 C248.4,1256.9 286.7,1257.8 305.1,1258.0 C323.6,1258.2 332.1,1258.8 342.0,1259.4 C351.9,1260.0 352.0,1260.3 364.5,1261.6 C377.0,1262.9 398.3,1266.3 417.2,1267.0 C436.0,1267.8 458.7,1267.6 477.5,1266.1 C496.2,1264.6 521.0,1259.4 529.7,1258.0" stroke="#1f2fcf" stroke-width="2.0"/>
<path d="M98.1,1263.9 C110.3,1263.8 148.8,1264.0 171.0,1263.4 C193.2,1262.8 209.0,1260.7 231.3,1260.3 C253.7,1259.8 282.9,1260.0 305.1,1260.7 C327.3,1261.4 345.8,1263.6 364.5,1264.3 C383.2,1265.0 398.3,1264.7 417.2,1264.8 C436.0,1264.8 458.7,1265.9 477.5,1264.8 C496.2,1263.6 521.0,1259.1 529.7,1258.0" stroke="#40e0f0" stroke-width="2.0"/>
<path d="M417.2,1249.0 C421.1,1246.8 431.0,1241.1 441.0,1235.5 C451.1,1229.9 462.7,1218.6 477.5,1215.3 C492.2,1211.9 521.0,1215.3 529.7,1215.3" stroke="#2a5ad8" stroke-width="2.0"/>
<path d="M98.1,1329.1 C110.3,1328.7 148.8,1326.1 171.0,1326.9 C193.2,1327.6 214.8,1333.2 231.3,1333.6 C247.8,1334.0 257.7,1329.1 270.0,1329.1 C282.3,1329.1 289.4,1333.6 305.1,1333.6 C320.9,1333.6 345.8,1329.9 364.5,1329.1 C383.2,1328.4 398.3,1329.1 417.2,1329.1 C436.0,1329.1 458.7,1328.4 477.5,1329.1 C496.2,1329.9 521.0,1332.9 529.7,1333.6" stroke="#1f2fcf" stroke-width="2.0"/>
<path d="M407.7,1330.9 C408.1,1329.4 408.2,1324.1 410.0,1321.9 C411.8,1319.7 407.3,1318.5 418.5,1317.9 C429.8,1317.2 466.7,1317.0 477.5,1317.9 C488.2,1318.8 481.7,1321.1 482.9,1323.3 C484.1,1325.4 484.4,1329.6 484.7,1330.9" stroke="#40e0f0" stroke-width="2.0"/>
</g>
<g clip-path="url(#clipGR)" fill="none" stroke-linecap="round" stroke-linejoin="round">
<path d="M98.1,1341.3 C110.3,1341.3 148.8,1340.1 171.0,1341.3 C193.2,1342.4 209.0,1345.8 231.3,1348.0 C253.7,1350.3 282.9,1355.9 305.1,1354.8 C327.3,1353.6 345.8,1342.4 364.5,1341.3 C383.2,1340.1 398.3,1344.8 417.2,1348.0 C436.0,1351.2 458.7,1359.6 477.5,1360.6 C496.2,1361.6 521.0,1355.0 529.7,1353.9" stroke="#1f2fcf" stroke-width="2.0"/>
<path d="M98.1,1386.3 C104.3,1385.9 122.9,1382.9 135.0,1384.0 C147.2,1385.1 159.8,1394.5 171.0,1393.0 C182.3,1391.5 192.5,1380.1 202.5,1375.0 C212.6,1369.9 214.2,1364.1 231.3,1362.4 C248.4,1360.7 282.9,1360.3 305.1,1364.7 C327.3,1369.0 350.1,1385.3 364.5,1388.5 C378.9,1391.7 382.7,1385.4 391.5,1384.0 C400.3,1382.7 402.8,1383.6 417.2,1380.4 C431.5,1377.2 458.7,1367.3 477.5,1364.7 C496.2,1362.0 521.0,1364.7 529.7,1364.7" stroke="#1f2fcf" stroke-width="2.0"/>
<path d="M98.1,1388.5 C110.3,1387.4 153.6,1379.5 171.0,1381.8 C188.4,1384.0 192.5,1397.1 202.5,1402.0 C212.6,1406.9 220.1,1413.4 231.3,1411.0 C242.6,1408.6 257.7,1391.6 270.0,1387.6 C282.3,1383.6 289.4,1387.2 305.1,1387.2 C320.9,1387.2 345.8,1388.3 364.5,1387.6 C383.2,1386.9 398.3,1383.7 417.2,1383.1 C436.0,1382.5 458.7,1383.5 477.5,1384.0 C496.2,1384.5 521.0,1385.9 529.7,1386.3" stroke="#1f2fcf" stroke-width="2.0"/>
<path d="M171.0,1390.8 C176.3,1395.6 192.5,1410.3 202.5,1420.0 C212.6,1429.8 220.1,1439.1 231.3,1449.3 C242.6,1459.4 257.7,1471.8 270.0,1480.8 C282.3,1489.8 296.1,1501.4 305.1,1503.3 C314.1,1505.1 314.1,1496.1 324.0,1492.0 C333.9,1487.9 357.8,1480.8 364.5,1478.5" stroke="#2a5ad8" stroke-width="2.0"/>
<path d="M98.1,1393.0 C101.3,1392.1 111.0,1391.9 117.0,1387.6 C123.0,1383.3 129.6,1369.5 134.1,1367.4 C138.6,1365.3 141.2,1370.4 144.0,1375.0 C146.8,1379.7 148.5,1388.5 150.8,1395.3 C153.0,1402.0 154.1,1411.4 157.5,1415.5 C160.9,1419.6 168.8,1419.3 171.0,1420.0" stroke="#30d040" stroke-width="2.2"/>
<path d="M231.3,1420.0 C233.3,1419.3 239.6,1421.5 243.0,1415.5 C246.5,1409.5 248.3,1393.0 252.0,1384.0 C255.8,1375.0 261.4,1363.0 265.5,1361.5 C269.6,1360.0 273.0,1368.3 276.8,1375.0 C280.5,1381.8 283.3,1395.6 288.0,1402.0 C292.7,1408.4 302.3,1411.4 305.1,1413.3" stroke="#30d040" stroke-width="2.2"/>
<path d="M157.5,1415.5 C159.8,1416.3 168.8,1419.3 171.0,1420.0" stroke="#e0d030" stroke-width="2.2"/>
<path d="M171.0,1420.9 C181.1,1420.8 218.9,1420.5 231.3,1420.0 C243.7,1419.5 242.9,1418.1 245.3,1417.8" stroke="#f03020" stroke-width="2.4"/>
<path d="M305.1,1413.3 C315.0,1413.3 352.7,1412.5 364.5,1413.3 C376.3,1414.0 372.8,1418.1 375.8,1417.8 C378.8,1417.4 379.9,1415.1 382.5,1411.0 C385.1,1406.9 390.0,1396.0 391.5,1393.0" stroke="#f03020" stroke-width="2.4"/>
<path d="M98.1,1413.3 C99.8,1413.6 104.9,1415.9 108.0,1415.5 C111.2,1415.1 115.5,1411.8 117.0,1411.0" stroke="#f03020" stroke-width="2.4"/>
<path d="M517.5,1413.3 C519.5,1413.3 527.6,1413.3 529.7,1413.3" stroke="#f03020" stroke-width="2.4"/>
<path d="M98.1,1429.0 C104.3,1427.5 122.9,1421.9 135.0,1420.0 C147.2,1418.1 155.0,1417.2 171.0,1417.8 C187.1,1418.4 214.8,1422.6 231.3,1423.6 C247.8,1424.6 257.7,1423.5 270.0,1423.6 C282.3,1423.8 289.4,1423.2 305.1,1424.5 C320.9,1425.8 345.8,1432.0 364.5,1431.3 C383.2,1430.5 398.3,1420.0 417.2,1420.0 C436.0,1420.0 458.7,1430.5 477.5,1431.3 C496.2,1432.0 521.0,1425.6 529.7,1424.5" stroke="#40e0f0" stroke-width="2.0"/>
<path d="M98.1,1429.0 C104.3,1428.3 122.9,1426.0 135.0,1424.5 C147.2,1423.0 155.0,1420.0 171.0,1420.0 C187.1,1420.0 209.0,1422.3 231.3,1424.5 C253.7,1426.8 282.9,1429.0 305.1,1433.5 C327.3,1438.0 345.8,1449.3 364.5,1451.5 C383.2,1453.8 398.3,1447.0 417.2,1447.0 C436.0,1447.0 458.7,1453.8 477.5,1451.5 C496.2,1449.3 521.0,1436.5 529.7,1433.5" stroke="#2a5ad8" stroke-width="2.0"/>
<path d="M364.5,1451.5 C371.3,1448.9 390.8,1440.3 405.0,1435.8 C419.3,1431.3 437.9,1426.5 450.0,1424.5 C462.1,1422.5 464.2,1423.6 477.5,1423.6 C490.7,1423.6 521.0,1424.4 529.7,1424.5" stroke="#2a5ad8" stroke-width="2.0"/>
<path d="M98.1,1464.1 C110.3,1462.8 148.8,1457.7 171.0,1456.0 C193.2,1454.3 209.0,1455.3 231.3,1453.8 C253.7,1452.3 282.9,1445.5 305.1,1447.0 C327.3,1448.5 345.8,1460.1 364.5,1462.8 C383.2,1465.4 398.3,1464.6 417.2,1462.8 C436.0,1460.9 458.7,1454.1 477.5,1451.5 C496.2,1448.9 521.0,1447.8 529.7,1447.0" stroke="#1f2fcf" stroke-width="2.0"/>
<path d="M98.1,1480.8 C110.3,1483.0 148.8,1494.1 171.0,1494.3 C193.2,1494.4 209.0,1483.8 231.3,1481.7 C253.7,1479.6 282.9,1481.8 305.1,1481.7 C327.3,1481.5 345.8,1480.9 364.5,1480.8 C383.2,1480.6 398.3,1480.8 417.2,1480.8 C436.0,1480.8 458.7,1480.6 477.5,1480.8 C496.2,1480.9 521.0,1481.5 529.7,1481.7" stroke="#1f2fcf" stroke-width="2.0"/>
<path d="M98.1,1479.4 C110.3,1481.9 148.8,1493.7 171.0,1494.3 C193.2,1494.9 214.8,1481.9 231.3,1483.0 C247.8,1484.1 257.7,1497.3 270.0,1501.0 C282.3,1504.8 293.9,1507.0 305.1,1505.5 C316.4,1504.0 327.6,1496.5 337.5,1492.0 C347.4,1487.5 351.2,1478.1 364.5,1478.5 C377.8,1478.9 398.3,1490.1 417.2,1494.3 C436.0,1498.4 458.7,1501.4 477.5,1503.3 C496.2,1505.1 521.0,1505.1 529.7,1505.5" stroke="#2aa0e0" stroke-width="2.0"/>
<path d="M98.1,1519.0 C110.3,1516.8 148.8,1508.1 171.0,1505.5 C193.2,1502.9 209.0,1501.8 231.3,1503.3 C253.7,1504.8 282.9,1512.6 305.1,1514.5 C327.3,1516.4 345.8,1514.3 364.5,1514.5 C383.2,1514.7 398.3,1515.9 417.2,1515.9 C436.0,1515.9 458.7,1514.7 477.5,1514.5 C496.2,1514.3 521.0,1514.5 529.7,1514.5" stroke="#1f2fcf" stroke-width="2.0"/>
<path d="M98.1,1528.0 C110.3,1527.6 148.8,1526.9 171.0,1525.8 C193.2,1524.6 214.8,1521.6 231.3,1521.3 C247.8,1520.9 260.6,1520.1 270.0,1523.5 C279.5,1526.9 282.2,1535.5 288.0,1541.5 C293.9,1547.5 302.3,1556.5 305.1,1559.5" stroke="#1f2fcf" stroke-width="2.0"/>
<path d="M305.1,1559.5 C308.3,1555.0 314.1,1538.9 324.0,1532.5 C333.9,1526.1 349.0,1522.0 364.5,1521.3 C380.0,1520.5 398.3,1528.0 417.2,1528.0 C436.0,1528.0 463.0,1519.8 477.5,1521.3 C491.9,1522.8 495.3,1530.6 504.0,1537.0 C512.7,1543.4 525.4,1555.8 529.7,1559.5" stroke="#1f2fcf" stroke-width="2.0"/>
<path d="M98.1,1530.3 C110.3,1530.6 148.8,1531.8 171.0,1532.5 C193.2,1533.3 214.8,1534.0 231.3,1534.8 C247.8,1535.5 260.6,1535.1 270.0,1537.0 C279.5,1538.9 282.2,1542.3 288.0,1546.0 C293.9,1549.8 302.3,1557.3 305.1,1559.5" stroke="#40e0f0" stroke-width="2.0"/>
<path d="M305.1,1559.5 C310.5,1554.6 327.6,1535.5 337.5,1530.3 C347.4,1525.0 351.2,1527.6 364.5,1528.0 C377.8,1528.4 398.3,1531.0 417.2,1532.5 C436.0,1534.0 461.5,1535.1 477.5,1537.0 C493.4,1538.9 504.3,1540.0 513.0,1543.8 C521.7,1547.5 526.9,1556.9 529.7,1559.5" stroke="#40e0f0" stroke-width="2.0"/>
<path d="M98.1,1521.3 C110.3,1522.4 148.8,1526.3 171.0,1528.0 C193.2,1529.7 214.8,1530.5 231.3,1531.6 C247.8,1532.7 263.6,1534.2 270.0,1534.8" stroke="#2aa0e0" stroke-width="2.0"/>
</g>
<g clip-path="url(#clipGL)" fill="none" stroke-linecap="round" stroke-linejoin="round">
<path d="M96.0,1341.4 C102.0,1341.8 119.3,1343.7 131.7,1343.6 C144.1,1343.5 159.6,1340.4 170.3,1340.7 C181.0,1341.1 185.8,1343.6 196.0,1345.7 C206.2,1347.9 219.8,1351.7 231.7,1353.6 C243.6,1355.5 255.2,1357.0 267.4,1357.1 C279.7,1357.3 298.9,1354.8 305.1,1354.3" stroke="#1f2fcf" stroke-width="2.0"/>
<path d="M96.0,1387.9 C100.3,1388.7 113.4,1392.4 121.7,1392.9 C130.0,1393.3 137.9,1390.7 146.0,1390.7 C154.1,1390.7 164.3,1393.2 170.3,1392.9 C176.2,1392.5 177.4,1391.2 181.7,1388.6 C186.0,1386.0 190.8,1380.7 196.0,1377.1 C201.2,1373.6 207.2,1369.6 213.1,1367.1 C219.1,1364.6 222.7,1363.1 231.7,1362.1 C240.8,1361.2 255.2,1361.1 267.4,1361.4 C279.7,1361.8 298.9,1363.8 305.1,1364.3" stroke="#1f2fcf" stroke-width="2.0"/>
<path d="M96.0,1386.4 C100.8,1385.6 115.0,1382.0 124.6,1381.4 C134.1,1380.8 145.5,1382.7 153.1,1382.9 C160.8,1383.0 165.5,1381.7 170.3,1382.1 C175.0,1382.6 177.4,1383.0 181.7,1385.7 C186.0,1388.5 191.2,1393.1 196.0,1398.6 C200.8,1404.0 205.5,1411.4 210.3,1418.6 C215.0,1425.7 221.0,1436.4 224.6,1441.4 C228.1,1446.4 228.1,1445.2 231.7,1448.6 C235.3,1451.9 240.0,1456.2 246.0,1461.4 C252.0,1466.7 260.3,1474.0 267.4,1480.0 C274.6,1486.0 282.6,1492.6 288.9,1497.1 C295.1,1501.7 302.4,1505.5 305.1,1507.1" stroke="#1f2fcf" stroke-width="2.0"/>
<path d="M96.0,1390.0 C99.6,1390.2 110.3,1391.5 117.4,1391.4 C124.6,1391.3 131.7,1389.3 138.9,1389.3 C146.0,1389.3 155.0,1391.1 160.3,1391.4 C165.5,1391.8 168.6,1391.4 170.3,1391.4" stroke="#2a5ad8" stroke-width="2.0"/>
<path d="M156.0,1415.7 C158.4,1415.7 157.7,1415.5 170.3,1415.7 C182.9,1415.9 220.3,1417.1 231.7,1416.9 C243.1,1416.6 235.3,1416.9 238.9,1414.3 C242.4,1411.7 248.4,1405.2 253.1,1401.4 C257.9,1397.6 263.1,1393.7 267.4,1391.4 C271.7,1389.2 277.0,1388.5 278.9,1387.9" stroke="#40e0f0" stroke-width="2.0"/>
<path d="M156.0,1415.7 C158.4,1415.7 157.7,1415.5 170.3,1415.7 C182.9,1415.9 220.5,1416.9 231.7,1416.9 C242.9,1416.9 236.5,1415.9 237.4,1415.7" stroke="#30d040" stroke-width="2.2"/>
<path d="M278.9,1387.9 C283.2,1387.7 300.8,1387.3 305.1,1387.1" stroke="#2a5ad8" stroke-width="2.0"/>
<path d="M124.6,1391.4 C127.0,1392.4 134.1,1394.0 138.9,1397.1 C143.6,1400.2 149.1,1406.9 153.1,1410.0 C157.2,1413.1 161.5,1414.8 163.1,1415.7" stroke="#40e0f0" stroke-width="2.0"/>
<path d="M96.0,1428.6 C98.4,1428.7 104.3,1429.8 110.3,1429.3 C116.2,1428.8 123.4,1427.3 131.7,1425.7 C140.0,1424.2 153.9,1421.2 160.3,1420.0 C166.7,1418.8 168.6,1418.8 170.3,1418.6" stroke="#40e0f0" stroke-width="2.0"/>
<path d="M96.0,1428.6 C100.8,1427.6 115.0,1425.0 124.6,1422.9 C134.1,1420.7 145.5,1417.1 153.1,1415.7 C160.8,1414.3 165.5,1414.3 170.3,1414.3 C175.0,1414.3 176.2,1413.1 181.7,1415.7 C187.2,1418.3 196.0,1424.8 203.1,1430.0 C210.3,1435.2 219.8,1443.8 224.6,1447.1 C229.3,1450.5 230.5,1449.5 231.7,1450.0" stroke="#2a5ad8" stroke-width="2.0"/>
<path d="M231.7,1448.6 C235.3,1446.2 247.2,1437.9 253.1,1434.3 C259.1,1430.7 262.7,1428.8 267.4,1427.1 C272.2,1425.5 275.4,1424.6 281.7,1424.3 C288.0,1423.9 301.2,1424.9 305.1,1425.0" stroke="#2aa0e0" stroke-width="2.0"/>
<path d="M231.7,1451.4 C235.3,1451.0 246.0,1450.2 253.1,1448.6 C260.3,1446.9 265.9,1444.0 274.6,1441.4 C283.2,1438.8 300.0,1434.3 305.1,1432.9" stroke="#1f2fcf" stroke-width="2.0"/>
<path d="M96.0,1464.3 C102.0,1463.3 119.3,1460.0 131.7,1458.6 C144.1,1457.1 157.2,1456.4 170.3,1455.7 C183.4,1455.0 200.0,1454.8 210.3,1454.3 C220.5,1453.8 228.1,1453.1 231.7,1452.9" stroke="#1f2fcf" stroke-width="2.0"/>
<path d="M96.0,1464.3 C102.0,1463.7 119.3,1461.4 131.7,1460.7 C144.1,1460.0 157.2,1460.6 170.3,1460.0 C183.4,1459.4 200.0,1458.1 210.3,1457.1 C220.5,1456.2 228.1,1454.8 231.7,1454.3" stroke="#1f2fcf" stroke-width="2.0"/>
<path d="M96.0,1479.3 C102.0,1480.6 119.3,1484.4 131.7,1487.1 C144.1,1489.9 159.6,1494.8 170.3,1495.7 C181.0,1496.7 185.8,1495.1 196.0,1492.9 C206.2,1490.6 222.2,1483.9 231.7,1482.1 C241.2,1480.4 240.9,1482.3 253.1,1482.1 C265.4,1482.0 296.5,1481.5 305.1,1481.4" stroke="#1f2fcf" stroke-width="2.0"/>
<path d="M96.0,1480.0 C102.0,1481.4 119.3,1486.0 131.7,1488.6 C144.1,1491.2 163.9,1494.5 170.3,1495.7" stroke="#2aa0e0" stroke-width="2.0"/>
<path d="M231.7,1482.1 C235.3,1483.0 246.0,1484.6 253.1,1487.1 C260.3,1489.6 265.9,1493.8 274.6,1497.1 C283.2,1500.5 300.0,1505.5 305.1,1507.1" stroke="#1f2fcf" stroke-width="2.0"/>
<path d="M231.7,1451.4 C234.1,1453.8 241.2,1460.7 246.0,1465.7 C250.8,1470.7 254.3,1476.0 260.3,1481.4 C266.2,1486.9 274.2,1494.3 281.7,1498.6 C289.2,1502.9 301.2,1505.7 305.1,1507.1" stroke="#2aa0e0" stroke-width="2.0"/>
<path d="M96.0,1518.6 C102.0,1517.1 119.3,1512.0 131.7,1510.0 C144.1,1508.0 153.6,1507.5 170.3,1506.4 C187.0,1505.4 215.5,1503.5 231.7,1503.6 C247.9,1503.7 255.2,1505.1 267.4,1507.1 C279.7,1509.2 298.9,1514.3 305.1,1515.7" stroke="#1f2fcf" stroke-width="2.0"/>
<path d="M167.4,1506.4 C178.1,1506.0 216.2,1503.6 231.7,1503.6 C247.2,1503.5 255.5,1505.6 260.3,1506.0" stroke="#40e0f0" stroke-width="2.0"/>
<path d="M96.0,1518.6 C102.0,1519.3 119.3,1521.7 131.7,1522.9 C144.1,1524.0 153.6,1526.0 170.3,1525.7 C187.0,1525.5 216.7,1522.1 231.7,1521.4 C246.7,1520.7 252.0,1518.8 260.3,1521.4 C268.6,1524.0 274.2,1531.0 281.7,1537.1 C289.2,1543.3 301.2,1555.0 305.1,1558.6" stroke="#1f2fcf" stroke-width="2.0"/>
<path d="M96.0,1522.9 C103.1,1523.3 126.5,1524.9 138.9,1525.7 C151.2,1526.5 158.4,1526.9 170.3,1527.9 C182.2,1528.8 198.9,1530.4 210.3,1531.4 C221.7,1532.5 229.3,1533.6 238.9,1534.3 C248.4,1535.0 260.3,1534.8 267.4,1535.7 C274.6,1536.7 275.4,1536.2 281.7,1540.0 C288.0,1543.8 301.2,1555.5 305.1,1558.6" stroke="#40e0f0" stroke-width="2.0"/>
<path d="M96.0,1529.3 C108.4,1529.2 147.7,1528.8 170.3,1528.6 C192.9,1528.3 217.9,1528.6 231.7,1527.9 C245.5,1527.1 246.0,1526.3 253.1,1524.3 C260.3,1522.3 265.9,1517.1 274.6,1515.7 C283.2,1514.3 300.0,1515.7 305.1,1515.7" stroke="#1f2fcf" stroke-width="2.0"/>
<path d="M96.0,1415.7 C97.9,1415.7 105.5,1415.7 107.4,1415.7" stroke="#f03020" stroke-width="2.4"/>
<path d="M107.4,1415.7 C108.4,1414.8 111.5,1412.9 113.1,1410.0 C114.8,1407.1 116.7,1400.5 117.4,1398.6" stroke="#e0d030" stroke-width="2.2"/>
<path d="M117.4,1398.6 C118.6,1395.5 121.7,1385.4 124.6,1380.0 C127.4,1374.6 131.5,1366.9 134.6,1366.4 C137.7,1366.0 140.0,1371.3 143.1,1377.1 C146.2,1383.0 151.5,1397.4 153.1,1401.4" stroke="#30d040" stroke-width="2.2"/>
<path d="M153.1,1401.4 C154.1,1403.8 157.2,1412.4 158.9,1415.7 C160.5,1419.0 162.4,1420.5 163.1,1421.4" stroke="#e0d030" stroke-width="2.2"/>
<path d="M163.1,1422.1 C168.6,1422.0 184.6,1421.7 196.0,1421.4 C207.4,1421.2 224.6,1420.7 231.7,1420.7 C238.9,1420.7 237.7,1421.3 238.9,1421.4" stroke="#f03020" stroke-width="2.4"/>
<path d="M238.9,1421.4 C240.3,1419.5 246.0,1411.9 247.4,1410.0" stroke="#f09030" stroke-width="2.2"/>
<path d="M247.4,1410.0 C248.4,1406.9 251.0,1397.6 253.1,1391.4 C255.3,1385.2 257.9,1378.0 260.3,1372.9 C262.7,1367.7 264.8,1360.7 267.4,1360.7 C270.0,1360.7 273.6,1368.0 276.0,1372.9 C278.4,1377.7 280.8,1387.1 281.7,1390.0" stroke="#30d040" stroke-width="2.2"/>
<path d="M281.7,1390.0 C282.9,1393.3 287.0,1406.1 288.9,1410.0 C290.8,1413.9 292.4,1413.0 293.1,1413.6" stroke="#e0d030" stroke-width="2.2"/>
<path d="M293.1,1413.6 C293.6,1413.7 294.0,1414.4 296.0,1414.3 C298.0,1414.2 303.6,1413.1 305.1,1412.9" stroke="#f03020" stroke-width="2.4"/>
</g>
<g clip-path="url(#clipGR2)" fill="none" stroke-linecap="round" stroke-linejoin="round">
<path d="M300.0,1334.3 C300.9,1334.3 300.4,1334.8 305.1,1334.3 C309.9,1333.8 319.9,1332.1 328.6,1331.4 C337.2,1330.7 352.4,1330.2 357.1,1330.0" stroke="#1f2fcf" stroke-width="2.0"/>
<path d="M300.0,1354.3 C304.8,1353.3 317.7,1350.7 328.6,1348.6 C339.4,1346.4 355.5,1342.3 365.0,1341.4 C374.5,1340.6 377.0,1342.5 385.7,1343.6 C394.4,1344.6 407.8,1346.1 417.3,1347.9 C426.8,1349.6 432.8,1352.1 442.9,1354.3 C452.9,1356.4 468.0,1360.0 477.6,1360.7 C487.1,1361.4 491.3,1359.6 500.0,1358.6 C508.7,1357.5 524.9,1355.0 529.9,1354.3" stroke="#1f2fcf" stroke-width="2.0"/>
<path d="M300.0,1365.0 C300.9,1365.0 300.4,1363.7 305.1,1365.0 C309.9,1366.3 321.1,1369.9 328.6,1372.9 C336.0,1375.8 343.9,1380.4 350.0,1382.9 C356.1,1385.4 359.0,1385.8 365.0,1387.9 C371.0,1389.9 377.0,1393.9 385.7,1395.0 C394.4,1396.1 409.0,1391.8 417.3,1394.3 C425.6,1396.8 430.3,1404.5 435.7,1410.0 C441.2,1415.5 445.2,1421.9 450.0,1427.1 C454.8,1432.4 459.7,1438.1 464.3,1441.4 C468.9,1444.8 472.8,1447.1 477.6,1447.1 C482.3,1447.1 484.1,1443.6 492.9,1441.4 C501.6,1439.3 523.7,1435.5 529.9,1434.3" stroke="#1f2fcf" stroke-width="2.0"/>
<path d="M300.0,1387.1 C307.1,1387.1 332.0,1386.7 342.9,1386.9 C353.7,1387.0 357.9,1388.3 365.0,1387.9 C372.1,1387.4 377.0,1385.1 385.7,1384.0 C394.4,1382.9 407.8,1383.0 417.3,1381.4 C426.8,1379.8 432.8,1377.0 442.9,1374.3 C452.9,1371.5 463.1,1366.5 477.6,1365.0 C492.1,1363.5 521.1,1365.0 529.9,1365.0" stroke="#1f2fcf" stroke-width="2.0"/>
<path d="M300.0,1387.1 C310.8,1387.3 345.5,1388.3 365.0,1387.9 C384.5,1387.4 398.5,1384.9 417.3,1384.3 C436.0,1383.6 458.8,1383.5 477.6,1384.0 C496.3,1384.5 521.1,1386.6 529.9,1387.1" stroke="#2a5ad8" stroke-width="2.0"/>
<path d="M300.0,1424.3 C302.4,1424.3 308.3,1423.8 314.3,1424.3 C320.2,1424.8 327.3,1426.4 335.7,1427.1 C344.2,1427.9 356.7,1428.1 365.0,1428.6 C373.3,1429.0 377.0,1429.8 385.7,1430.0 C394.4,1430.2 407.8,1430.7 417.3,1430.0 C426.8,1429.3 432.8,1426.8 442.9,1425.7 C452.9,1424.6 468.0,1423.9 477.6,1423.6 C487.1,1423.2 491.3,1423.3 500.0,1423.6 C508.7,1423.8 524.9,1424.8 529.9,1425.0" stroke="#1f2fcf" stroke-width="2.0"/>
<path d="M365.0,1428.6 C368.5,1427.9 377.0,1425.5 385.7,1424.3 C394.4,1423.1 409.0,1420.7 417.3,1421.4 C425.6,1422.1 429.1,1425.2 435.7,1428.6 C442.4,1431.9 450.2,1437.5 457.1,1441.4 C464.1,1445.4 471.6,1447.9 477.6,1452.1 C483.5,1456.4 487.9,1461.8 492.9,1467.1 C497.8,1472.5 502.4,1478.6 507.1,1484.3 C511.9,1490.0 517.6,1497.6 521.4,1501.4 C525.2,1505.2 528.5,1506.2 529.9,1507.1" stroke="#40e0f0" stroke-width="2.0"/>
<path d="M300.0,1434.3 C302.4,1433.6 309.5,1432.6 314.3,1430.0 C319.0,1427.4 323.8,1423.3 328.6,1418.6 C333.3,1413.8 336.8,1406.4 342.9,1401.4 C348.9,1396.4 361.3,1390.7 365.0,1388.6" stroke="#1f2fcf" stroke-width="2.0"/>
<path d="M477.6,1447.1 C480.1,1445.0 487.9,1437.6 492.9,1434.3 C497.8,1431.0 501.0,1428.8 507.1,1427.1 C513.3,1425.5 526.1,1424.8 529.9,1424.3" stroke="#2aa0e0" stroke-width="2.0"/>
<path d="M305.1,1505.7 C307.9,1503.8 315.1,1499.8 321.4,1494.3 C327.7,1488.8 335.6,1478.0 342.9,1472.9 C350.1,1467.7 352.6,1465.2 365.0,1463.6 C377.4,1461.9 406.7,1462.3 417.3,1462.9 C427.9,1463.5 424.3,1464.3 428.6,1467.1 C432.8,1470.0 438.1,1476.0 442.9,1480.0 C447.6,1484.0 451.4,1487.5 457.1,1491.4 C462.9,1495.4 470.4,1501.9 477.6,1503.6 C484.7,1505.2 491.3,1501.9 500.0,1501.4 C508.7,1501.0 524.9,1500.8 529.9,1500.7" stroke="#1f2fcf" stroke-width="2.0"/>
<path d="M305.1,1500.7 C309.0,1498.5 318.6,1490.6 328.6,1487.1 C338.5,1483.7 350.2,1481.2 365.0,1480.0 C379.8,1478.8 398.5,1479.8 417.3,1480.0 C436.0,1480.2 458.8,1481.2 477.6,1481.4 C496.3,1481.7 521.1,1481.4 529.9,1481.4" stroke="#1f2fcf" stroke-width="2.0"/>
<path d="M321.4,1490.0 C325.0,1488.6 335.6,1483.1 342.9,1481.4 C350.1,1479.8 361.3,1480.2 365.0,1480.0" stroke="#40e0f0" stroke-width="2.0"/>
<path d="M365.0,1480.0 C368.5,1481.0 377.0,1483.1 385.7,1485.7 C394.4,1488.3 407.8,1494.8 417.3,1495.7 C426.8,1496.7 432.8,1493.6 442.9,1491.4 C452.9,1489.3 471.8,1484.3 477.6,1482.9" stroke="#2aa0e0" stroke-width="2.0"/>
<path d="M365.0,1462.9 C373.7,1462.1 398.5,1460.4 417.3,1458.6 C436.0,1456.8 467.5,1453.2 477.6,1452.1" stroke="#1f2fcf" stroke-width="2.0"/>
<path d="M477.6,1503.6 C481.3,1503.6 491.3,1503.0 500.0,1503.6 C508.7,1504.2 524.9,1506.5 529.9,1507.1" stroke="#2aa0e0" stroke-width="2.0"/>
<path d="M300.0,1515.7 C310.8,1516.2 345.5,1518.6 365.0,1518.6 C384.5,1518.6 398.5,1516.3 417.3,1515.7 C436.0,1515.1 458.8,1515.0 477.6,1515.0 C496.3,1515.0 521.1,1515.6 529.9,1515.7" stroke="#1f2fcf" stroke-width="2.0"/>
<path d="M305.1,1560.0 C307.9,1556.2 315.1,1542.9 321.4,1537.1 C327.7,1531.4 335.6,1528.0 342.9,1525.7 C350.1,1523.5 352.6,1523.2 365.0,1523.6 C377.4,1523.9 404.3,1527.5 417.3,1527.9 C430.3,1528.2 432.8,1526.7 442.9,1525.7 C452.9,1524.8 469.2,1521.4 477.6,1522.1 C485.9,1522.9 486.7,1525.8 492.9,1530.0 C499.0,1534.2 508.1,1542.1 514.3,1547.1 C520.5,1552.1 527.3,1557.9 529.9,1560.0" stroke="#1f2fcf" stroke-width="2.0"/>
<path d="M305.1,1560.0 C307.9,1556.7 315.1,1544.8 321.4,1540.0 C327.7,1535.2 335.6,1533.2 342.9,1531.4 C350.1,1529.6 352.6,1529.3 365.0,1529.3 C377.4,1529.3 404.3,1530.4 417.3,1531.4 C430.3,1532.5 432.8,1534.5 442.9,1535.7 C452.9,1536.9 466.9,1537.4 477.6,1538.6 C488.3,1539.8 499.8,1540.5 507.1,1542.9 C514.5,1545.2 517.6,1550.0 521.4,1552.9 C525.2,1555.7 528.5,1558.8 529.9,1560.0" stroke="#40e0f0" stroke-width="2.0"/>
<path d="M365.0,1529.3 C373.7,1529.0 398.5,1527.9 417.3,1527.9 C436.0,1527.9 463.8,1528.2 477.6,1529.3 C491.4,1530.4 491.3,1529.2 500.0,1534.3 C508.7,1539.4 524.9,1555.7 529.9,1560.0" stroke="#2a5ad8" stroke-width="2.0"/>
<path d="M300.0,1412.9 C310.8,1413.0 353.1,1413.1 365.0,1413.6 C376.9,1414.0 369.8,1415.1 371.4,1415.7 C373.1,1416.4 374.4,1417.1 375.0,1417.4" stroke="#f03020" stroke-width="2.4"/>
<path d="M375.0,1417.4 C375.8,1417.1 378.5,1417.0 380.0,1415.7 C381.5,1414.5 383.6,1411.0 384.3,1410.0" stroke="#e0d030" stroke-width="2.2"/>
<path d="M384.3,1410.0 C385.5,1407.4 389.5,1399.0 391.4,1394.3 C393.3,1389.5 395.0,1383.6 395.7,1381.4" stroke="#30d040" stroke-width="2.2"/>
<path d="M395.7,1381.4 C396.4,1378.8 397.9,1374.3 400.0,1365.7 C402.1,1357.1 407.1,1336.0 408.6,1330.0" stroke="#40e0f0" stroke-width="2.0"/>
<path d="M484.3,1330.0 C485.7,1334.8 490.2,1349.5 492.9,1358.6 C495.5,1367.6 498.8,1380.0 500.0,1384.3" stroke="#40e0f0" stroke-width="2.0"/>
<path d="M500.0,1384.3 C501.2,1387.9 505.2,1401.0 507.1,1405.7 C509.0,1410.5 510.7,1411.7 511.4,1412.9" stroke="#30d040" stroke-width="2.2"/>
<path d="M511.4,1412.9 C511.9,1413.3 513.3,1415.1 514.3,1415.7 C515.2,1416.3 516.7,1416.3 517.1,1416.4" stroke="#e0d030" stroke-width="2.2"/>
<path d="M517.1,1416.4 C518.1,1416.3 520.7,1416.3 522.9,1415.7 C525.0,1415.1 528.7,1413.3 529.9,1412.9" stroke="#f03020" stroke-width="2.4"/>
</g>
<line x1="171" y1="1128.7" x2="171" y2="1560.5" stroke="#000" stroke-width="1.4" stroke-dasharray="3.5 3"/>
<line x1="231.5" y1="1128.7" x2="231.5" y2="1560.5" stroke="#000" stroke-width="1.4" stroke-dasharray="3.5 3"/>
<line x1="305.2" y1="1128.7" x2="305.2" y2="1560.5" stroke="#000" stroke-width="1.4" stroke-dasharray="3.5 3"/>
<line x1="365" y1="1128.7" x2="365" y2="1560.5" stroke="#000" stroke-width="1.4" stroke-dasharray="3.5 3"/>
<line x1="417.3" y1="1128.7" x2="417.3" y2="1560.5" stroke="#000" stroke-width="1.4" stroke-dasharray="3.5 3"/>
<line x1="477.5" y1="1128.7" x2="477.5" y2="1560.5" stroke="#000" stroke-width="1.4" stroke-dasharray="3.5 3"/>
<line x1="97.4" y1="1128.7" x2="104.4" y2="1128.7" stroke="#000" stroke-width="2" />
<line x1="691.2" y1="1128.7" x2="698" y2="1128.7" stroke="#000" stroke-width="2" />
<line x1="529.8" y1="1128.7" x2="536" y2="1128.7" stroke="#000" stroke-width="2" />
<text x="90.4" y="1141.7" font-size="32.5" text-anchor="end" fill="#000" >30</text>
<line x1="97.4" y1="1272.6333333333334" x2="104.4" y2="1272.6333333333334" stroke="#000" stroke-width="2" />
<line x1="691.2" y1="1272.6333333333334" x2="698" y2="1272.6333333333334" stroke="#000" stroke-width="2" />
<line x1="529.8" y1="1272.6333333333334" x2="536" y2="1272.6333333333334" stroke="#000" stroke-width="2" />
<text x="90.4" y="1285.6333333333334" font-size="32.5" text-anchor="end" fill="#000" >20</text>
<line x1="97.4" y1="1416.5666666666666" x2="104.4" y2="1416.5666666666666" stroke="#000" stroke-width="2" />
<line x1="691.2" y1="1416.5666666666666" x2="698" y2="1416.5666666666666" stroke="#000" stroke-width="2" />
<line x1="529.8" y1="1416.5666666666666" x2="536" y2="1416.5666666666666" stroke="#000" stroke-width="2" />
<text x="90.4" y="1429.5666666666666" font-size="32.5" text-anchor="end" fill="#000" >10</text>
<line x1="97.4" y1="1560.5" x2="104.4" y2="1560.5" stroke="#000" stroke-width="2" />
<line x1="691.2" y1="1560.5" x2="698" y2="1560.5" stroke="#000" stroke-width="2" />
<line x1="529.8" y1="1560.5" x2="536" y2="1560.5" stroke="#000" stroke-width="2" />
<text x="90.4" y="1573.5" font-size="32.5" text-anchor="end" fill="#000" >0</text>
<text x="98.4" y="1599" font-size="34" text-anchor="middle" fill="#000" >Z</text>
<text x="172" y="1599" font-size="34" text-anchor="middle" fill="#000" >A</text>
<text x="232.5" y="1599" font-size="34" text-anchor="middle" fill="#000" >M</text>
<text x="306.2" y="1599" font-size="34" text-anchor="middle" fill="#000" >Γ</text>
<text x="366" y="1599" font-size="34" text-anchor="middle" fill="#000" >Z</text>
<text x="418.3" y="1599" font-size="34" text-anchor="middle" fill="#000" >R</text>
<text x="478.5" y="1599" font-size="34" text-anchor="middle" fill="#000" >X</text>
<text x="530.8" y="1599" font-size="34" text-anchor="middle" fill="#000" >Γ</text>
<line x1="610" y1="1560.5" x2="610" y2="1553.5" stroke="#000" stroke-width="2" />
<line x1="745.2" y1="1560.5" x2="745.2" y2="1553.5" stroke="#000" stroke-width="2" />
<line x1="800" y1="1560.5" x2="800" y2="1553.5" stroke="#000" stroke-width="2" />
<text x="608" y="1598" font-size="32" text-anchor="middle" fill="#000" >0.13</text>
<text x="688.5" y="1598" font-size="32" text-anchor="middle" fill="#000" >0.26</text>
<text x="748" y="1598" font-size="32" text-anchor="middle" fill="#000" >0.3</text>
<text x="803" y="1598" font-size="32" text-anchor="middle" fill="#000" >0.6</text>
<text x="856" y="1598" font-size="32" text-anchor="middle" fill="#000" >0.9</text>
<text x="709" y="1637" font-size="36" text-anchor="middle" fill="#000" >PHDOS&#160;&#160;α<tspan font-size="22" dy="-12">2</tspan><tspan dy="12">F(ω); λ(ω)</tspan></text>
<text transform="translate(35,1351) rotate(-90)" font-size="39.5" text-anchor="middle">Frequency (THz)</text>
<text x="2.5" y="1121.5" font-size="38.5" text-anchor="start" fill="#000" >(g)</text>
<defs><linearGradient id="lbar" x1="0" y1="0" x2="1" y2="0">
<stop offset="0" stop-color="#2030c8"/><stop offset="0.15" stop-color="#3070e0"/><stop offset="0.3" stop-color="#60f0f0"/><stop offset="0.45" stop-color="#60e0a0"/><stop offset="0.55" stop-color="#40d040"/><stop offset="0.72" stop-color="#b0d040"/><stop offset="0.8" stop-color="#f0d040"/><stop offset="0.9" stop-color="#f07030"/><stop offset="1" stop-color="#f02020"/></linearGradient></defs>
<rect x="217" y="1105" width="120.5" height="15" fill="url(#lbar)" stroke="#222" stroke-width="1"/>
<text x="211" y="1118" font-size="30" text-anchor="end" fill="#000" >Min</text>
<text x="343" y="1119" font-size="30" text-anchor="start" fill="#000" >Max</text>
<text x="259" y="1090" font-size="28" text-anchor="start" fill="#000" >λ<tspan font-size="19" dy="4">q<tspan font-style="italic">v</tspan></tspan></text>
<defs><marker id="arr" markerWidth="8" markerHeight="8" refX="6" refY="4" orient="auto" markerUnits="userSpaceOnUse"><path d="M0,0 L8,4 L0,8 Z" fill="#f02020"/></marker></defs>
<line x1="228" y1="1543" x2="251" y2="1532" stroke="#f02020" stroke-width="2.2" marker-end="url(#arr)"/>
<text x="187" y="1552" font-size="28" text-anchor="start" fill="#f02020" >E-1</text>
<line x1="338" y1="1447" x2="311" y2="1427" stroke="#f02020" stroke-width="2.2" marker-end="url(#arr)"/>
<text x="323" y="1462" font-size="28" text-anchor="start" fill="#f02020" >B<tspan font-size="19" dy="6">2g</tspan></text>
<clipPath id="clipP"><rect x="530.5" y="1128.7" width="160" height="431.79999999999995"/></clipPath><g clip-path="url(#clipP)">
<path d="M530.6,1154.4 L543.8,1155.7 L562.3,1156.5 L543.8,1157.6 L543.8,1163.6 L558.3,1164.9 L533.3,1164.9 L530.6,1175.5 L538.6,1176.8 L535.9,1191.3 L547.8,1192.1 L532.0,1192.6 L530.6,1207.2 L538.6,1212.4 L532.0,1217.7 L531.2,1254.6 L533.3,1257.3 L588.7,1258.6 L554.4,1261.2 L551.7,1263.9 L575.5,1265.2 L562.3,1266.5 L532.0,1267.8 L530.6,1323.3 L538.6,1325.9 L599.2,1328.0 L543.8,1329.8 L532.0,1331.2 L530.6,1362.8 L541.2,1364.1 L553.1,1365.5 L541.2,1366.8 L539.9,1376.0 L538.6,1381.3 L533.3,1389.2 L530.6,1405.0" fill="none" stroke="#ee82ee" stroke-width="1.8" stroke-linejoin="round"/>
<path d="M530.6,1157.0 L535.9,1158.3 L541.2,1157.0 L538.6,1161.0 L535.9,1163.6 L530.6,1164.9 L530.6,1178.1 L537.2,1178.1 L538.6,1180.8 L545.2,1176.8 L538.6,1183.4 L537.2,1191.3 L530.6,1192.6 L530.6,1199.2 L541.2,1203.2 L549.1,1212.4 L568.9,1213.0 L554.4,1215.1 L541.2,1217.7 L543.8,1228.3 L533.3,1233.5 L532.0,1254.6 L554.4,1259.9 L595.3,1258.6 L567.6,1261.2 L604.5,1263.9 L572.9,1265.2 L554.4,1266.5 L532.0,1267.8 L530.6,1323.3 L535.9,1324.6 L607.2,1328.0 L554.4,1329.8 L535.9,1331.2 L533.3,1336.4 L538.6,1339.1 L542.5,1344.4 L551.7,1344.4 L546.5,1348.3 L543.8,1356.2 L546.5,1360.2 L538.6,1364.1 L541.2,1369.4 L543.8,1381.3 L554.4,1385.3 L599.2,1386.0 L554.4,1387.9 L543.8,1389.2 L539.9,1397.1 L538.6,1405.0 L538.6,1413.0 L554.4,1415.6 L538.6,1418.2 L533.3,1420.9 L532.0,1423.5 L564.9,1423.5 L543.8,1426.2 L572.9,1428.8 L554.4,1430.1 L538.6,1431.4 L533.3,1444.6 L530.6,1449.9 L530.6,1489.5 L535.9,1492.1 L530.6,1497.4 L530.6,1539.6" fill="none" stroke="#2ec82e" stroke-width="1.8" stroke-linejoin="round"/>
<path d="M530.6,1415.6 L535.9,1416.9 L546.5,1423.5 L535.9,1427.5 L530.6,1444.6 L530.6,1452.5 L535.9,1455.2 L567.6,1457.8 L541.2,1460.5 L535.9,1465.7 L541.2,1471.0 L554.4,1476.3 L567.6,1480.2 L554.4,1482.9 L562.3,1489.5 L576.8,1493.4 L554.4,1494.8 L541.2,1497.4 L530.6,1502.7 L533.3,1507.9 L543.8,1511.9 L551.7,1515.9 L563.6,1517.2 L549.1,1521.1 L541.2,1523.8 L535.9,1526.4 L538.6,1531.7 L533.3,1535.7 L530.6,1539.6" fill="none" stroke="#1818e8" stroke-width="1.8" stroke-linejoin="round"/>
<path d="M530.6,1497.4 L532.0,1500.0 L533.3,1510.6 L535.9,1518.5 L541.2,1521.1 L554.4,1522.5 L575.5,1523.8 L612.4,1525.1 L580.8,1526.4 L659.9,1528.3 L580.8,1529.1 L554.4,1531.7 L541.2,1534.3 L535.9,1537.0 L530.6,1539.6" fill="none" stroke="#ee7a20" stroke-width="1.8" stroke-linejoin="round"/>
</g>
<path d="M691.2,1153.1 L695.9,1157.0 L697.2,1159.7 L693.3,1162.3 L691.2,1164.9 L691.2,1176.8 L697.2,1180.8 L693.3,1184.7 L691.2,1188.7 L691.2,1200.6 L698.6,1201.9 L714.4,1204.5 L723.6,1204.5 L724.9,1208.5 L711.7,1209.8 L751.3,1213.0 L714.4,1217.7 L730.2,1221.7 L709.1,1223.0 L711.7,1226.9 L722.3,1229.6 L706.5,1230.9 L698.6,1233.5 L693.3,1238.8 L691.2,1241.5 L693.3,1244.1 L701.2,1246.7 L705.2,1252.0 L695.9,1253.3 L698.6,1256.0 L714.4,1257.3 L852.1,1262.6 L714.4,1265.2 L698.6,1267.8 L691.2,1269.2 L691.2,1324.6 L698.6,1328.5 L710.4,1329.8 L698.6,1331.2 L695.9,1336.4 L722.3,1337.8 L698.6,1339.1 L693.3,1340.4 L691.2,1341.7 L691.2,1362.8 L698.6,1366.8 L714.4,1368.1 L852.9,1372.1 L714.4,1374.7 L698.6,1377.3 L693.3,1381.3 L692.0,1385.3 L698.6,1389.2 L711.7,1391.9 L717.0,1394.5 L698.6,1397.1 L692.0,1399.8 L691.2,1406.4 L703.8,1407.7 L852.9,1411.6 L852.9,1417.7 L714.4,1418.2 L703.8,1420.9 L719.7,1426.2 L746.0,1430.1 L703.8,1431.4 L695.9,1434.1 L693.3,1436.7 L703.8,1439.3 L709.1,1442.0 L695.9,1443.3 L691.2,1444.6 L691.2,1456.5 L695.9,1460.5 L694.6,1465.7 L692.0,1468.4 L694.6,1473.6 L691.2,1476.3 L695.9,1486.8 L692.0,1489.5 L701.2,1493.4 L692.0,1496.1 L691.2,1523.8 L698.6,1526.4 L709.1,1529.1 L711.7,1531.7 L698.6,1535.7 L693.3,1540.9 L691.2,1543.6 Z" fill="#23378f"/>
<path d="M691.2,1544.9 L695.9,1539.6 L701.2,1534.3 L706.5,1526.4 L707.8,1510.6 L709.1,1484.2 L711.7,1457.8 L714.4,1434.1 L717.0,1426.2 L722.3,1418.2 L740.8,1411.6 L752.6,1409.0 L754.0,1399.8 L755.3,1389.2 L757.9,1377.3 L769.8,1369.4 L772.4,1368.1 L772.4,1339.1 L773.8,1299.5 L775.1,1265.2 L780.3,1258.6 L783.0,1252.0 L784.3,1228.3 L786.9,1207.2 L789.6,1180.8 L789.6,1128.0" fill="none" stroke="#e02020" stroke-width="1.8"/>
<line x1="605.4" y1="1406.5" x2="637.5" y2="1406.5" stroke="#2ec82e" stroke-width="2" />
<text x="639" y="1417.5" font-size="32" text-anchor="start" fill="#000" >B1</text>
<line x1="605.4" y1="1439.7" x2="637.5" y2="1439.7" stroke="#ee82ee" stroke-width="2" />
<text x="639" y="1450.7" font-size="32" text-anchor="start" fill="#000" >B2</text>
<line x1="605.4" y1="1473.8" x2="637.5" y2="1473.8" stroke="#1818e8" stroke-width="2" />
<text x="639" y="1484.8" font-size="32" text-anchor="start" fill="#000" >K</text>
<line x1="605.4" y1="1506" x2="637.5" y2="1506" stroke="#ee7a20" stroke-width="2" />
<text x="639" y="1517" font-size="32" text-anchor="start" fill="#000" >Au</text>
<rect x="724.4" y="1461" width="33.4" height="21" fill="#23378f"/>
<text x="760" y="1480" font-size="34" text-anchor="start" fill="#000" >α<tspan font-size="22" dy="-12">2</tspan><tspan dy="12">F(ω)</tspan></text>
<line x1="724.4" y1="1506" x2="756.8" y2="1506" stroke="#e02020" stroke-width="2" />
<text x="760" y="1517" font-size="34" text-anchor="start" fill="#000" >λ(ω)</text>
<defs>
<radialGradient id="kgr" cx="0.45" cy="0.4" r="0.6"><stop offset="0" stop-color="#e070ff"/><stop offset="0.5" stop-color="#a43cf0"/><stop offset="1" stop-color="#6a20b0"/></radialGradient>
<radialGradient id="augr" cx="0.45" cy="0.4" r="0.6"><stop offset="0" stop-color="#f8e060"/><stop offset="0.5" stop-color="#d8a038"/><stop offset="1" stop-color="#a07020"/></radialGradient>
<radialGradient id="pkgr" cx="0.5" cy="0.45" r="0.6"><stop offset="0" stop-color="#ffffff"/><stop offset="0.25" stop-color="#f0a0a8"/><stop offset="0.7" stop-color="#e07880"/><stop offset="1" stop-color="#b05058"/></radialGradient>
<radialGradient id="bgr" cx="0.45" cy="0.4" r="0.6"><stop offset="0" stop-color="#3aa030"/><stop offset="0.7" stop-color="#2a8a20"/><stop offset="1" stop-color="#1a5a14"/></radialGradient>
<marker id="rah" markerWidth="10" markerHeight="10" refX="3" refY="5" orient="auto" markerUnits="userSpaceOnUse"><path d="M0,0 L10,5 L0,10 Z" fill="#f02020"/></marker>
</defs>
<path d="M1030.8,1149.6 L1184.8,1149.6 M1030.8,1303.4 L1184.8,1303.4 M1030.8,1149.6 L1030.8,1303.4 M1184.8,1149.6 L1184.8,1303.4" stroke="#222" stroke-width="1.6" fill="none"/>
<line x1="1056.8" y1="1175.6" x2="1082.3" y2="1201.05" stroke="#58c040" stroke-width="2.2"/><line x1="1082.3" y1="1201.05" x2="1107.8" y2="1226.5" stroke="#e0b840" stroke-width="2.2"/>
<line x1="1158.8" y1="1175.6" x2="1133.3" y2="1201.05" stroke="#58c040" stroke-width="2.2"/><line x1="1133.3" y1="1201.05" x2="1107.8" y2="1226.5" stroke="#e0b840" stroke-width="2.2"/>
<line x1="1056.8" y1="1277.4" x2="1082.3" y2="1251.95" stroke="#58c040" stroke-width="2.2"/><line x1="1082.3" y1="1251.95" x2="1107.8" y2="1226.5" stroke="#e0b840" stroke-width="2.2"/>
<line x1="1158.8" y1="1277.4" x2="1133.3" y2="1251.95" stroke="#58c040" stroke-width="2.2"/><line x1="1133.3" y1="1251.95" x2="1107.8" y2="1226.5" stroke="#e0b840" stroke-width="2.2"/>
<line x1="1004.8" y1="1123.6" x2="1056.8" y2="1123.6" stroke="#2a7a1a" stroke-width="4.2"/><line x1="1004.8" y1="1123.6" x2="1056.8" y2="1123.6" stroke="#78d858" stroke-width="2.4"/>
<line x1="1056.8" y1="1123.6" x2="1056.8" y2="1175.6" stroke="#2a7a1a" stroke-width="4.2"/><line x1="1056.8" y1="1123.6" x2="1056.8" y2="1175.6" stroke="#78d858" stroke-width="2.4"/>
<line x1="1056.8" y1="1175.6" x2="1004.8" y2="1175.6" stroke="#2a7a1a" stroke-width="4.2"/><line x1="1056.8" y1="1175.6" x2="1004.8" y2="1175.6" stroke="#78d858" stroke-width="2.4"/>
<line x1="1004.8" y1="1175.6" x2="1004.8" y2="1123.6" stroke="#2a7a1a" stroke-width="4.2"/><line x1="1004.8" y1="1175.6" x2="1004.8" y2="1123.6" stroke="#78d858" stroke-width="2.4"/>
<line x1="1030.8" y1="1149.6" x2="1017.8" y2="1136.6" stroke="#c86a6a" stroke-width="3"/><line x1="1017.8" y1="1136.6" x2="1004.8" y2="1123.6" stroke="#2a8a2a" stroke-width="3"/>
<line x1="1030.8" y1="1149.6" x2="1043.8" y2="1136.6" stroke="#c86a6a" stroke-width="3"/><line x1="1043.8" y1="1136.6" x2="1056.8" y2="1123.6" stroke="#2a8a2a" stroke-width="3"/>
<line x1="1030.8" y1="1149.6" x2="1043.8" y2="1162.6" stroke="#c86a6a" stroke-width="3"/><line x1="1043.8" y1="1162.6" x2="1056.8" y2="1175.6" stroke="#2a8a2a" stroke-width="3"/>
<line x1="1030.8" y1="1149.6" x2="1017.8" y2="1162.6" stroke="#c86a6a" stroke-width="3"/><line x1="1017.8" y1="1162.6" x2="1004.8" y2="1175.6" stroke="#2a8a2a" stroke-width="3"/>
<circle cx="1004.8" cy="1123.6" r="8.6" fill="url(#bgr)" stroke="#1a5a14" stroke-width="0.8"/>
<line x1="999.8" y1="1118.6" x2="1005.8" y2="1124.6" stroke="#f02020" stroke-width="3.2" marker-end="url(#rah)"/>
<circle cx="1056.8" cy="1123.6" r="8.6" fill="url(#bgr)" stroke="#1a5a14" stroke-width="0.8"/>
<line x1="1061.8" y1="1128.6" x2="1055.8" y2="1122.6" stroke="#f02020" stroke-width="3.2" marker-end="url(#rah)"/>
<circle cx="1056.8" cy="1175.6" r="8.6" fill="url(#bgr)" stroke="#1a5a14" stroke-width="0.8"/>
<line x1="1061.8" y1="1180.6" x2="1055.8" y2="1174.6" stroke="#f02020" stroke-width="3.2" marker-end="url(#rah)"/>
<circle cx="1004.8" cy="1175.6" r="8.6" fill="url(#bgr)" stroke="#1a5a14" stroke-width="0.8"/>
<line x1="999.8" y1="1170.6" x2="1005.8" y2="1176.6" stroke="#f02020" stroke-width="3.2" marker-end="url(#rah)"/>
<circle cx="1030.8" cy="1149.6" r="9.4" fill="url(#pkgr)" stroke="#a04850" stroke-width="0.8"/>
<line x1="1158.8" y1="1123.6" x2="1210.8" y2="1123.6" stroke="#2a7a1a" stroke-width="4.2"/><line x1="1158.8" y1="1123.6" x2="1210.8" y2="1123.6" stroke="#78d858" stroke-width="2.4"/>
<line x1="1210.8" y1="1123.6" x2="1210.8" y2="1175.6" stroke="#2a7a1a" stroke-width="4.2"/><line x1="1210.8" y1="1123.6" x2="1210.8" y2="1175.6" stroke="#78d858" stroke-width="2.4"/>
<line x1="1210.8" y1="1175.6" x2="1158.8" y2="1175.6" stroke="#2a7a1a" stroke-width="4.2"/><line x1="1210.8" y1="1175.6" x2="1158.8" y2="1175.6" stroke="#78d858" stroke-width="2.4"/>
<line x1="1158.8" y1="1175.6" x2="1158.8" y2="1123.6" stroke="#2a7a1a" stroke-width="4.2"/><line x1="1158.8" y1="1175.6" x2="1158.8" y2="1123.6" stroke="#78d858" stroke-width="2.4"/>
<line x1="1184.8" y1="1149.6" x2="1171.8" y2="1136.6" stroke="#c86a6a" stroke-width="3"/><line x1="1171.8" y1="1136.6" x2="1158.8" y2="1123.6" stroke="#2a8a2a" stroke-width="3"/>
<line x1="1184.8" y1="1149.6" x2="1197.8" y2="1136.6" stroke="#c86a6a" stroke-width="3"/><line x1="1197.8" y1="1136.6" x2="1210.8" y2="1123.6" stroke="#2a8a2a" stroke-width="3"/>
<line x1="1184.8" y1="1149.6" x2="1197.8" y2="1162.6" stroke="#c86a6a" stroke-width="3"/><line x1="1197.8" y1="1162.6" x2="1210.8" y2="1175.6" stroke="#2a8a2a" stroke-width="3"/>
<line x1="1184.8" y1="1149.6" x2="1171.8" y2="1162.6" stroke="#c86a6a" stroke-width="3"/><line x1="1171.8" y1="1162.6" x2="1158.8" y2="1175.6" stroke="#2a8a2a" stroke-width="3"/>
<circle cx="1158.8" cy="1123.6" r="8.6" fill="url(#bgr)" stroke="#1a5a14" stroke-width="0.8"/>
<line x1="1153.8" y1="1118.6" x2="1159.8" y2="1124.6" stroke="#f02020" stroke-width="3.2" marker-end="url(#rah)"/>
<circle cx="1210.8" cy="1123.6" r="8.6" fill="url(#bgr)" stroke="#1a5a14" stroke-width="0.8"/>
<line x1="1215.8" y1="1128.6" x2="1209.8" y2="1122.6" stroke="#f02020" stroke-width="3.2" marker-end="url(#rah)"/>
<circle cx="1210.8" cy="1175.6" r="8.6" fill="url(#bgr)" stroke="#1a5a14" stroke-width="0.8"/>
<line x1="1215.8" y1="1180.6" x2="1209.8" y2="1174.6" stroke="#f02020" stroke-width="3.2" marker-end="url(#rah)"/>
<circle cx="1158.8" cy="1175.6" r="8.6" fill="url(#bgr)" stroke="#1a5a14" stroke-width="0.8"/>
<line x1="1153.8" y1="1170.6" x2="1159.8" y2="1176.6" stroke="#f02020" stroke-width="3.2" marker-end="url(#rah)"/>
<circle cx="1184.8" cy="1149.6" r="9.4" fill="url(#pkgr)" stroke="#a04850" stroke-width="0.8"/>
<line x1="1004.8" y1="1277.4" x2="1056.8" y2="1277.4" stroke="#2a7a1a" stroke-width="4.2"/><line x1="1004.8" y1="1277.4" x2="1056.8" y2="1277.4" stroke="#78d858" stroke-width="2.4"/>
<line x1="1056.8" y1="1277.4" x2="1056.8" y2="1329.4" stroke="#2a7a1a" stroke-width="4.2"/><line x1="1056.8" y1="1277.4" x2="1056.8" y2="1329.4" stroke="#78d858" stroke-width="2.4"/>
<line x1="1056.8" y1="1329.4" x2="1004.8" y2="1329.4" stroke="#2a7a1a" stroke-width="4.2"/><line x1="1056.8" y1="1329.4" x2="1004.8" y2="1329.4" stroke="#78d858" stroke-width="2.4"/>
<line x1="1004.8" y1="1329.4" x2="1004.8" y2="1277.4" stroke="#2a7a1a" stroke-width="4.2"/><line x1="1004.8" y1="1329.4" x2="1004.8" y2="1277.4" stroke="#78d858" stroke-width="2.4"/>
<line x1="1030.8" y1="1303.4" x2="1017.8" y2="1290.4" stroke="#c86a6a" stroke-width="3"/><line x1="1017.8" y1="1290.4" x2="1004.8" y2="1277.4" stroke="#2a8a2a" stroke-width="3"/>
<line x1="1030.8" y1="1303.4" x2="1043.8" y2="1290.4" stroke="#c86a6a" stroke-width="3"/><line x1="1043.8" y1="1290.4" x2="1056.8" y2="1277.4" stroke="#2a8a2a" stroke-width="3"/>
<line x1="1030.8" y1="1303.4" x2="1043.8" y2="1316.4" stroke="#c86a6a" stroke-width="3"/><line x1="1043.8" y1="1316.4" x2="1056.8" y2="1329.4" stroke="#2a8a2a" stroke-width="3"/>
<line x1="1030.8" y1="1303.4" x2="1017.8" y2="1316.4" stroke="#c86a6a" stroke-width="3"/><line x1="1017.8" y1="1316.4" x2="1004.8" y2="1329.4" stroke="#2a8a2a" stroke-width="3"/>
<circle cx="1004.8" cy="1277.4" r="8.6" fill="url(#bgr)" stroke="#1a5a14" stroke-width="0.8"/>
<line x1="999.8" y1="1272.4" x2="1005.8" y2="1278.4" stroke="#f02020" stroke-width="3.2" marker-end="url(#rah)"/>
<circle cx="1056.8" cy="1277.4" r="8.6" fill="url(#bgr)" stroke="#1a5a14" stroke-width="0.8"/>
<line x1="1061.8" y1="1282.4" x2="1055.8" y2="1276.4" stroke="#f02020" stroke-width="3.2" marker-end="url(#rah)"/>
<circle cx="1056.8" cy="1329.4" r="8.6" fill="url(#bgr)" stroke="#1a5a14" stroke-width="0.8"/>
<line x1="1061.8" y1="1334.4" x2="1055.8" y2="1328.4" stroke="#f02020" stroke-width="3.2" marker-end="url(#rah)"/>
<circle cx="1004.8" cy="1329.4" r="8.6" fill="url(#bgr)" stroke="#1a5a14" stroke-width="0.8"/>
<line x1="999.8" y1="1324.4" x2="1005.8" y2="1330.4" stroke="#f02020" stroke-width="3.2" marker-end="url(#rah)"/>
<circle cx="1030.8" cy="1303.4" r="9.4" fill="url(#pkgr)" stroke="#a04850" stroke-width="0.8"/>
<line x1="1158.8" y1="1277.4" x2="1210.8" y2="1277.4" stroke="#2a7a1a" stroke-width="4.2"/><line x1="1158.8" y1="1277.4" x2="1210.8" y2="1277.4" stroke="#78d858" stroke-width="2.4"/>
<line x1="1210.8" y1="1277.4" x2="1210.8" y2="1329.4" stroke="#2a7a1a" stroke-width="4.2"/><line x1="1210.8" y1="1277.4" x2="1210.8" y2="1329.4" stroke="#78d858" stroke-width="2.4"/>
<line x1="1210.8" y1="1329.4" x2="1158.8" y2="1329.4" stroke="#2a7a1a" stroke-width="4.2"/><line x1="1210.8" y1="1329.4" x2="1158.8" y2="1329.4" stroke="#78d858" stroke-width="2.4"/>
<line x1="1158.8" y1="1329.4" x2="1158.8" y2="1277.4" stroke="#2a7a1a" stroke-width="4.2"/><line x1="1158.8" y1="1329.4" x2="1158.8" y2="1277.4" stroke="#78d858" stroke-width="2.4"/>
<line x1="1184.8" y1="1303.4" x2="1171.8" y2="1290.4" stroke="#c86a6a" stroke-width="3"/><line x1="1171.8" y1="1290.4" x2="1158.8" y2="1277.4" stroke="#2a8a2a" stroke-width="3"/>
<line x1="1184.8" y1="1303.4" x2="1197.8" y2="1290.4" stroke="#c86a6a" stroke-width="3"/><line x1="1197.8" y1="1290.4" x2="1210.8" y2="1277.4" stroke="#2a8a2a" stroke-width="3"/>
<line x1="1184.8" y1="1303.4" x2="1197.8" y2="1316.4" stroke="#c86a6a" stroke-width="3"/><line x1="1197.8" y1="1316.4" x2="1210.8" y2="1329.4" stroke="#2a8a2a" stroke-width="3"/>
<line x1="1184.8" y1="1303.4" x2="1171.8" y2="1316.4" stroke="#c86a6a" stroke-width="3"/><line x1="1171.8" y1="1316.4" x2="1158.8" y2="1329.4" stroke="#2a8a2a" stroke-width="3"/>
<circle cx="1158.8" cy="1277.4" r="8.6" fill="url(#bgr)" stroke="#1a5a14" stroke-width="0.8"/>
<line x1="1153.8" y1="1272.4" x2="1159.8" y2="1278.4" stroke="#f02020" stroke-width="3.2" marker-end="url(#rah)"/>
<circle cx="1210.8" cy="1277.4" r="8.6" fill="url(#bgr)" stroke="#1a5a14" stroke-width="0.8"/>
<line x1="1215.8" y1="1282.4" x2="1209.8" y2="1276.4" stroke="#f02020" stroke-width="3.2" marker-end="url(#rah)"/>
<circle cx="1210.8" cy="1329.4" r="8.6" fill="url(#bgr)" stroke="#1a5a14" stroke-width="0.8"/>
<line x1="1215.8" y1="1334.4" x2="1209.8" y2="1328.4" stroke="#f02020" stroke-width="3.2" marker-end="url(#rah)"/>
<circle cx="1158.8" cy="1329.4" r="8.6" fill="url(#bgr)" stroke="#1a5a14" stroke-width="0.8"/>
<line x1="1153.8" y1="1324.4" x2="1159.8" y2="1330.4" stroke="#f02020" stroke-width="3.2" marker-end="url(#rah)"/>
<circle cx="1184.8" cy="1303.4" r="9.4" fill="url(#pkgr)" stroke="#a04850" stroke-width="0.8"/>
<circle cx="1107.8" cy="1149.6" r="16" fill="url(#kgr)"/>
<circle cx="1030.8" cy="1226.5" r="16" fill="url(#kgr)"/>
<circle cx="1184.8" cy="1226.5" r="16" fill="url(#kgr)"/>
<circle cx="1107.8" cy="1303.4" r="16" fill="url(#kgr)"/>
<circle cx="1107.8" cy="1226.5" r="13.4" fill="url(#augr)"/>
<path d="M1101.0,1127.1 L1106.2,1162.0 L1102.4,1162.6 L1110.3,1171.5 L1115.2,1160.6 L1111.4,1161.2 L1106.2,1126.3 Z" fill="#f02020" stroke="#c01010" stroke-width="0.6"/>
<line x1="1103.9" y1="1128.7" x2="1108.5" y2="1159.6" stroke="#ffd0d0" stroke-width="1" opacity="0.9"/>
<path d="M1101.0,1281.5 L1106.3,1316.5 L1102.4,1317.1 L1110.3,1326.0 L1115.3,1315.2 L1111.4,1315.7 L1106.2,1280.7 Z" fill="#f02020" stroke="#c01010" stroke-width="0.6"/>
<line x1="1103.9" y1="1283.1" x2="1108.5" y2="1314.1" stroke="#ffd0d0" stroke-width="1" opacity="0.9"/>
<path d="M1007.1,1226.3 L1042.6,1230.4 L1042.1,1234.3 L1052.8,1229.0 L1043.6,1221.4 L1043.2,1225.3 L1007.7,1221.1 Z" fill="#f02020" stroke="#c01010" stroke-width="0.6"/>
<line x1="1009.4" y1="1223.9" x2="1040.9" y2="1227.6" stroke="#ffd0d0" stroke-width="1" opacity="0.9"/>
<path d="M1162.2,1226.3 L1197.1,1230.4 L1196.6,1234.3 L1207.3,1229.0 L1198.1,1221.4 L1197.7,1225.2 L1162.8,1221.1 Z" fill="#f02020" stroke="#c01010" stroke-width="0.6"/>
<line x1="1164.5" y1="1223.9" x2="1195.4" y2="1227.6" stroke="#ffd0d0" stroke-width="1" opacity="0.9"/>
<path d="M1087.2,1209.4 L1116.8,1239.2 L1114.0,1241.9 L1125.7,1244.4 L1123.2,1232.7 L1120.5,1235.5 L1090.8,1205.8 Z" fill="#f02020" stroke="#c01010" stroke-width="0.6"/>
<line x1="1090.4" y1="1209.0" x2="1117.2" y2="1235.9" stroke="#ffd0d0" stroke-width="1" opacity="0.9"/>
<path d="M1030.8,1401.8999999999999 L1184.8,1401.8999999999999 M1030.8,1555.7 L1184.8,1555.7 M1030.8,1401.8999999999999 L1030.8,1555.7 M1184.8,1401.8999999999999 L1184.8,1555.7" stroke="#222" stroke-width="1.6" fill="none"/>
<line x1="1056.8" y1="1427.8999999999999" x2="1082.3" y2="1453.35" stroke="#58c040" stroke-width="2.2"/><line x1="1082.3" y1="1453.35" x2="1107.8" y2="1478.8" stroke="#e0b840" stroke-width="2.2"/>
<line x1="1158.8" y1="1427.8999999999999" x2="1133.3" y2="1453.35" stroke="#58c040" stroke-width="2.2"/><line x1="1133.3" y1="1453.35" x2="1107.8" y2="1478.8" stroke="#e0b840" stroke-width="2.2"/>
<line x1="1056.8" y1="1529.7" x2="1082.3" y2="1504.25" stroke="#58c040" stroke-width="2.2"/><line x1="1082.3" y1="1504.25" x2="1107.8" y2="1478.8" stroke="#e0b840" stroke-width="2.2"/>
<line x1="1158.8" y1="1529.7" x2="1133.3" y2="1504.25" stroke="#58c040" stroke-width="2.2"/><line x1="1133.3" y1="1504.25" x2="1107.8" y2="1478.8" stroke="#e0b840" stroke-width="2.2"/>
<line x1="1004.8" y1="1375.8999999999999" x2="1056.8" y2="1375.8999999999999" stroke="#2a7a1a" stroke-width="4.2"/><line x1="1004.8" y1="1375.8999999999999" x2="1056.8" y2="1375.8999999999999" stroke="#78d858" stroke-width="2.4"/>
<line x1="1056.8" y1="1375.8999999999999" x2="1056.8" y2="1427.8999999999999" stroke="#2a7a1a" stroke-width="4.2"/><line x1="1056.8" y1="1375.8999999999999" x2="1056.8" y2="1427.8999999999999" stroke="#78d858" stroke-width="2.4"/>
<line x1="1056.8" y1="1427.8999999999999" x2="1004.8" y2="1427.8999999999999" stroke="#2a7a1a" stroke-width="4.2"/><line x1="1056.8" y1="1427.8999999999999" x2="1004.8" y2="1427.8999999999999" stroke="#78d858" stroke-width="2.4"/>
<line x1="1004.8" y1="1427.8999999999999" x2="1004.8" y2="1375.8999999999999" stroke="#2a7a1a" stroke-width="4.2"/><line x1="1004.8" y1="1427.8999999999999" x2="1004.8" y2="1375.8999999999999" stroke="#78d858" stroke-width="2.4"/>
<line x1="1030.8" y1="1401.8999999999999" x2="1017.8" y2="1388.8999999999999" stroke="#c86a6a" stroke-width="3"/><line x1="1017.8" y1="1388.8999999999999" x2="1004.8" y2="1375.8999999999999" stroke="#2a8a2a" stroke-width="3"/>
<line x1="1030.8" y1="1401.8999999999999" x2="1043.8" y2="1388.8999999999999" stroke="#c86a6a" stroke-width="3"/><line x1="1043.8" y1="1388.8999999999999" x2="1056.8" y2="1375.8999999999999" stroke="#2a8a2a" stroke-width="3"/>
<line x1="1030.8" y1="1401.8999999999999" x2="1043.8" y2="1414.8999999999999" stroke="#c86a6a" stroke-width="3"/><line x1="1043.8" y1="1414.8999999999999" x2="1056.8" y2="1427.8999999999999" stroke="#2a8a2a" stroke-width="3"/>
<line x1="1030.8" y1="1401.8999999999999" x2="1017.8" y2="1414.8999999999999" stroke="#c86a6a" stroke-width="3"/><line x1="1017.8" y1="1414.8999999999999" x2="1004.8" y2="1427.8999999999999" stroke="#2a8a2a" stroke-width="3"/>
<circle cx="1004.8" cy="1375.8999999999999" r="8.6" fill="url(#bgr)" stroke="#1a5a14" stroke-width="0.8"/>
<circle cx="1056.8" cy="1375.8999999999999" r="8.6" fill="url(#bgr)" stroke="#1a5a14" stroke-width="0.8"/>
<circle cx="1056.8" cy="1427.8999999999999" r="8.6" fill="url(#bgr)" stroke="#1a5a14" stroke-width="0.8"/>
<circle cx="1004.8" cy="1427.8999999999999" r="8.6" fill="url(#bgr)" stroke="#1a5a14" stroke-width="0.8"/>
<circle cx="1030.8" cy="1401.8999999999999" r="9.4" fill="url(#pkgr)" stroke="#a04850" stroke-width="0.8"/>
<line x1="1158.8" y1="1375.8999999999999" x2="1210.8" y2="1375.8999999999999" stroke="#2a7a1a" stroke-width="4.2"/><line x1="1158.8" y1="1375.8999999999999" x2="1210.8" y2="1375.8999999999999" stroke="#78d858" stroke-width="2.4"/>
<line x1="1210.8" y1="1375.8999999999999" x2="1210.8" y2="1427.8999999999999" stroke="#2a7a1a" stroke-width="4.2"/><line x1="1210.8" y1="1375.8999999999999" x2="1210.8" y2="1427.8999999999999" stroke="#78d858" stroke-width="2.4"/>
<line x1="1210.8" y1="1427.8999999999999" x2="1158.8" y2="1427.8999999999999" stroke="#2a7a1a" stroke-width="4.2"/><line x1="1210.8" y1="1427.8999999999999" x2="1158.8" y2="1427.8999999999999" stroke="#78d858" stroke-width="2.4"/>
<line x1="1158.8" y1="1427.8999999999999" x2="1158.8" y2="1375.8999999999999" stroke="#2a7a1a" stroke-width="4.2"/><line x1="1158.8" y1="1427.8999999999999" x2="1158.8" y2="1375.8999999999999" stroke="#78d858" stroke-width="2.4"/>
<line x1="1184.8" y1="1401.8999999999999" x2="1171.8" y2="1388.8999999999999" stroke="#c86a6a" stroke-width="3"/><line x1="1171.8" y1="1388.8999999999999" x2="1158.8" y2="1375.8999999999999" stroke="#2a8a2a" stroke-width="3"/>
<line x1="1184.8" y1="1401.8999999999999" x2="1197.8" y2="1388.8999999999999" stroke="#c86a6a" stroke-width="3"/><line x1="1197.8" y1="1388.8999999999999" x2="1210.8" y2="1375.8999999999999" stroke="#2a8a2a" stroke-width="3"/>
<line x1="1184.8" y1="1401.8999999999999" x2="1197.8" y2="1414.8999999999999" stroke="#c86a6a" stroke-width="3"/><line x1="1197.8" y1="1414.8999999999999" x2="1210.8" y2="1427.8999999999999" stroke="#2a8a2a" stroke-width="3"/>
<line x1="1184.8" y1="1401.8999999999999" x2="1171.8" y2="1414.8999999999999" stroke="#c86a6a" stroke-width="3"/><line x1="1171.8" y1="1414.8999999999999" x2="1158.8" y2="1427.8999999999999" stroke="#2a8a2a" stroke-width="3"/>
<circle cx="1158.8" cy="1375.8999999999999" r="8.6" fill="url(#bgr)" stroke="#1a5a14" stroke-width="0.8"/>
<circle cx="1210.8" cy="1375.8999999999999" r="8.6" fill="url(#bgr)" stroke="#1a5a14" stroke-width="0.8"/>
<circle cx="1210.8" cy="1427.8999999999999" r="8.6" fill="url(#bgr)" stroke="#1a5a14" stroke-width="0.8"/>
<circle cx="1158.8" cy="1427.8999999999999" r="8.6" fill="url(#bgr)" stroke="#1a5a14" stroke-width="0.8"/>
<circle cx="1184.8" cy="1401.8999999999999" r="9.4" fill="url(#pkgr)" stroke="#a04850" stroke-width="0.8"/>
<line x1="1004.8" y1="1529.7" x2="1056.8" y2="1529.7" stroke="#2a7a1a" stroke-width="4.2"/><line x1="1004.8" y1="1529.7" x2="1056.8" y2="1529.7" stroke="#78d858" stroke-width="2.4"/>
<line x1="1056.8" y1="1529.7" x2="1056.8" y2="1581.7" stroke="#2a7a1a" stroke-width="4.2"/><line x1="1056.8" y1="1529.7" x2="1056.8" y2="1581.7" stroke="#78d858" stroke-width="2.4"/>
<line x1="1056.8" y1="1581.7" x2="1004.8" y2="1581.7" stroke="#2a7a1a" stroke-width="4.2"/><line x1="1056.8" y1="1581.7" x2="1004.8" y2="1581.7" stroke="#78d858" stroke-width="2.4"/>
<line x1="1004.8" y1="1581.7" x2="1004.8" y2="1529.7" stroke="#2a7a1a" stroke-width="4.2"/><line x1="1004.8" y1="1581.7" x2="1004.8" y2="1529.7" stroke="#78d858" stroke-width="2.4"/>
<line x1="1030.8" y1="1555.7" x2="1017.8" y2="1542.7" stroke="#c86a6a" stroke-width="3"/><line x1="1017.8" y1="1542.7" x2="1004.8" y2="1529.7" stroke="#2a8a2a" stroke-width="3"/>
<line x1="1030.8" y1="1555.7" x2="1043.8" y2="1542.7" stroke="#c86a6a" stroke-width="3"/><line x1="1043.8" y1="1542.7" x2="1056.8" y2="1529.7" stroke="#2a8a2a" stroke-width="3"/>
<line x1="1030.8" y1="1555.7" x2="1043.8" y2="1568.7" stroke="#c86a6a" stroke-width="3"/><line x1="1043.8" y1="1568.7" x2="1056.8" y2="1581.7" stroke="#2a8a2a" stroke-width="3"/>
<line x1="1030.8" y1="1555.7" x2="1017.8" y2="1568.7" stroke="#c86a6a" stroke-width="3"/><line x1="1017.8" y1="1568.7" x2="1004.8" y2="1581.7" stroke="#2a8a2a" stroke-width="3"/>
<circle cx="1004.8" cy="1529.7" r="8.6" fill="url(#bgr)" stroke="#1a5a14" stroke-width="0.8"/>
<circle cx="1056.8" cy="1529.7" r="8.6" fill="url(#bgr)" stroke="#1a5a14" stroke-width="0.8"/>
<circle cx="1056.8" cy="1581.7" r="8.6" fill="url(#bgr)" stroke="#1a5a14" stroke-width="0.8"/>
<circle cx="1004.8" cy="1581.7" r="8.6" fill="url(#bgr)" stroke="#1a5a14" stroke-width="0.8"/>
<circle cx="1030.8" cy="1555.7" r="9.4" fill="url(#pkgr)" stroke="#a04850" stroke-width="0.8"/>
<line x1="1158.8" y1="1529.7" x2="1210.8" y2="1529.7" stroke="#2a7a1a" stroke-width="4.2"/><line x1="1158.8" y1="1529.7" x2="1210.8" y2="1529.7" stroke="#78d858" stroke-width="2.4"/>
<line x1="1210.8" y1="1529.7" x2="1210.8" y2="1581.7" stroke="#2a7a1a" stroke-width="4.2"/><line x1="1210.8" y1="1529.7" x2="1210.8" y2="1581.7" stroke="#78d858" stroke-width="2.4"/>
<line x1="1210.8" y1="1581.7" x2="1158.8" y2="1581.7" stroke="#2a7a1a" stroke-width="4.2"/><line x1="1210.8" y1="1581.7" x2="1158.8" y2="1581.7" stroke="#78d858" stroke-width="2.4"/>
<line x1="1158.8" y1="1581.7" x2="1158.8" y2="1529.7" stroke="#2a7a1a" stroke-width="4.2"/><line x1="1158.8" y1="1581.7" x2="1158.8" y2="1529.7" stroke="#78d858" stroke-width="2.4"/>
<line x1="1184.8" y1="1555.7" x2="1171.8" y2="1542.7" stroke="#c86a6a" stroke-width="3"/><line x1="1171.8" y1="1542.7" x2="1158.8" y2="1529.7" stroke="#2a8a2a" stroke-width="3"/>
<line x1="1184.8" y1="1555.7" x2="1197.8" y2="1542.7" stroke="#c86a6a" stroke-width="3"/><line x1="1197.8" y1="1542.7" x2="1210.8" y2="1529.7" stroke="#2a8a2a" stroke-width="3"/>
<line x1="1184.8" y1="1555.7" x2="1197.8" y2="1568.7" stroke="#c86a6a" stroke-width="3"/><line x1="1197.8" y1="1568.7" x2="1210.8" y2="1581.7" stroke="#2a8a2a" stroke-width="3"/>
<line x1="1184.8" y1="1555.7" x2="1171.8" y2="1568.7" stroke="#c86a6a" stroke-width="3"/><line x1="1171.8" y1="1568.7" x2="1158.8" y2="1581.7" stroke="#2a8a2a" stroke-width="3"/>
<circle cx="1158.8" cy="1529.7" r="8.6" fill="url(#bgr)" stroke="#1a5a14" stroke-width="0.8"/>
<circle cx="1210.8" cy="1529.7" r="8.6" fill="url(#bgr)" stroke="#1a5a14" stroke-width="0.8"/>
<circle cx="1210.8" cy="1581.7" r="8.6" fill="url(#bgr)" stroke="#1a5a14" stroke-width="0.8"/>
<circle cx="1158.8" cy="1581.7" r="8.6" fill="url(#bgr)" stroke="#1a5a14" stroke-width="0.8"/>
<circle cx="1184.8" cy="1555.7" r="9.4" fill="url(#pkgr)" stroke="#a04850" stroke-width="0.8"/>
<circle cx="1107.8" cy="1401.8999999999999" r="16" fill="url(#kgr)"/>
<circle cx="1030.8" cy="1478.8" r="16" fill="url(#kgr)"/>
<circle cx="1184.8" cy="1478.8" r="16" fill="url(#kgr)"/>
<circle cx="1107.8" cy="1555.7" r="16" fill="url(#kgr)"/>
<circle cx="1107.8" cy="1478.8" r="13.4" fill="url(#augr)"/>
<path d="M983.1,1357.6 L1018.0,1392.5 L1015.1,1395.4 L1026.8,1397.9 L1024.3,1386.2 L1021.4,1389.1 L986.5,1354.2 Z" fill="#f02020" stroke="#c01010" stroke-width="0.6"/>
<line x1="986.2" y1="1357.3" x2="1018.3" y2="1389.4" stroke="#ffd0d0" stroke-width="1" opacity="0.9"/>
<path d="M1036.5,1399.6 L1071.4,1364.7 L1074.3,1367.6 L1076.8,1355.9 L1065.1,1358.4 L1068.0,1361.3 L1033.1,1396.2 Z" fill="#f02020" stroke="#c01010" stroke-width="0.6"/>
<line x1="1036.2" y1="1396.5" x2="1068.3" y2="1364.4" stroke="#ffd0d0" stroke-width="1" opacity="0.9"/>
<path d="M1025.1,1404.2 L990.2,1439.1 L987.3,1436.2 L984.8,1447.9 L996.5,1445.4 L993.6,1442.5 L1028.5,1407.6 Z" fill="#f02020" stroke="#c01010" stroke-width="0.6"/>
<line x1="1025.4" y1="1407.3" x2="993.3" y2="1439.4" stroke="#ffd0d0" stroke-width="1" opacity="0.9"/>
<path d="M1078.5,1446.2 L1043.6,1411.3 L1046.5,1408.4 L1034.8,1405.9 L1037.3,1417.6 L1040.2,1414.7 L1075.1,1449.6 Z" fill="#f02020" stroke="#c01010" stroke-width="0.6"/>
<line x1="1075.4" y1="1446.5" x2="1043.3" y2="1414.4" stroke="#ffd0d0" stroke-width="1" opacity="0.9"/>
<path d="M1137.1,1357.6 L1172.0,1392.5 L1169.1,1395.4 L1180.8,1397.9 L1178.3,1386.2 L1175.4,1389.1 L1140.5,1354.2 Z" fill="#f02020" stroke="#c01010" stroke-width="0.6"/>
<line x1="1140.2" y1="1357.3" x2="1172.3" y2="1389.4" stroke="#ffd0d0" stroke-width="1" opacity="0.9"/>
<path d="M1190.5,1399.6 L1225.4,1364.7 L1228.3,1367.6 L1230.8,1355.9 L1219.1,1358.4 L1222.0,1361.3 L1187.1,1396.2 Z" fill="#f02020" stroke="#c01010" stroke-width="0.6"/>
<line x1="1190.2" y1="1396.5" x2="1222.3" y2="1364.4" stroke="#ffd0d0" stroke-width="1" opacity="0.9"/>
<path d="M1179.1,1404.2 L1144.2,1439.1 L1141.3,1436.2 L1138.8,1447.9 L1150.5,1445.4 L1147.6,1442.5 L1182.5,1407.6 Z" fill="#f02020" stroke="#c01010" stroke-width="0.6"/>
<line x1="1179.4" y1="1407.3" x2="1147.3" y2="1439.4" stroke="#ffd0d0" stroke-width="1" opacity="0.9"/>
<path d="M1232.5,1446.2 L1197.6,1411.3 L1200.5,1408.4 L1188.8,1405.9 L1191.3,1417.6 L1194.2,1414.7 L1229.1,1449.6 Z" fill="#f02020" stroke="#c01010" stroke-width="0.6"/>
<line x1="1229.4" y1="1446.5" x2="1197.3" y2="1414.4" stroke="#ffd0d0" stroke-width="1" opacity="0.9"/>
<path d="M983.1,1511.4 L1018.0,1546.3 L1015.1,1549.2 L1026.8,1551.7 L1024.3,1540.0 L1021.4,1542.9 L986.5,1508.0 Z" fill="#f02020" stroke="#c01010" stroke-width="0.6"/>
<line x1="986.2" y1="1511.1" x2="1018.3" y2="1543.2" stroke="#ffd0d0" stroke-width="1" opacity="0.9"/>
<path d="M1036.5,1553.4 L1071.4,1518.5 L1074.3,1521.4 L1076.8,1509.7 L1065.1,1512.2 L1068.0,1515.1 L1033.1,1550.0 Z" fill="#f02020" stroke="#c01010" stroke-width="0.6"/>
<line x1="1036.2" y1="1550.3" x2="1068.3" y2="1518.2" stroke="#ffd0d0" stroke-width="1" opacity="0.9"/>
<path d="M1025.1,1558.0 L990.2,1592.9 L987.3,1590.0 L984.8,1601.7 L996.5,1599.2 L993.6,1596.3 L1028.5,1561.4 Z" fill="#f02020" stroke="#c01010" stroke-width="0.6"/>
<line x1="1025.4" y1="1561.1" x2="993.3" y2="1593.2" stroke="#ffd0d0" stroke-width="1" opacity="0.9"/>
<path d="M1078.5,1600.0 L1043.6,1565.1 L1046.5,1562.2 L1034.8,1559.7 L1037.3,1571.4 L1040.2,1568.5 L1075.1,1603.4 Z" fill="#f02020" stroke="#c01010" stroke-width="0.6"/>
<line x1="1075.4" y1="1600.3" x2="1043.3" y2="1568.2" stroke="#ffd0d0" stroke-width="1" opacity="0.9"/>
<path d="M1137.1,1511.4 L1172.0,1546.3 L1169.1,1549.2 L1180.8,1551.7 L1178.3,1540.0 L1175.4,1542.9 L1140.5,1508.0 Z" fill="#f02020" stroke="#c01010" stroke-width="0.6"/>
<line x1="1140.2" y1="1511.1" x2="1172.3" y2="1543.2" stroke="#ffd0d0" stroke-width="1" opacity="0.9"/>
<path d="M1190.5,1553.4 L1225.4,1518.5 L1228.3,1521.4 L1230.8,1509.7 L1219.1,1512.2 L1222.0,1515.1 L1187.1,1550.0 Z" fill="#f02020" stroke="#c01010" stroke-width="0.6"/>
<line x1="1190.2" y1="1550.3" x2="1222.3" y2="1518.2" stroke="#ffd0d0" stroke-width="1" opacity="0.9"/>
<path d="M1179.1,1558.0 L1144.2,1592.9 L1141.3,1590.0 L1138.8,1601.7 L1150.5,1599.2 L1147.6,1596.3 L1182.5,1561.4 Z" fill="#f02020" stroke="#c01010" stroke-width="0.6"/>
<line x1="1179.4" y1="1561.1" x2="1147.3" y2="1593.2" stroke="#ffd0d0" stroke-width="1" opacity="0.9"/>
<path d="M1232.5,1600.0 L1197.6,1565.1 L1200.5,1562.2 L1188.8,1559.7 L1191.3,1571.4 L1194.2,1568.5 L1229.1,1603.4 Z" fill="#f02020" stroke="#c01010" stroke-width="0.6"/>
<line x1="1229.4" y1="1600.3" x2="1197.3" y2="1568.2" stroke="#ffd0d0" stroke-width="1" opacity="0.9"/>
<text x="895" y="1124.5" font-size="38.5" text-anchor="start" fill="#000" >(h)</text>
<text x="931" y="1166" font-size="38" text-anchor="start" fill="#000" >E-1</text>
<text x="932" y="1421" font-size="38" text-anchor="start" fill="#000" >B<tspan font-size="24" dy="9">2g</tspan></text>
<defs>
<linearGradient id="gb" x1="0" y1="0" x2="1" y2="0"><stop offset="0" stop-color="#4a4af8"/><stop offset="0.18" stop-color="#9a9afc"/><stop offset="0.42" stop-color="#f4f4ff"/><stop offset="0.6" stop-color="#e0e0fe"/><stop offset="1" stop-color="#5a5af8"/></linearGradient>
<linearGradient id="gr" x1="0" y1="0" x2="1" y2="0"><stop offset="0" stop-color="#f02828"/><stop offset="0.18" stop-color="#f89090"/><stop offset="0.42" stop-color="#fff4f4"/><stop offset="0.6" stop-color="#fce0e0"/><stop offset="1" stop-color="#ee3a3a"/></linearGradient>
<linearGradient id="gg" x1="0" y1="0" x2="1" y2="0"><stop offset="0" stop-color="#2a9040"/><stop offset="0.18" stop-color="#8ac898"/><stop offset="0.42" stop-color="#f4fbf4"/><stop offset="0.6" stop-color="#dcefdc"/><stop offset="1" stop-color="#3a9a4a"/></linearGradient>
<linearGradient id="garrow" gradientUnits="userSpaceOnUse" x1="1545" y1="1257" x2="1769" y2="1160"><stop offset="0" stop-color="#f0f080" stop-opacity="0.5"/><stop offset="0.35" stop-color="#ecd07a"/><stop offset="0.7" stop-color="#ee8060"/><stop offset="1" stop-color="#f04848"/></linearGradient>
</defs>
<rect x="1468" y="1267.3" width="60.2" height="289.8" fill="url(#gb)"/>
<rect x="1528.2" y="1308.2" width="61.3" height="248.9" fill="url(#gr)"/>
<rect x="1589.5" y="1311" width="60.5" height="246.1" fill="url(#gg)"/>
<rect x="1711.3" y="1220" width="60.5" height="337.1" fill="url(#gb)"/>
<rect x="1771.8" y="1237.9" width="61.2" height="319.2" fill="url(#gr)"/>
<rect x="1833" y="1191" width="61.0" height="366.1" fill="url(#gg)"/>
<path d="M1546,1257 Q1660,1252 1745,1186 L1739,1160.5 L1769,1157 L1764,1188.5 L1757,1178 Q1672,1259 1546,1259.5 Z" fill="url(#garrow)"/>
<line x1="1436.5" y1="1134.3" x2="1914.3" y2="1134.3" stroke="#000" stroke-width="2"/>
<line x1="1436.5" y1="1557.1" x2="1914.3" y2="1557.1" stroke="#000" stroke-width="2"/>
<line x1="1436.5" y1="1133.3" x2="1436.5" y2="1558.1" stroke="#1a1aff" stroke-width="2.2"/>
<line x1="1914.3" y1="1133.3" x2="1914.3" y2="1558.1" stroke="#f02020" stroke-width="2.2"/>
<line x1="1436.5" y1="1134.3" x2="1445" y2="1134.3" stroke="#1a1aff" stroke-width="2" />
<text x="1429" y="1148.3" font-size="34" text-anchor="end" fill="#1a1aff" >0.8</text>
<line x1="1436.5" y1="1240.0" x2="1445" y2="1240.0" stroke="#1a1aff" stroke-width="2" />
<text x="1429" y="1254.0" font-size="34" text-anchor="end" fill="#1a1aff" >0.6</text>
<line x1="1436.5" y1="1345.6999999999998" x2="1445" y2="1345.6999999999998" stroke="#1a1aff" stroke-width="2" />
<text x="1429" y="1359.6999999999998" font-size="34" text-anchor="end" fill="#1a1aff" >0.4</text>
<line x1="1436.5" y1="1451.3999999999999" x2="1445" y2="1451.3999999999999" stroke="#1a1aff" stroke-width="2" />
<text x="1429" y="1465.3999999999999" font-size="34" text-anchor="end" fill="#1a1aff" >0.2</text>
<line x1="1436.5" y1="1557.1" x2="1445" y2="1557.1" stroke="#1a1aff" stroke-width="2" />
<text x="1429" y="1571.1" font-size="34" text-anchor="end" fill="#1a1aff" >0.0</text>
<line x1="1906" y1="1134.3" x2="1914.3" y2="1134.3" stroke="#f02020" stroke-width="2" />
<text x="1929" y="1148.3" font-size="34" text-anchor="start" fill="#f02020" >6</text>
<line x1="1906" y1="1275.2333333333333" x2="1914.3" y2="1275.2333333333333" stroke="#f02020" stroke-width="2" />
<text x="1929" y="1289.2333333333333" font-size="34" text-anchor="start" fill="#f02020" >4</text>
<line x1="1906" y1="1416.1666666666665" x2="1914.3" y2="1416.1666666666665" stroke="#f02020" stroke-width="2" />
<text x="1929" y="1430.1666666666665" font-size="34" text-anchor="start" fill="#f02020" >2</text>
<line x1="1906" y1="1557.1" x2="1914.3" y2="1557.1" stroke="#f02020" stroke-width="2" />
<text x="1929" y="1571.1" font-size="34" text-anchor="start" fill="#f02020" >0</text>
<text transform="translate(1374,1349) rotate(-90)" font-size="42" text-anchor="middle" fill="#1a1aff">λ</text>
<text transform="translate(1968,1349.5) rotate(90)" font-size="40" text-anchor="middle" fill="#f02020">-ICOHP (eV/pair)</text>
<text x="1569" y="1597" font-size="38" text-anchor="middle" fill="#000" >K<tspan font-size="24" dy="5">2</tspan><tspan dy="-5">AuB</tspan><tspan font-size="24" dy="5">6</tspan></text>
<text x="1820" y="1597" font-size="38" text-anchor="middle" fill="#000" >Na<tspan font-size="24" dy="5">2</tspan><tspan dy="-5">AuB</tspan><tspan font-size="24" dy="5">6</tspan></text>
<text x="1620" y="1304.5" font-size="31.5" text-anchor="middle" fill="#000" >7.0 K</text>
<text x="1862.5" y="1181.5" font-size="31.5" text-anchor="middle" fill="#000" >10.4 K</text>
<text x="1333" y="1124.5" font-size="38.5" text-anchor="start" fill="#000" >(i)</text>
<rect x="1468" y="1104.5" width="40.3" height="19.3" fill="url(#gb)"/>
<text x="1520" y="1124" font-size="34" text-anchor="start" fill="#1a1aff" >λ</text>
<rect x="1623.8" y="1104.5" width="40.2" height="19.3" fill="url(#gr)"/>
<text x="1667" y="1124" font-size="32" text-anchor="start" fill="#f02020" >-ICOHP</text>
<rect x="1793.5" y="1104.5" width="40.3" height="19.3" fill="url(#gg)"/>
<text x="1842" y="1124" font-size="32" text-anchor="start" fill="#2a9040" ><tspan font-style="italic">T</tspan><tspan font-style="italic" font-size="22" dy="6">c</tspan><tspan dy="-6"> (K)</tspan></text>
<rect x="101.5" y="38" width="479.5" height="426" fill="none" stroke="#000" stroke-width="2.2"/>
<rect x="99.9" y="582.3" width="479.30000000000007" height="425.9000000000001" fill="none" stroke="#000" stroke-width="2.2"/>
<rect x="1438.3" y="34" width="483.0" height="429" fill="none" stroke="#000" stroke-width="2.2"/>
<rect x="1438.6" y="581" width="482.70000000000005" height="428.70000000000005" fill="none" stroke="#000" stroke-width="2.2"/>
<rect x="97.4" y="1128.7" width="432.4" height="431.79999999999995" fill="none" stroke="#000" stroke-width="2.2"/>
<rect x="529.8" y="1128.7" width="161.4000000000001" height="431.79999999999995" fill="none" stroke="#000" stroke-width="2.2"/>
<rect x="691.2" y="1128.7" width="162.69999999999993" height="431.79999999999995" fill="none" stroke="#000" stroke-width="2.2"/>
</svg>
</body></html>
